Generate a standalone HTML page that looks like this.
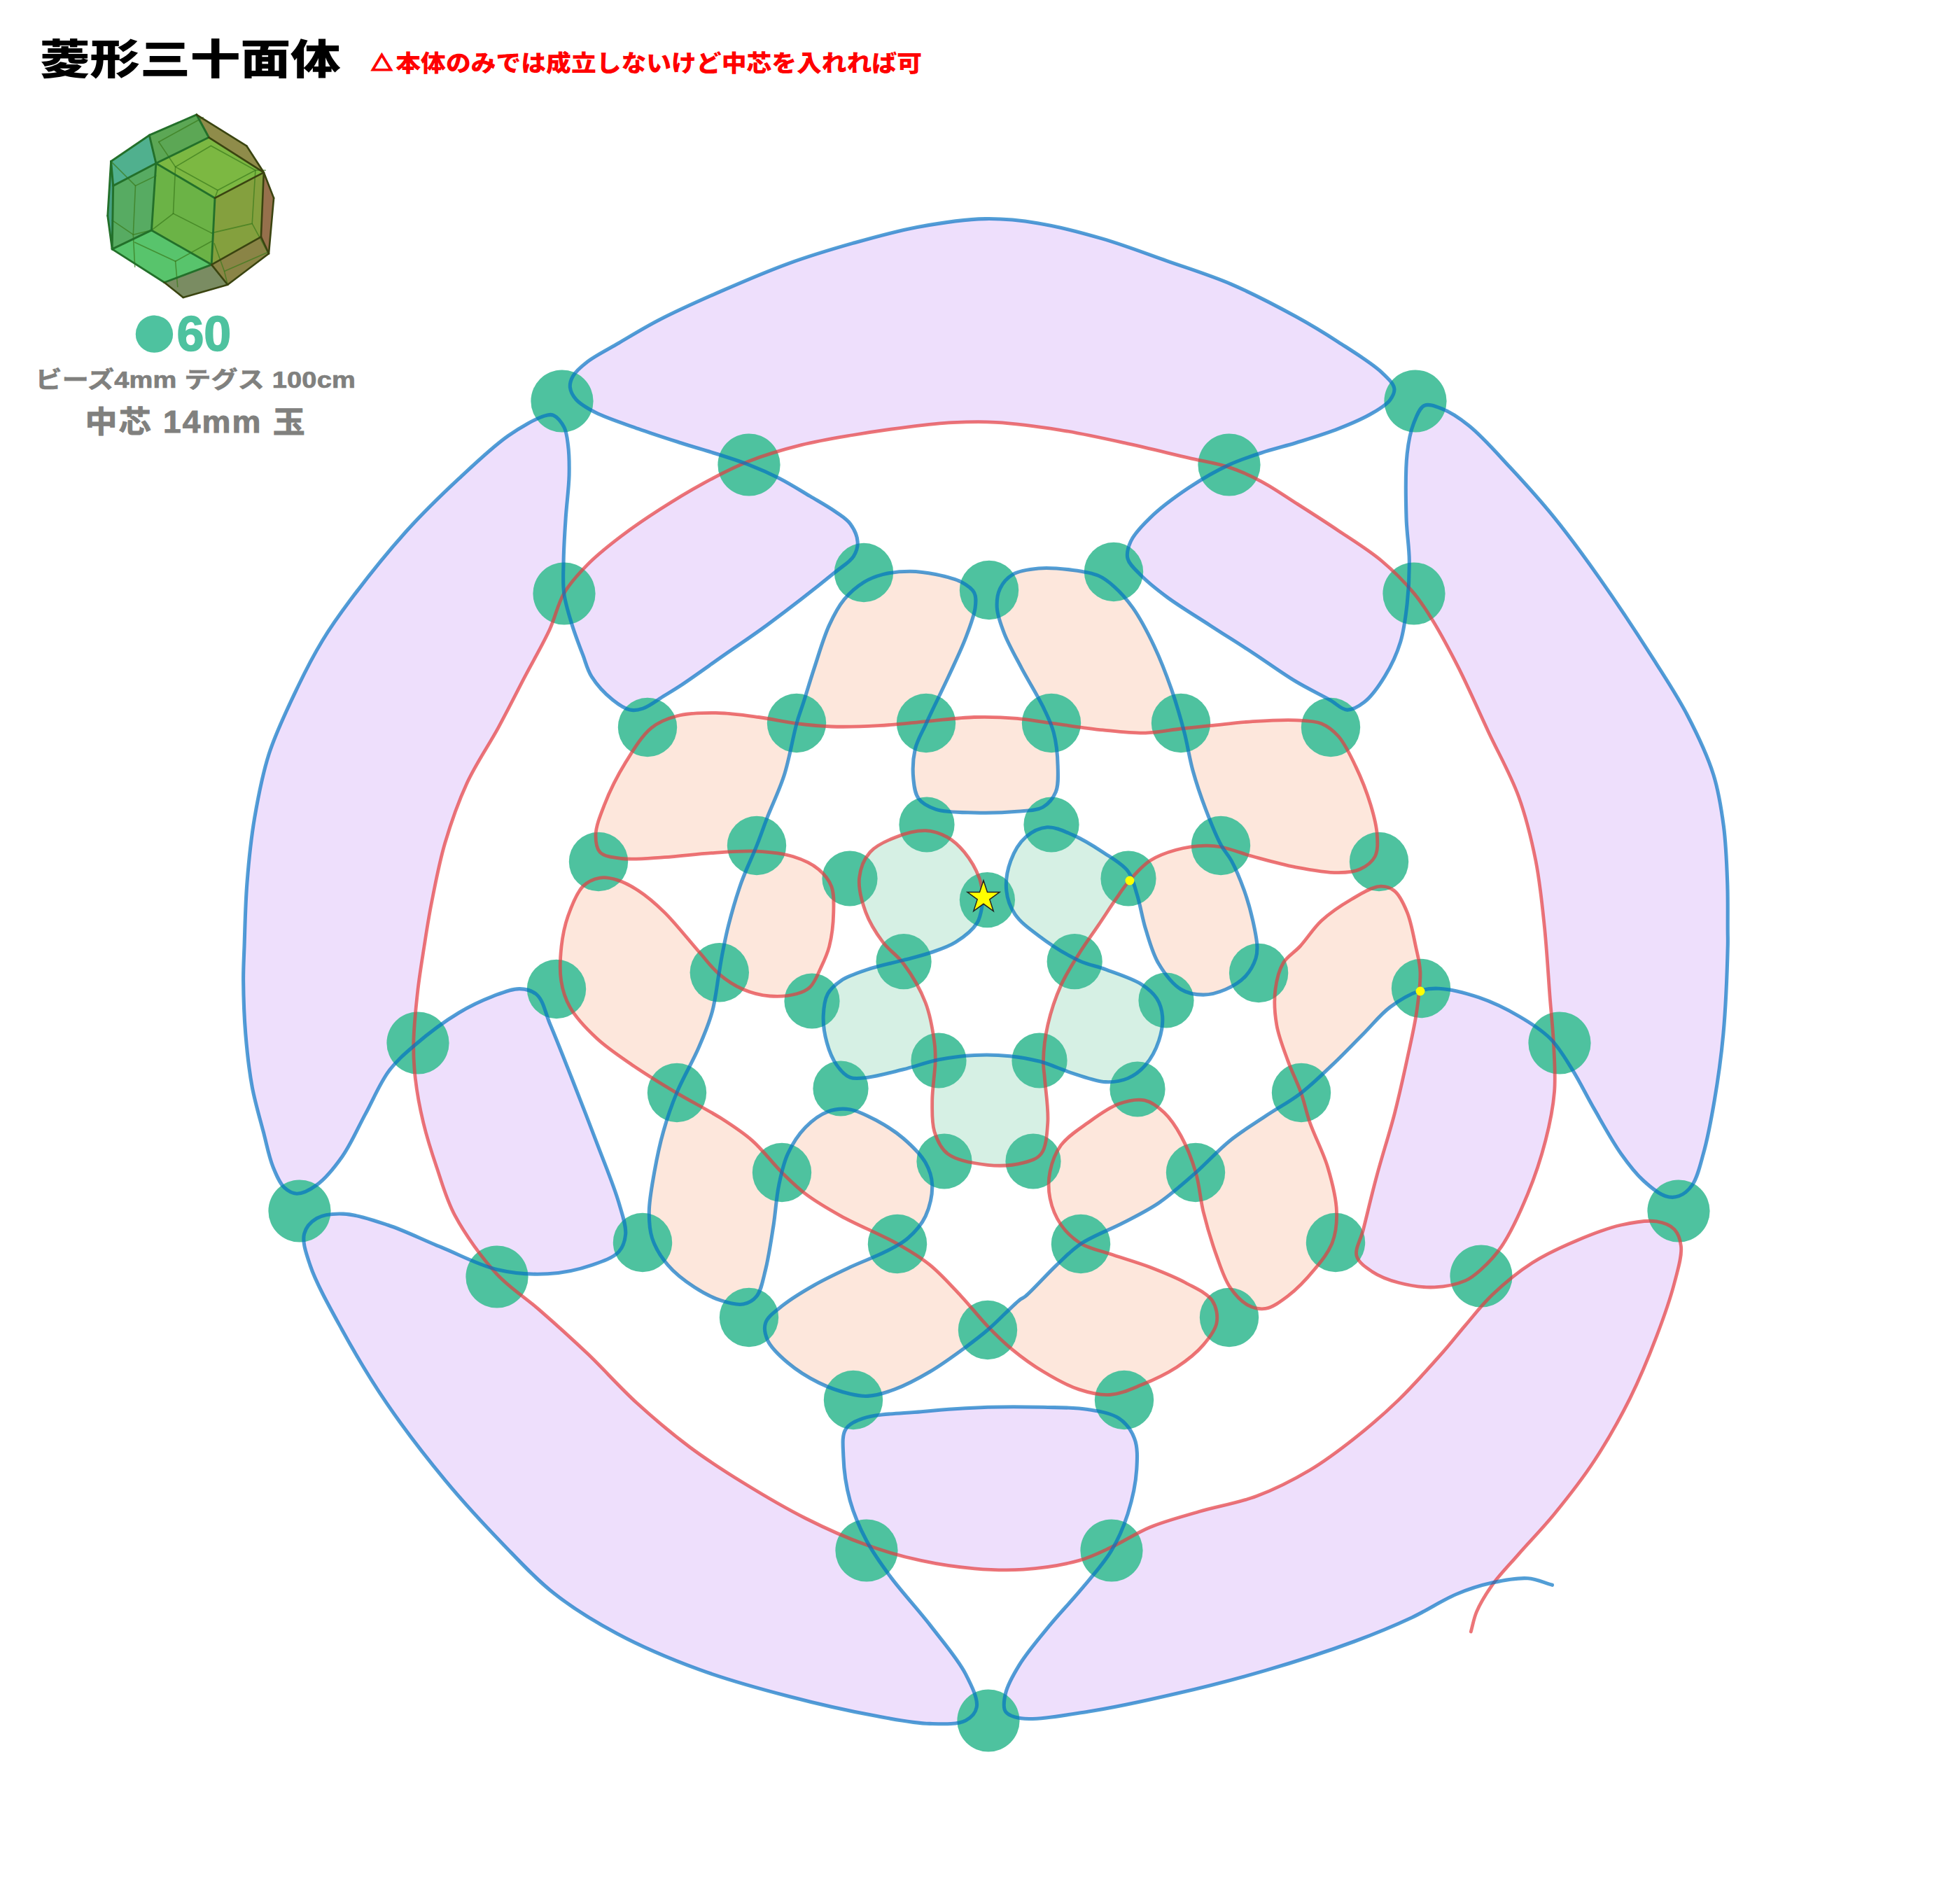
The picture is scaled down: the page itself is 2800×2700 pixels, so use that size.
<!DOCTYPE html>
<html lang="ja"><head><meta charset="utf-8"><title>菱形三十面体</title>
<style>
html,body{margin:0;padding:0;background:#fff}
body{width:2800px;height:2700px;position:relative;overflow:hidden;font-family:"Liberation Sans","Noto Sans CJK JP",sans-serif}
.t{position:absolute;white-space:nowrap;line-height:1;transform-origin:0 0}
</style></head><body>
<svg width="2800" height="2700" viewBox="0 0 2800 2700" style="position:absolute;left:0;top:0">
<path d="M1061.9 661.0L1058.0 659.6L1054.1 658.2L1050.2 656.9L1046.2 655.6L1042.3 654.3L1038.3 653.0L1034.4 651.8L1030.4 650.5L1026.4 649.2L1022.5 648.0L1018.4 646.7L1014.4 645.4L1010.4 644.2L1006.4 643.0L1002.3 641.8L998.3 640.6L994.2 639.4L990.1 638.1L986.0 636.9L981.8 635.6L977.6 634.3L973.3 633.0L968.4 631.4L963.5 629.8L958.4 628.2L953.3 626.6L948.2 624.9L943.0 623.2L937.8 621.5L932.5 619.7L927.3 618.0L922.1 616.2L917.0 614.4L911.9 612.6L906.7 610.8L901.3 608.9L895.9 607.0L890.5 605.1L885.0 603.2L879.6 601.3L874.3 599.3L869.2 597.4L864.2 595.4L859.4 593.4L854.9 591.3L850.7 589.3L847.9 587.8L845.1 586.3L842.4 584.9L839.8 583.4L837.3 581.9L834.8 580.4L832.5 578.9L830.3 577.3L828.3 575.8L826.3 574.1L824.6 572.5L823.0 570.7L821.8 569.4L820.8 568.0L819.7 566.6L818.8 565.1L818.0 563.7L817.2 562.2L816.5 560.7L815.9 559.2L815.4 557.7L815.0 556.3L814.6 554.8L814.4 553.3L814.4 552.0L814.3 550.7L814.4 549.3L814.6 548.0L814.8 546.7L815.2 545.3L815.6 544.0L816.0 542.7L816.5 541.4L817.1 540.0L817.8 538.7L818.5 537.4L819.6 535.7L820.8 534.0L822.2 532.2L823.6 530.5L825.2 528.8L826.9 527.1L828.8 525.4L830.7 523.7L832.6 522.1L834.7 520.4L836.8 518.7L838.9 517.0L841.9 514.7L845.2 512.5L848.6 510.3L852.2 508.0L855.9 505.8L859.8 503.6L863.7 501.4L867.8 499.2L871.8 496.9L875.9 494.6L880.0 492.3L884.0 490.0L888.6 487.3L893.1 484.6L897.7 481.9L902.4 479.1L907.1 476.3L911.9 473.5L916.7 470.7L921.7 467.9L926.7 465.0L931.9 462.2L937.2 459.3L942.6 456.5L949.5 453.0L956.6 449.5L964.0 445.9L971.5 442.3L979.2 438.7L987.1 435.1L995.0 431.5L1002.9 427.9L1010.9 424.4L1018.8 420.9L1026.7 417.5L1034.4 414.1L1042.1 410.7L1049.7 407.4L1057.4 404.1L1065.1 400.8L1072.7 397.6L1080.4 394.4L1088.1 391.2L1095.8 388.1L1103.5 385.0L1111.2 382.1L1118.9 379.1L1126.7 376.3L1134.3 373.6L1141.9 370.9L1149.5 368.4L1157.2 365.8L1164.8 363.4L1172.5 361.0L1180.1 358.6L1187.8 356.3L1195.5 354.0L1203.2 351.8L1210.8 349.6L1218.5 347.4L1226.1 345.3L1233.7 343.1L1241.3 341.0L1248.9 338.9L1256.6 336.9L1264.2 334.9L1271.8 332.9L1279.5 331.1L1287.1 329.3L1294.8 327.6L1302.6 325.9L1310.4 324.4L1318.4 323.0L1326.5 321.6L1334.6 320.2L1342.9 318.9L1351.1 317.7L1359.4 316.5L1367.6 315.5L1375.8 314.6L1383.9 313.9L1391.9 313.3L1399.7 312.8L1407.4 312.6L1414.0 312.5L1420.5 312.6L1426.9 312.8L1433.2 313.0L1439.4 313.4L1445.6 314.0L1451.7 314.6L1457.9 315.3L1464.1 316.0L1470.4 316.9L1476.8 317.9L1483.3 318.9L1490.7 320.2L1498.2 321.6L1505.8 323.1L1513.4 324.8L1521.1 326.6L1528.9 328.4L1536.6 330.4L1544.4 332.5L1552.1 334.6L1559.9 336.7L1567.6 338.9L1575.2 341.1L1582.9 343.4L1590.5 345.8L1598.2 348.3L1605.8 350.9L1613.4 353.5L1621.0 356.2L1628.6 358.9L1636.2 361.6L1643.8 364.4L1651.4 367.1L1659.0 369.9L1666.7 372.6L1674.4 375.3L1682.1 377.9L1689.8 380.6L1697.6 383.2L1705.3 385.9L1713.1 388.5L1720.8 391.3L1728.5 394.0L1736.2 396.9L1743.9 399.9L1751.6 402.9L1759.2 406.1L1767.0 409.5L1774.9 413.1L1782.8 416.8L1790.7 420.6L1798.7 424.5L1806.5 428.5L1814.3 432.5L1822.0 436.4L1829.5 440.4L1836.9 444.4L1844.1 448.2L1851.0 452.0L1856.6 455.1L1862.0 458.2L1867.3 461.2L1872.5 464.2L1877.6 467.2L1882.6 470.2L1887.5 473.2L1892.5 476.2L1897.4 479.3L1902.3 482.4L1907.2 485.5L1912.2 488.8L1917.5 492.2L1923.0 495.7L1928.6 499.3L1934.2 502.9L1939.8 506.6L1945.4 510.3L1950.8 514.0L1956.0 517.7L1961.0 521.3L1965.6 524.8L1969.8 528.3L1973.5 531.6L1975.6 533.7L1977.8 535.7L1979.9 537.7L1981.8 539.7L1983.7 541.6L1985.5 543.6L1987.1 545.5L1988.5 547.4L1989.7 549.3L1990.7 551.2L1991.4 553.0L1991.8 554.9L1992.0 556.3L1992.0 557.8L1991.8 559.2L1991.5 560.6L1991.1 562.0L1990.6 563.4L1989.9 564.8L1989.2 566.1L1988.4 567.5L1987.6 568.8L1986.7 570.1L1985.7 571.4L1984.4 573.1L1982.8 574.7L1981.2 576.3L1979.3 577.9L1977.4 579.4L1975.3 580.9L1973.1 582.4L1970.9 583.9L1968.5 585.4L1966.1 586.8L1963.7 588.3L1961.2 589.8L1957.8 591.8L1954.2 593.7L1950.5 595.7L1946.5 597.6L1942.5 599.6L1938.3 601.5L1934.1 603.4L1929.8 605.3L1925.4 607.1L1921.0 608.9L1916.6 610.7L1912.2 612.4L1907.4 614.3L1902.4 616.2L1897.3 618.0L1892.0 619.8L1886.8 621.5L1881.5 623.2L1876.2 624.9L1870.9 626.5L1865.8 628.1L1860.7 629.7L1855.8 631.2L1851.0 632.7L1847.2 633.8L1843.5 634.9L1839.9 635.9L1836.3 636.9L1832.8 637.8L1829.4 638.8L1825.9 639.7L1822.4 640.6L1819.0 641.6L1815.4 642.6L1811.8 643.7L1808.2 644.9L1804.0 646.3L1799.8 647.6L1795.5 649.0L1791.2 650.4L1786.8 651.9L1782.5 653.4L1778.1 654.9L1773.7 656.6L1769.3 658.3L1764.9 660.0L1760.5 661.9L1756.1 663.9L1751.3 666.2L1751.6 666.1L1747.1 664.8L1742.5 663.6L1737.8 662.5L1733.2 661.5L1728.4 660.5L1723.6 659.5L1718.6 658.5L1713.6 657.5L1708.5 656.4L1703.3 655.3L1698.0 654.1L1691.0 652.5L1683.9 650.8L1676.5 649.0L1668.9 647.2L1661.2 645.4L1653.4 643.5L1645.5 641.6L1637.5 639.8L1629.6 637.9L1621.7 636.1L1613.9 634.4L1606.1 632.7L1598.5 631.0L1590.8 629.3L1583.2 627.7L1575.6 626.0L1567.9 624.4L1560.3 622.8L1552.6 621.3L1545.0 619.8L1537.3 618.3L1529.6 616.9L1522.0 615.6L1514.3 614.3L1506.6 613.1L1498.8 611.9L1490.9 610.7L1483.0 609.6L1475.1 608.5L1467.3 607.5L1459.5 606.6L1451.7 605.7L1444.1 605.0L1436.7 604.3L1429.5 603.7L1422.4 603.3L1416.9 603.0L1411.5 602.8L1406.3 602.7L1401.1 602.6L1396.0 602.6L1391.0 602.6L1386.0 602.7L1381.1 602.8L1376.1 603.0L1371.2 603.2L1366.2 603.4L1361.1 603.7L1356.0 604.0L1351.0 604.3L1346.0 604.7L1341.0 605.1L1336.1 605.6L1331.1 606.1L1326.1 606.6L1321.0 607.2L1315.9 607.7L1310.7 608.3L1305.4 609.0L1300.0 609.6L1293.6 610.4L1287.0 611.3L1280.3 612.1L1273.5 613.1L1266.6 614.0L1259.7 615.0L1252.7 616.0L1245.8 617.1L1238.8 618.2L1232.0 619.3L1225.2 620.4L1218.5 621.5L1212.2 622.5L1206.0 623.6L1199.8 624.6L1193.7 625.7L1187.5 626.8L1181.4 627.9L1175.4 629.0L1169.3 630.2L1163.2 631.5L1157.1 632.8L1151.0 634.2L1144.9 635.7L1138.6 637.3L1132.3 639.0L1125.9 640.7L1119.5 642.4L1113.1 644.3L1106.8 646.2L1100.4 648.1L1094.1 650.2L1087.9 652.3L1081.7 654.4L1075.6 656.7L1069.6 659.0L1063.9 661.3Z" fill="#EEDFFC"/>
<path d="M1061.9 661.0L1065.7 662.4L1069.6 663.9L1073.4 665.4L1077.2 666.9L1080.9 668.4L1084.6 670.0L1088.4 671.6L1092.1 673.2L1095.8 674.9L1099.5 676.6L1103.1 678.3L1106.8 680.1L1110.4 681.9L1114.1 683.7L1117.8 685.6L1121.4 687.6L1125.1 689.7L1128.8 691.8L1132.5 693.9L1136.1 696.0L1139.7 698.2L1143.3 700.4L1146.9 702.6L1150.4 704.7L1153.9 706.8L1157.4 708.9L1160.6 710.8L1163.8 712.7L1167.0 714.5L1170.2 716.4L1173.3 718.2L1176.5 720.1L1179.5 721.9L1182.6 723.8L1185.5 725.6L1188.3 727.5L1191.1 729.3L1193.7 731.1L1195.7 732.5L1197.8 733.9L1199.7 735.3L1201.7 736.6L1203.6 738.0L1205.4 739.3L1207.1 740.7L1208.8 742.1L1210.5 743.6L1212.0 745.1L1213.5 746.8L1214.8 748.5L1216.1 750.4L1217.4 752.4L1218.6 754.5L1219.8 756.6L1220.8 758.9L1221.8 761.1L1222.7 763.4L1223.5 765.7L1224.1 768.0L1224.6 770.2L1225.0 772.4L1225.2 774.4L1225.2 776.2L1225.2 778.0L1225.0 779.7L1224.7 781.5L1224.4 783.2L1223.9 784.9L1223.4 786.6L1222.7 788.3L1222.0 789.9L1221.2 791.6L1220.2 793.2L1219.3 794.8L1217.8 796.8L1216.3 798.7L1214.5 800.5L1212.6 802.3L1210.6 804.0L1208.4 805.8L1206.0 807.5L1203.6 809.4L1201.0 811.3L1198.3 813.3L1195.5 815.5L1192.6 817.8L1186.6 822.6L1179.8 828.1L1172.2 834.1L1164.1 840.5L1155.6 847.2L1146.8 854.1L1137.8 861.1L1128.9 868.0L1120.1 874.7L1111.5 881.2L1103.5 887.3L1095.9 892.9L1090.4 896.9L1085.0 900.8L1079.7 904.5L1074.6 908.2L1069.5 911.7L1064.5 915.2L1059.6 918.6L1054.6 921.9L1049.7 925.3L1044.8 928.7L1039.8 932.2L1034.7 935.7L1029.5 939.4L1024.2 943.1L1018.8 947.0L1013.3 950.8L1007.8 954.7L1002.4 958.5L997.1 962.3L991.9 966.0L986.9 969.4L982.1 972.7L977.6 975.8L973.5 978.6L971.1 980.1L968.8 981.6L966.7 983.0L964.6 984.3L962.7 985.5L960.8 986.7L958.9 987.9L957.0 989.0L955.1 990.2L953.1 991.4L951.1 992.6L949.0 993.9L946.5 995.4L944.0 997.1L941.4 998.8L938.8 1000.6L936.2 1002.4L933.5 1004.1L930.9 1005.8L928.3 1007.4L925.7 1008.9L923.2 1010.2L920.7 1011.4L918.4 1012.2L916.7 1012.8L915.1 1013.2L913.6 1013.7L912.1 1014.0L910.6 1014.3L909.1 1014.5L907.6 1014.6L906.1 1014.7L904.6 1014.7L903.1 1014.6L901.6 1014.4L900.0 1014.1L898.0 1013.6L896.0 1012.9L894.0 1012.1L892.0 1011.1L889.9 1010.1L887.9 1008.9L885.8 1007.6L883.7 1006.2L881.7 1004.7L879.6 1003.2L877.5 1001.6L875.5 1000.0L872.9 997.8L870.2 995.4L867.4 992.9L864.7 990.2L861.9 987.3L859.1 984.4L856.5 981.4L853.9 978.4L851.4 975.3L849.1 972.3L846.9 969.2L845.0 966.3L843.5 963.8L842.2 961.4L841.0 958.9L840.0 956.4L839.0 954.0L838.1 951.5L837.2 948.9L836.4 946.4L835.5 943.8L834.6 941.1L833.7 938.5L832.7 935.7L831.4 932.4L830.1 929.0L828.8 925.6L827.5 922.1L826.1 918.5L824.8 914.9L823.5 911.2L822.2 907.6L820.9 903.9L819.7 900.2L818.5 896.5L817.3 892.9L816.2 889.2L815.1 885.4L813.9 881.7L812.8 877.9L811.7 874.2L810.6 870.4L809.6 866.6L808.6 862.8L807.8 859.0L807.0 855.2L806.3 851.4L805.7 847.6L805.7 847.6L808.0 843.8L810.4 840.2L812.9 836.7L815.5 833.2L818.2 829.8L820.9 826.4L823.8 823.1L826.7 819.9L829.6 816.7L832.7 813.5L835.7 810.3L838.8 807.1L842.0 803.9L845.3 800.7L848.7 797.6L852.1 794.5L855.5 791.5L859.1 788.5L862.7 785.5L866.3 782.5L870.0 779.5L873.8 776.5L877.7 773.5L881.6 770.4L886.3 766.8L891.1 763.2L896.0 759.6L901.0 756.0L906.2 752.3L911.4 748.7L916.6 745.1L921.9 741.5L927.2 737.9L932.4 734.4L937.7 730.9L942.9 727.6L947.9 724.3L952.9 721.1L958.0 717.9L963.0 714.7L968.1 711.6L973.2 708.5L978.2 705.5L983.4 702.5L988.5 699.5L993.7 696.6L998.8 693.7L1004.1 690.8L1009.4 687.9L1014.7 685.1L1020.0 682.3L1025.4 679.5L1030.8 676.7L1036.2 674.0L1041.6 671.3L1047.1 668.7L1052.7 666.2L1058.2 663.7L1063.9 661.3Z" fill="#EEDFFC"/>
<path d="M2012.0 842.1L2011.6 847.2L2011.2 852.3L2010.7 857.3L2010.2 862.2L2009.7 866.9L2009.2 871.6L2008.6 876.3L2008.0 881.0L2007.4 885.6L2006.7 890.2L2005.9 894.7L2005.1 899.3L2004.2 903.8L2003.2 908.2L2002.0 912.7L2000.7 917.0L1999.4 921.3L1997.9 925.6L1996.3 929.8L1994.6 934.1L1992.9 938.2L1991.0 942.4L1989.1 946.5L1987.1 950.5L1985.0 954.5L1982.9 958.4L1980.7 962.2L1978.5 965.9L1976.4 969.4L1974.1 972.9L1971.8 976.4L1969.4 979.9L1967.0 983.3L1964.5 986.6L1962.0 989.8L1959.4 992.9L1956.8 995.8L1954.2 998.5L1951.6 1000.9L1949.0 1003.1L1947.0 1004.6L1945.0 1006.0L1943.0 1007.4L1940.9 1008.7L1938.9 1009.9L1936.8 1011.0L1934.8 1012.0L1932.7 1012.8L1930.6 1013.4L1928.6 1013.8L1926.5 1014.1L1924.5 1014.1L1922.5 1013.8L1920.5 1013.3L1918.5 1012.5L1916.6 1011.4L1914.7 1010.2L1912.8 1008.9L1910.8 1007.5L1908.8 1005.9L1906.7 1004.4L1904.6 1002.9L1902.3 1001.4L1900.0 1000.0L1896.5 998.1L1892.8 996.1L1889.0 994.1L1885.0 992.0L1880.9 989.9L1876.7 987.7L1872.4 985.4L1868.1 983.1L1863.7 980.8L1859.4 978.4L1855.0 975.9L1850.7 973.3L1845.8 970.3L1840.9 967.2L1835.8 963.9L1830.8 960.5L1825.7 957.1L1820.5 953.6L1815.4 950.0L1810.2 946.5L1805.0 942.9L1799.9 939.4L1794.8 936.0L1789.6 932.6L1784.5 929.3L1779.5 926.0L1774.4 922.7L1769.3 919.4L1764.2 916.2L1759.1 912.9L1754.0 909.7L1748.9 906.4L1743.8 903.2L1738.7 899.9L1733.6 896.6L1728.5 893.3L1723.4 890.0L1718.1 886.6L1712.8 883.3L1707.5 879.9L1702.1 876.5L1696.8 873.1L1691.6 869.7L1686.4 866.3L1681.4 863.0L1676.5 859.6L1671.8 856.3L1667.3 853.1L1663.8 850.4L1660.4 847.9L1657.0 845.3L1653.7 842.7L1650.5 840.2L1647.4 837.6L1644.4 835.1L1641.4 832.6L1638.6 830.0L1635.8 827.5L1633.2 825.0L1630.6 822.5L1628.6 820.4L1626.5 818.4L1624.5 816.4L1622.5 814.4L1620.5 812.4L1618.6 810.4L1616.9 808.4L1615.3 806.3L1613.9 804.3L1612.7 802.2L1611.7 800.1L1611.0 798.0L1610.6 796.0L1610.4 794.0L1610.3 792.0L1610.4 790.0L1610.6 788.0L1611.0 785.9L1611.5 783.9L1612.1 781.8L1612.8 779.7L1613.5 777.6L1614.4 775.5L1615.3 773.5L1616.7 770.7L1618.3 767.9L1620.1 765.2L1622.1 762.4L1624.3 759.6L1626.6 756.7L1629.1 753.9L1631.7 751.1L1634.4 748.3L1637.2 745.4L1640.0 742.6L1642.9 739.8L1646.6 736.2L1650.7 732.6L1654.9 728.9L1659.4 725.2L1664.0 721.5L1668.7 717.8L1673.5 714.2L1678.4 710.6L1683.3 707.0L1688.3 703.6L1693.1 700.2L1698.0 696.9L1702.7 693.8L1707.4 690.8L1712.2 687.8L1717.1 684.8L1722.0 681.9L1726.8 679.1L1731.7 676.3L1736.7 673.6L1741.6 671.0L1746.4 668.5L1751.3 666.2L1751.6 666.1L1756.1 667.6L1760.2 668.9L1764.2 670.4L1768.1 671.9L1772.0 673.4L1775.8 675.0L1779.5 676.7L1783.3 678.4L1787.0 680.1L1790.7 682.0L1794.5 683.8L1798.2 685.8L1802.0 687.8L1806.1 690.0L1810.2 692.3L1814.2 694.7L1818.2 697.1L1822.2 699.6L1826.2 702.2L1830.3 704.8L1834.3 707.5L1838.4 710.2L1842.6 712.9L1846.8 715.6L1851.0 718.4L1855.9 721.5L1860.9 724.6L1865.9 727.9L1871.0 731.1L1876.1 734.4L1881.3 737.8L1886.5 741.1L1891.6 744.5L1896.8 747.9L1902.0 751.3L1907.1 754.7L1912.2 758.2L1917.4 761.6L1922.6 765.1L1927.9 768.5L1933.2 772.0L1938.4 775.5L1943.7 779.0L1948.8 782.5L1954.0 786.1L1959.0 789.8L1964.0 793.4L1968.8 797.2L1973.5 801.0L1977.8 804.7L1982.0 808.4L1986.2 812.2L1990.4 816.1L1994.4 820.0L1998.4 823.9L2002.3 827.9L2006.1 831.9L2009.7 835.8L2013.3 839.8Z" fill="#EEDFFC"/>
<path d="M805.7 847.6L805.3 843.7L804.9 839.9L804.7 836.2L804.6 832.4L804.5 828.6L804.5 824.8L804.6 820.9L804.7 817.1L804.8 813.1L804.9 809.2L805.0 805.1L805.1 801.0L805.2 796.2L805.4 791.3L805.5 786.3L805.8 781.2L806.0 776.1L806.3 770.9L806.6 765.7L806.9 760.5L807.2 755.3L807.5 750.1L807.8 744.9L808.2 739.8L808.5 734.7L809.0 729.5L809.4 724.2L809.9 719.0L810.4 713.7L811.0 708.5L811.5 703.3L811.9 698.2L812.3 693.1L812.7 688.2L812.9 683.3L813.1 678.6L813.1 674.7L813.2 670.8L813.2 667.0L813.2 663.2L813.1 659.5L813.0 655.9L812.8 652.3L812.7 648.7L812.4 645.3L812.2 642.0L811.9 638.7L811.5 635.6L811.2 633.2L810.9 630.9L810.6 628.6L810.3 626.4L810.0 624.2L809.6 622.1L809.2 620.0L808.7 618.0L808.2 616.0L807.5 614.1L806.8 612.2L805.9 610.4L805.0 608.7L804.0 606.9L802.9 605.2L801.7 603.5L800.4 601.8L799.1 600.2L797.7 598.6L796.3 597.3L794.9 596.0L793.5 594.9L792.1 594.0L790.7 593.3L789.7 593.0L788.7 592.7L787.8 592.5L786.8 592.4L785.8 592.4L784.8 592.5L783.8 592.6L782.7 592.8L781.6 593.0L780.4 593.3L779.1 593.7L777.8 594.1L774.6 595.1L771.1 596.5L767.2 598.2L763.1 600.2L758.7 602.4L754.1 604.9L749.5 607.6L744.7 610.4L739.9 613.3L735.2 616.4L730.5 619.5L725.9 622.6L720.3 626.7L714.5 631.0L708.7 635.7L702.9 640.6L697.0 645.6L691.1 650.9L685.2 656.2L679.2 661.7L673.3 667.2L667.4 672.7L661.5 678.2L655.6 683.7L649.4 689.5L643.2 695.3L637.0 701.2L630.8 707.1L624.7 713.1L618.5 719.2L612.3 725.4L606.1 731.6L600.0 738.0L593.8 744.5L587.7 751.1L581.5 757.8L574.6 765.6L567.5 773.7L560.3 782.1L553.1 790.7L545.9 799.4L538.7 808.2L531.7 817.0L524.8 825.6L518.1 834.1L511.7 842.4L505.7 850.3L500.0 857.8L496.1 863.0L492.3 868.1L488.8 873.0L485.3 877.7L482.0 882.4L478.8 887.0L475.7 891.6L472.6 896.2L469.6 900.8L466.5 905.5L463.5 910.3L460.5 915.2L457.4 920.3L454.4 925.5L451.4 930.6L448.6 935.8L445.7 941.0L442.9 946.3L440.1 951.7L437.3 957.1L434.5 962.6L431.7 968.3L428.9 974.1L426.0 980.0L422.5 987.3L418.9 994.9L415.2 1002.6L411.4 1010.6L407.7 1018.6L404.0 1026.8L400.4 1035.1L396.9 1043.4L393.5 1051.7L390.3 1060.0L387.3 1068.2L384.5 1076.3L382.1 1083.9L379.9 1091.6L377.8 1099.2L375.9 1106.8L374.0 1114.5L372.3 1122.1L370.7 1129.8L369.2 1137.4L367.8 1145.1L366.4 1152.8L365.0 1160.5L363.7 1168.1L362.4 1175.8L361.3 1183.5L360.2 1191.1L359.1 1198.8L358.2 1206.5L357.3 1214.2L356.5 1221.9L355.7 1229.6L354.9 1237.3L354.2 1245.0L353.6 1252.7L353.0 1260.4L352.4 1268.1L351.9 1276.0L351.4 1284.0L351.1 1292.0L350.7 1300.0L350.4 1308.0L350.1 1315.9L349.9 1323.6L349.6 1331.1L349.4 1338.4L349.2 1345.4L349.0 1352.0L348.8 1356.6L348.6 1360.9L348.5 1365.0L348.3 1369.0L348.1 1372.9L348.0 1376.7L347.9 1380.5L347.8 1384.3L347.7 1388.2L347.6 1392.2L347.6 1396.4L347.6 1400.8L347.7 1406.6L347.8 1412.5L347.9 1418.7L348.0 1424.9L348.2 1431.4L348.5 1437.8L348.7 1444.4L349.1 1451.0L349.4 1457.6L349.8 1464.1L350.3 1470.6L350.8 1477.0L351.3 1483.4L351.9 1489.8L352.5 1496.2L353.2 1502.7L353.9 1509.1L354.7 1515.6L355.5 1522.0L356.3 1528.4L357.2 1534.7L358.2 1540.9L359.2 1547.1L360.3 1553.2L361.4 1558.7L362.6 1564.2L363.8 1569.7L365.1 1575.1L366.5 1580.5L367.9 1585.8L369.3 1591.1L370.7 1596.3L372.1 1601.5L373.5 1606.6L374.9 1611.7L376.2 1616.7L377.3 1621.1L378.4 1625.6L379.5 1630.0L380.6 1634.5L381.6 1638.8L382.7 1643.2L383.8 1647.4L384.9 1651.6L386.1 1655.6L387.3 1659.6L388.6 1663.4L390.0 1667.0L391.2 1669.9L392.4 1672.8L393.6 1675.6L394.8 1678.4L396.1 1681.1L397.4 1683.8L398.7 1686.3L400.1 1688.7L401.6 1691.0L403.1 1693.1L404.6 1695.0L406.3 1696.7L407.6 1697.9L408.9 1699.0L410.3 1700.0L411.7 1701.0L413.2 1701.9L414.6 1702.7L416.1 1703.4L417.7 1704.0L419.2 1704.5L420.8 1704.9L422.4 1705.1L424.1 1705.2L426.2 1705.1L428.4 1704.8L430.7 1704.3L433.0 1703.5L435.4 1702.7L437.9 1701.6L440.3 1700.4L442.8 1699.1L445.2 1697.6L447.6 1696.1L450.0 1694.5L452.4 1692.9L455.5 1690.5L458.6 1687.8L461.8 1684.9L464.9 1681.8L468.0 1678.5L471.1 1675.1L474.2 1671.5L477.3 1667.7L480.3 1663.9L483.2 1660.0L486.1 1656.1L488.9 1652.2L492.0 1647.7L494.9 1643.0L497.8 1638.1L500.6 1633.0L503.4 1627.9L506.1 1622.7L508.8 1617.4L511.4 1612.1L514.1 1606.8L516.8 1601.5L519.5 1596.3L522.2 1591.1L525.0 1586.0L527.7 1580.7L530.3 1575.4L533.0 1570.0L535.6 1564.6L538.3 1559.3L541.0 1554.1L543.7 1548.9L546.5 1543.9L549.4 1539.0L552.4 1534.4L555.6 1530.0L558.3 1526.4L561.1 1523.0L564.0 1519.7L566.9 1516.6L569.8 1513.6L572.8 1510.6L575.9 1507.7L579.0 1504.8L582.2 1501.9L585.6 1499.0L589.0 1496.0L592.6 1493.0L590.7 1494.3L590.8 1489.7L590.9 1483.8L591.2 1477.8L591.5 1471.5L592.0 1465.1L592.5 1458.6L593.0 1452.0L593.6 1445.4L594.3 1438.8L594.9 1432.3L595.6 1425.9L596.3 1419.6L597.0 1413.5L597.6 1408.1L598.3 1402.9L599.0 1397.6L599.7 1392.5L600.5 1387.4L601.2 1382.3L602.0 1377.3L602.8 1372.2L603.6 1367.2L604.4 1362.2L605.2 1357.1L606.0 1352.0L606.8 1346.9L607.6 1341.8L608.4 1336.8L609.2 1331.8L610.0 1326.8L610.8 1321.8L611.6 1316.8L612.5 1311.7L613.4 1306.5L614.3 1301.2L615.3 1295.9L616.4 1290.4L617.7 1283.7L619.0 1276.9L620.4 1269.9L621.8 1262.8L623.3 1255.6L624.8 1248.4L626.4 1241.1L628.1 1233.7L629.8 1226.4L631.7 1219.1L633.6 1211.9L635.6 1204.8L637.8 1197.6L640.0 1190.3L642.3 1183.1L644.7 1175.8L647.1 1168.6L649.7 1161.4L652.3 1154.2L655.1 1147.0L657.9 1139.9L660.8 1132.8L663.9 1125.8L667.0 1118.9L670.3 1112.0L673.8 1105.2L677.4 1098.5L681.2 1091.8L685.0 1085.1L689.0 1078.5L692.9 1072.0L696.9 1065.4L700.8 1058.9L704.6 1052.3L708.4 1045.8L712.0 1039.3L715.3 1033.1L718.6 1027.0L721.8 1020.8L725.0 1014.7L728.2 1008.6L731.4 1002.5L734.5 996.4L737.6 990.3L740.7 984.3L743.8 978.3L746.9 972.3L750.0 966.3L753.0 960.6L756.1 954.8L759.2 949.1L762.3 943.4L765.5 937.7L768.6 932.0L771.6 926.4L774.6 920.8L777.5 915.2L780.2 909.7L782.9 904.3L785.4 899.0L787.4 894.5L789.2 890.0L790.8 885.5L792.3 881.1L793.8 876.7L795.3 872.3L796.7 868.0L798.2 863.8L799.9 859.6L801.6 855.5L803.6 851.5L805.7 847.6Z" fill="#EEDFFC"/>
<path d="M2220.3 1489.9L2223.2 1493.4L2225.9 1496.9L2228.5 1500.6L2231.1 1504.3L2233.6 1508.1L2236.1 1511.9L2238.6 1515.8L2241.0 1519.8L2243.5 1523.8L2246.0 1527.8L2248.8 1532.2L2251.5 1536.8L2254.1 1541.4L2256.7 1546.1L2259.3 1550.8L2261.9 1555.6L2264.4 1560.5L2267.0 1565.4L2269.6 1570.3L2272.3 1575.2L2275.0 1580.0L2277.8 1584.9L2280.8 1590.2L2283.9 1595.6L2287.0 1601.0L2290.1 1606.6L2293.3 1612.1L2296.5 1617.7L2299.7 1623.1L2303.0 1628.5L2306.2 1633.8L2309.4 1638.9L2312.7 1643.8L2315.9 1648.4L2318.5 1652.1L2321.1 1655.6L2323.7 1659.1L2326.3 1662.5L2328.8 1665.9L2331.4 1669.1L2334.1 1672.2L2336.7 1675.3L2339.4 1678.2L2342.1 1681.1L2344.8 1683.9L2347.6 1686.5L2350.2 1688.8L2352.8 1691.1L2355.4 1693.4L2358.1 1695.7L2360.9 1697.9L2363.6 1699.9L2366.3 1701.9L2369.1 1703.7L2371.7 1705.3L2374.3 1706.7L2376.9 1707.8L2379.4 1708.7L2381.1 1709.2L2382.7 1709.6L2384.4 1709.9L2386.0 1710.2L2387.6 1710.3L2389.2 1710.3L2390.8 1710.3L2392.3 1710.2L2393.9 1709.9L2395.4 1709.6L2396.9 1709.2L2398.4 1708.7L2400.1 1708.0L2401.8 1707.2L2403.5 1706.3L2405.2 1705.2L2406.9 1704.0L2408.5 1702.7L2410.1 1701.3L2411.7 1699.8L2413.2 1698.2L2414.7 1696.5L2416.1 1694.7L2417.5 1692.9L2419.2 1690.1L2420.8 1687.1L2422.3 1683.9L2423.8 1680.5L2425.1 1676.9L2426.3 1673.1L2427.5 1669.2L2428.7 1665.2L2429.9 1661.1L2431.0 1656.9L2432.2 1652.7L2433.3 1648.4L2434.8 1642.8L2436.3 1637.1L2437.8 1631.1L2439.2 1624.9L2440.5 1618.6L2441.8 1612.2L2443.1 1605.7L2444.4 1599.1L2445.7 1592.4L2446.9 1585.7L2448.0 1579.0L2449.2 1572.2L2450.5 1564.7L2451.7 1557.2L2452.9 1549.5L2454.1 1541.8L2455.2 1534.0L2456.3 1526.2L2457.4 1518.2L2458.4 1510.2L2459.3 1502.0L2460.2 1493.8L2461.1 1485.4L2461.9 1477.0L2462.8 1466.7L2463.6 1455.7L2464.3 1444.1L2465.0 1432.2L2465.6 1420.2L2466.2 1408.2L2466.7 1396.5L2467.1 1385.3L2467.5 1374.9L2467.8 1365.4L2468.1 1357.0L2468.3 1350.0L2468.3 1347.5L2468.3 1345.3L2468.3 1343.4L2468.3 1341.6L2468.3 1340.0L2468.3 1338.4L2468.3 1336.8L2468.3 1335.3L2468.2 1333.6L2468.2 1331.8L2468.2 1329.8L2468.2 1327.6L2468.2 1323.2L2468.2 1318.4L2468.2 1313.3L2468.2 1307.9L2468.2 1302.2L2468.2 1296.3L2468.2 1290.2L2468.2 1284.1L2468.1 1278.0L2468.0 1271.8L2467.9 1265.7L2467.7 1259.8L2467.5 1253.4L2467.2 1246.9L2467.0 1240.3L2466.7 1233.7L2466.4 1227.0L2466.0 1220.3L2465.6 1213.5L2465.1 1206.8L2464.6 1200.2L2463.9 1193.5L2463.2 1186.9L2462.4 1180.4L2461.6 1174.2L2460.8 1168.0L2459.9 1161.9L2458.9 1155.8L2457.9 1149.7L2456.9 1143.6L2455.7 1137.6L2454.4 1131.5L2453.0 1125.4L2451.5 1119.3L2449.8 1113.1L2447.9 1106.9L2445.6 1099.9L2443.1 1092.8L2440.4 1085.6L2437.5 1078.5L2434.5 1071.3L2431.3 1064.1L2428.0 1056.9L2424.6 1049.7L2421.1 1042.5L2417.6 1035.3L2414.0 1028.2L2410.3 1021.2L2406.5 1013.9L2402.5 1006.8L2398.4 999.7L2394.3 992.6L2390.0 985.6L2385.7 978.6L2381.2 971.5L2376.7 964.5L2372.1 957.3L2367.5 950.0L2362.7 942.7L2357.9 935.2L2352.3 926.3L2346.4 917.2L2340.4 907.9L2334.2 898.5L2327.9 889.0L2321.6 879.4L2315.2 869.9L2308.8 860.4L2302.4 851.0L2296.1 841.8L2289.8 832.8L2283.7 824.1L2278.3 816.5L2273.0 809.0L2267.7 801.6L2262.4 794.3L2257.1 787.1L2251.9 780.0L2246.6 773.0L2241.3 766.0L2236.1 759.2L2230.7 752.3L2225.4 745.6L2220.0 738.9L2214.9 732.6L2209.7 726.4L2204.5 720.3L2199.3 714.2L2194.1 708.2L2188.9 702.3L2183.6 696.4L2178.4 690.6L2173.1 684.8L2167.9 679.1L2162.6 673.4L2157.4 667.8L2152.5 662.4L2147.5 657.0L2142.4 651.6L2137.4 646.1L2132.4 640.7L2127.3 635.4L2122.3 630.2L2117.4 625.2L2112.4 620.4L2107.6 615.9L2102.8 611.7L2098.1 607.8L2094.7 605.1L2091.3 602.5L2088.0 600.1L2084.6 597.7L2081.3 595.5L2078.0 593.3L2074.8 591.4L2071.5 589.5L2068.4 587.8L2065.3 586.3L2062.2 584.9L2059.2 583.7L2057.0 582.8L2054.8 582.0L2052.6 581.2L2050.4 580.4L2048.2 579.7L2046.1 579.2L2044.0 578.7L2042.0 578.4L2040.0 578.3L2038.2 578.4L2036.4 578.8L2034.7 579.4L2033.0 580.4L2031.4 581.7L2029.9 583.4L2028.4 585.3L2027.1 587.4L2025.8 589.7L2024.7 592.2L2023.5 594.7L2022.4 597.3L2021.4 599.9L2020.4 602.6L2019.4 605.1L2018.2 608.2L2017.2 611.3L2016.2 614.5L2015.3 617.8L2014.5 621.2L2013.7 624.7L2013.0 628.3L2012.4 632.0L2011.8 635.8L2011.2 639.7L2010.7 643.8L2010.2 648.0L2009.6 654.4L2009.1 661.4L2008.7 668.9L2008.5 676.7L2008.3 684.7L2008.3 692.8L2008.3 701.1L2008.3 709.3L2008.5 717.3L2008.6 725.2L2008.8 732.7L2009.0 739.8L2009.2 745.3L2009.5 750.7L2009.9 756.0L2010.3 761.1L2010.8 766.2L2011.3 771.2L2011.8 776.1L2012.2 781.1L2012.6 786.0L2012.9 791.0L2013.2 796.0L2013.3 801.0L2013.3 806.1L2013.3 811.3L2013.2 816.4L2013.1 821.6L2012.9 826.7L2012.6 831.9L2012.4 837.0L2012.0 842.1L2013.3 839.8L2016.7 843.7L2020.0 847.6L2022.6 850.8L2025.1 854.0L2027.5 857.1L2029.8 860.2L2032.0 863.3L2034.1 866.4L2036.2 869.6L2038.3 872.8L2040.4 876.1L2042.5 879.5L2044.7 883.0L2046.9 886.7L2049.9 891.6L2052.9 896.7L2055.9 901.9L2059.0 907.3L2062.0 912.8L2065.1 918.5L2068.2 924.2L2071.3 930.0L2074.4 936.0L2077.5 942.0L2080.6 948.0L2083.7 954.1L2087.2 961.2L2090.8 968.5L2094.3 976.0L2097.9 983.6L2101.5 991.3L2105.1 999.0L2108.6 1006.9L2112.2 1014.7L2115.8 1022.6L2119.4 1030.4L2123.0 1038.2L2126.5 1045.9L2130.2 1053.6L2133.9 1061.2L2137.7 1068.8L2141.5 1076.4L2145.3 1084.0L2149.1 1091.6L2152.8 1099.3L2156.4 1106.9L2159.9 1114.6L2163.3 1122.3L2166.4 1130.0L2169.4 1137.8L2172.1 1145.3L2174.6 1152.9L2177.0 1160.5L2179.2 1168.1L2181.4 1175.8L2183.4 1183.4L2185.4 1191.1L2187.2 1198.8L2189.0 1206.5L2190.7 1214.2L2192.3 1221.9L2193.9 1229.6L2195.3 1237.2L2196.7 1244.8L2197.9 1252.3L2199.0 1259.9L2200.0 1267.5L2201.0 1275.0L2201.9 1282.7L2202.8 1290.3L2203.7 1298.0L2204.5 1305.7L2205.3 1313.6L2206.1 1321.4L2207.0 1330.0L2207.8 1338.8L2208.6 1347.7L2209.3 1356.8L2210.0 1365.9L2210.6 1375.0L2211.3 1384.0L2211.9 1392.9L2212.5 1401.7L2213.1 1410.2L2213.7 1418.4L2214.3 1426.2L2214.8 1432.0L2215.2 1437.7L2215.7 1443.1L2216.2 1448.4L2216.7 1453.6L2217.1 1458.7L2217.6 1463.8L2218.0 1468.9L2218.4 1474.0L2218.8 1479.1L2219.1 1484.3L2219.4 1489.7Z" fill="#EEDFFC"/>
<path d="M592.6 1493.0L597.2 1489.1L602.0 1485.1L607.1 1481.0L612.3 1476.9L617.7 1472.8L623.2 1468.6L628.7 1464.6L634.2 1460.7L639.7 1456.9L645.1 1453.3L650.4 1449.8L655.6 1446.7L659.7 1444.2L663.8 1441.9L667.9 1439.6L672.0 1437.4L676.1 1435.4L680.1 1433.4L684.1 1431.5L688.1 1429.7L692.0 1428.0L695.9 1426.4L699.8 1424.8L703.7 1423.3L707.1 1422.1L710.4 1420.8L713.8 1419.5L717.2 1418.2L720.6 1417.0L723.9 1415.9L727.2 1414.9L730.4 1414.1L733.6 1413.4L736.7 1412.9L739.7 1412.6L742.6 1412.6L744.9 1412.7L747.2 1412.9L749.4 1413.2L751.6 1413.7L753.8 1414.2L756.0 1414.8L758.0 1415.6L760.0 1416.5L762.0 1417.5L763.9 1418.7L765.7 1420.0L767.4 1421.5L769.5 1423.7L771.4 1426.3L773.1 1429.2L774.6 1432.4L776.1 1435.8L777.4 1439.5L778.8 1443.2L780.1 1447.2L781.4 1451.2L782.8 1455.2L784.3 1459.3L785.9 1463.3L788.2 1468.9L790.6 1474.7L793.1 1480.6L795.6 1486.8L798.1 1493.2L800.7 1499.7L803.3 1506.3L806.0 1512.9L808.7 1519.7L811.3 1526.5L814.0 1533.2L816.7 1540.0L819.7 1547.6L822.7 1555.4L825.8 1563.3L829.0 1571.3L832.1 1579.4L835.3 1587.5L838.4 1595.7L841.6 1603.8L844.7 1611.9L847.8 1619.9L850.8 1627.8L853.7 1635.6L856.4 1642.7L859.2 1649.9L862.0 1657.2L864.9 1664.4L867.7 1671.6L870.4 1678.8L873.1 1685.8L875.6 1692.7L878.0 1699.4L880.3 1705.9L882.3 1712.2L884.1 1718.3L885.4 1722.4L886.6 1726.5L887.8 1730.5L889.0 1734.5L890.1 1738.3L891.1 1742.1L892.0 1745.7L892.7 1749.3L893.2 1752.8L893.6 1756.2L893.8 1759.5L893.7 1762.7L893.4 1765.1L893.1 1767.5L892.7 1769.8L892.3 1772.1L891.7 1774.3L891.0 1776.4L890.2 1778.5L889.2 1780.6L888.2 1782.6L887.0 1784.5L885.6 1786.3L884.1 1788.1L882.0 1790.2L879.6 1792.2L876.9 1794.0L874.0 1795.8L870.9 1797.4L867.6 1799.0L864.2 1800.5L860.7 1801.9L857.1 1803.3L853.4 1804.6L849.7 1805.9L846.0 1807.1L841.4 1808.7L836.6 1810.2L831.6 1811.6L826.4 1812.9L821.1 1814.2L815.7 1815.4L810.3 1816.4L804.7 1817.4L799.2 1818.2L793.6 1818.9L788.1 1819.5L782.5 1819.8L776.7 1820.1L770.7 1820.2L764.7 1820.2L758.6 1820.1L752.5 1819.8L746.4 1819.3L740.3 1818.7L734.1 1818.0L727.9 1817.1L721.8 1816.1L715.6 1814.9L709.5 1813.5L702.9 1811.8L704.1 1813.8L698.7 1807.5L693.2 1800.9L687.8 1794.0L682.5 1787.0L677.2 1779.8L672.1 1772.5L667.2 1765.2L662.5 1758.0L658.0 1750.7L653.8 1743.6L650.0 1736.7L647.0 1730.8L644.3 1725.0L641.7 1719.2L639.4 1713.4L637.2 1707.6L635.1 1701.8L633.1 1696.1L631.2 1690.3L629.4 1684.6L627.6 1678.9L625.7 1673.1L623.8 1667.5L622.0 1662.1L620.2 1656.8L618.5 1651.5L616.8 1646.2L615.1 1640.9L613.5 1635.6L611.9 1630.4L610.3 1625.1L608.9 1619.9L607.4 1614.6L606.1 1609.3L604.8 1604.0L603.5 1598.7L602.3 1593.4L601.2 1588.0L600.1 1582.6L599.0 1577.2L598.0 1571.9L597.1 1566.5L596.2 1561.2L595.4 1555.9L594.6 1550.7L593.9 1545.5L593.3 1540.5L592.8 1536.1L592.4 1531.8L592.0 1527.6L591.7 1523.5L591.4 1519.5L591.2 1515.4L591.0 1511.3L590.9 1507.2L590.8 1503.0L590.7 1498.7L590.7 1494.3Z" fill="#EEDFFC"/>
<path d="M2028.3 1415.4L2030.6 1414.7L2032.9 1414.0L2035.1 1413.5L2037.3 1413.1L2039.4 1412.7L2041.6 1412.4L2043.7 1412.2L2045.9 1412.1L2048.1 1412.0L2050.5 1412.0L2053.0 1412.1L2055.6 1412.2L2059.6 1412.5L2063.9 1413.0L2068.4 1413.7L2073.2 1414.5L2078.0 1415.4L2083.0 1416.5L2088.0 1417.7L2093.0 1419.0L2098.1 1420.4L2103.1 1421.8L2107.9 1423.4L2112.7 1424.9L2117.6 1426.6L2122.5 1428.5L2127.4 1430.4L2132.3 1432.5L2137.2 1434.7L2142.0 1436.9L2146.8 1439.2L2151.6 1441.6L2156.3 1444.1L2160.9 1446.5L2165.4 1449.1L2169.8 1451.6L2173.9 1454.0L2177.9 1456.3L2181.8 1458.8L2185.8 1461.2L2189.6 1463.7L2193.4 1466.2L2197.1 1468.9L2200.7 1471.6L2204.3 1474.3L2207.7 1477.2L2211.1 1480.2L2214.3 1483.3L2217.4 1486.6L2220.3 1489.9L2219.4 1489.7L2219.7 1495.4L2220.0 1501.1L2220.3 1506.9L2220.6 1512.7L2220.9 1518.6L2221.1 1524.4L2221.3 1530.3L2221.4 1536.2L2221.4 1542.0L2221.3 1547.9L2221.0 1553.7L2220.6 1559.5L2220.1 1565.4L2219.5 1571.2L2218.7 1577.0L2217.8 1582.8L2216.9 1588.6L2215.8 1594.4L2214.7 1600.2L2213.5 1606.0L2212.2 1611.8L2210.8 1617.6L2209.4 1623.5L2207.9 1629.4L2206.3 1635.7L2204.5 1642.0L2202.7 1648.3L2200.8 1654.7L2198.8 1661.1L2196.7 1667.5L2194.6 1673.9L2192.3 1680.2L2190.0 1686.6L2187.6 1693.0L2185.1 1699.3L2182.5 1705.6L2179.8 1712.1L2176.9 1718.8L2173.9 1725.6L2170.8 1732.5L2167.7 1739.3L2164.4 1746.1L2161.1 1752.7L2157.8 1759.2L2154.4 1765.3L2151.1 1771.2L2147.8 1776.7L2144.4 1781.7L2142.1 1785.1L2139.7 1788.3L2137.4 1791.3L2135.0 1794.2L2132.6 1796.9L2130.2 1799.6L2127.8 1802.1L2125.4 1804.6L2123.0 1806.9L2120.6 1809.2L2118.2 1811.4L2115.9 1813.5L2114.0 1815.1L2112.3 1816.7L2110.5 1818.2L2108.8 1819.7L2107.1 1821.1L2105.4 1822.4L2103.6 1823.7L2101.8 1824.9L2099.9 1826.1L2098.0 1827.2L2095.9 1828.3L2093.7 1829.4L2090.6 1830.6L2087.3 1831.8L2083.9 1833.0L2080.3 1834.0L2076.6 1835.0L2072.7 1835.8L2068.9 1836.6L2064.9 1837.3L2061.0 1837.9L2057.0 1838.3L2053.1 1838.7L2049.2 1838.9L2045.1 1839.0L2040.9 1838.9L2036.6 1838.8L2032.2 1838.5L2027.9 1838.0L2023.5 1837.5L2019.1 1836.9L2014.8 1836.2L2010.6 1835.4L2006.4 1834.5L2002.3 1833.5L1998.4 1832.5L1994.9 1831.6L1991.5 1830.6L1988.1 1829.5L1984.7 1828.3L1981.4 1827.1L1978.1 1825.8L1974.9 1824.5L1971.8 1823.1L1968.7 1821.6L1965.8 1820.0L1963.0 1818.4L1960.3 1816.7L1958.0 1815.1L1955.7 1813.5L1953.4 1811.9L1951.1 1810.3L1948.9 1808.5L1946.7 1806.7L1944.8 1804.9L1943.0 1803.0L1941.4 1801.0L1940.0 1798.9L1938.9 1796.7L1938.1 1794.4L1937.6 1791.8L1937.5 1789.1L1937.8 1786.2L1938.5 1783.3L1939.3 1780.2L1940.4 1777.1L1941.6 1773.9L1942.9 1770.5L1944.2 1767.1L1945.4 1763.6L1946.6 1760.0L1947.6 1756.3L1949.0 1750.9L1950.4 1745.2L1951.8 1739.3L1953.3 1733.1L1954.9 1726.7L1956.5 1720.2L1958.1 1713.6L1959.8 1706.9L1961.5 1700.2L1963.2 1693.5L1964.9 1686.8L1966.7 1680.2L1968.6 1673.0L1970.7 1665.7L1972.8 1658.3L1975.0 1650.9L1977.2 1643.4L1979.4 1635.9L1981.6 1628.4L1983.8 1620.9L1986.0 1613.5L1988.1 1606.0L1990.1 1598.6L1992.1 1591.3L1993.8 1584.3L1995.6 1577.2L1997.3 1570.2L1999.0 1563.2L2000.6 1556.2L2002.2 1549.2L2003.8 1542.2L2005.3 1535.4L2006.8 1528.6L2008.3 1521.8L2009.7 1515.2L2011.1 1508.7L2012.3 1503.1L2013.5 1497.6L2014.7 1492.2L2015.9 1486.9L2017.0 1481.6L2018.2 1476.3L2019.2 1471.1L2020.3 1465.9L2021.3 1460.7L2022.2 1455.6L2023.0 1450.4L2023.8 1445.2L2024.5 1440.3L2025.2 1435.4L2025.9 1430.5L2026.5 1425.5L2027.1 1420.6L2027.7 1415.7Z" fill="#EEDFFC"/>
<path d="M702.9 1811.8L696.3 1809.7L689.7 1807.4L683.0 1804.8L676.4 1802.1L669.8 1799.3L663.1 1796.3L656.5 1793.3L649.9 1790.3L643.3 1787.4L636.7 1784.5L630.2 1781.7L623.7 1779.1L617.3 1776.3L610.9 1773.5L604.4 1770.7L598.0 1767.8L591.6 1765.0L585.3 1762.2L578.9 1759.5L572.6 1756.9L566.3 1754.4L560.1 1752.1L554.0 1750.0L548.5 1748.2L543.0 1746.4L537.4 1744.6L531.9 1742.8L526.4 1741.2L521.0 1739.6L515.6 1738.2L510.3 1737.0L505.1 1735.9L500.1 1735.1L495.2 1734.5L490.5 1734.1L486.9 1734.0L483.4 1734.0L479.9 1734.1L476.4 1734.3L473.0 1734.6L469.7 1735.0L466.5 1735.5L463.3 1736.2L460.4 1737.0L457.5 1738.0L454.9 1739.2L452.4 1740.5L450.3 1741.7L448.4 1743.1L446.5 1744.7L444.6 1746.3L442.9 1748.1L441.3 1749.9L439.8 1751.8L438.4 1753.9L437.2 1756.0L436.2 1758.1L435.3 1760.4L434.6 1762.7L434.0 1765.7L433.8 1768.9L433.9 1772.2L434.2 1775.7L434.7 1779.2L435.5 1782.9L436.4 1786.7L437.5 1790.6L438.8 1794.7L440.1 1798.7L441.4 1802.9L442.9 1807.1L445.2 1813.8L448.1 1820.8L451.2 1828.2L454.8 1835.8L458.6 1843.6L462.6 1851.6L466.8 1859.7L471.2 1867.8L475.6 1876.0L480.1 1884.2L484.5 1892.3L488.9 1900.2L493.6 1908.8L498.5 1917.4L503.4 1926.0L508.4 1934.7L513.5 1943.4L518.7 1952.1L524.1 1960.9L529.5 1969.6L535.0 1978.3L540.6 1987.1L546.4 1995.8L552.2 2004.4L558.6 2013.8L565.3 2023.2L572.0 2032.6L579.0 2042.1L586.0 2051.5L593.2 2061.0L600.4 2070.3L607.6 2079.6L614.9 2088.8L622.2 2097.9L629.5 2106.8L636.7 2115.6L643.4 2123.6L650.2 2131.5L657.0 2139.4L663.8 2147.2L670.7 2154.8L677.5 2162.4L684.4 2169.9L691.3 2177.3L698.1 2184.6L705.0 2191.8L711.8 2198.9L718.5 2205.9L724.6 2212.2L730.6 2218.5L736.5 2224.7L742.4 2230.8L748.3 2236.8L754.2 2242.7L760.1 2248.6L766.1 2254.3L772.3 2260.0L778.5 2265.5L784.9 2271.0L791.5 2276.3L798.4 2281.6L805.4 2286.8L812.5 2291.9L819.7 2296.9L827.1 2301.8L834.5 2306.6L842.1 2311.3L849.7 2315.9L857.5 2320.4L865.4 2324.9L873.4 2329.3L881.5 2333.7L890.5 2338.4L899.8 2343.1L909.2 2347.7L918.7 2352.2L928.4 2356.6L938.3 2360.9L948.2 2365.2L958.2 2369.3L968.2 2373.4L978.3 2377.3L988.3 2381.2L998.4 2384.9L1008.7 2388.6L1019.1 2392.2L1029.6 2395.7L1040.1 2399.0L1050.7 2402.3L1061.3 2405.4L1072.0 2408.5L1082.7 2411.5L1093.4 2414.5L1104.1 2417.4L1114.7 2420.2L1125.4 2423.0L1136.0 2425.8L1146.9 2428.5L1157.8 2431.2L1168.8 2433.8L1179.8 2436.4L1190.8 2438.9L1201.6 2441.3L1212.3 2443.6L1222.8 2445.8L1233.0 2447.9L1242.9 2449.8L1252.4 2451.6L1259.4 2452.9L1266.3 2454.2L1273.1 2455.4L1279.7 2456.6L1286.2 2457.7L1292.6 2458.7L1298.8 2459.6L1305.0 2460.5L1311.0 2461.2L1317.0 2461.7L1322.8 2462.1L1328.6 2462.4L1333.3 2462.5L1338.0 2462.6L1342.8 2462.7L1347.5 2462.8L1352.1 2462.7L1356.7 2462.6L1361.1 2462.3L1365.3 2461.9L1369.2 2461.2L1372.9 2460.4L1376.3 2459.3L1379.4 2457.9L1381.3 2456.8L1383.2 2455.7L1385.0 2454.4L1386.7 2453.0L1388.2 2451.5L1389.7 2450.0L1391.0 2448.3L1392.2 2446.6L1393.2 2444.8L1394.1 2442.9L1394.7 2440.9L1395.2 2438.9L1395.6 2435.8L1395.4 2432.4L1394.9 2428.8L1394.0 2425.0L1392.8 2421.0L1391.4 2416.9L1389.7 2412.7L1387.8 2408.4L1385.8 2404.1L1383.7 2399.8L1381.5 2395.5L1379.4 2391.3L1376.3 2385.7L1372.9 2380.1L1369.2 2374.4L1365.1 2368.6L1360.9 2362.7L1356.4 2356.8L1351.8 2350.8L1347.1 2344.9L1342.4 2339.0L1337.7 2333.1L1333.1 2327.2L1328.6 2321.4L1323.9 2315.5L1319.1 2309.6L1314.2 2303.7L1309.3 2297.7L1304.2 2291.8L1299.2 2285.9L1294.2 2280.0L1289.4 2274.2L1284.6 2268.4L1280.0 2262.7L1275.6 2257.1L1271.4 2251.6L1268.2 2247.2L1265.0 2242.8L1261.9 2238.6L1258.9 2234.4L1256.0 2230.3L1253.2 2226.2L1250.5 2222.1L1247.8 2217.9L1245.2 2213.8L1242.7 2209.5L1244.4 2209.5L1237.8 2207.1L1230.6 2204.5L1223.4 2201.8L1216.2 2198.9L1208.9 2195.9L1201.7 2192.8L1194.4 2189.7L1187.1 2186.4L1179.8 2183.1L1172.5 2179.7L1165.2 2176.2L1158.0 2172.6L1150.8 2169.0L1143.3 2165.2L1135.8 2161.3L1128.3 2157.2L1120.7 2153.1L1113.2 2148.8L1105.7 2144.6L1098.3 2140.2L1090.8 2135.8L1083.5 2131.4L1076.2 2127.0L1069.0 2122.6L1061.9 2118.3L1055.3 2114.1L1048.7 2110.1L1042.3 2106.0L1035.8 2101.9L1029.5 2097.8L1023.1 2093.7L1016.9 2089.5L1010.6 2085.2L1004.4 2080.9L998.2 2076.5L991.9 2072.1L985.7 2067.5L979.2 2062.6L972.8 2057.6L966.3 2052.5L959.9 2047.3L953.4 2042.1L947.0 2036.8L940.7 2031.4L934.3 2026.0L928.1 2020.6L921.8 2015.1L915.6 2009.5L909.5 2004.0L903.5 1998.4L897.5 1992.6L891.7 1986.8L885.8 1981.0L880.1 1975.1L874.3 1969.1L868.6 1963.2L862.9 1957.3L857.1 1951.4L851.3 1945.6L845.5 1939.8L839.7 1934.1L833.9 1928.6L828.1 1923.2L822.2 1917.7L816.4 1912.3L810.5 1906.9L804.6 1901.6L798.7 1896.3L792.9 1891.0L787.1 1885.8L781.3 1880.7L775.5 1875.6L769.8 1870.6L764.7 1866.2L759.5 1862.0L754.3 1857.9L749.2 1854.0L744.1 1850.0L739.0 1846.1L734.0 1842.1L728.9 1838.1L724.0 1833.8L719.1 1829.4L714.3 1824.8L709.5 1819.8L704.1 1813.8Z" fill="#EEDFFC"/>
<path d="M1242.7 2209.5L1240.2 2205.2L1237.8 2200.8L1235.4 2196.3L1233.1 2191.7L1230.8 2187.1L1228.7 2182.4L1226.5 2177.7L1224.5 2172.9L1222.6 2168.1L1220.7 2163.3L1218.9 2158.4L1217.3 2153.5L1215.7 2148.6L1214.3 2143.7L1212.9 2138.5L1211.7 2133.2L1210.5 2127.8L1209.5 2122.3L1208.5 2116.8L1207.7 2111.2L1206.9 2105.8L1206.3 2100.3L1205.7 2095.0L1205.3 2089.9L1205.0 2084.9L1204.8 2080.2L1204.6 2076.6L1204.4 2073.0L1204.3 2069.5L1204.1 2066.0L1204.1 2062.5L1204.1 2059.2L1204.2 2055.9L1204.5 2052.8L1205.0 2049.9L1205.7 2047.1L1206.7 2044.5L1207.9 2042.1L1209.3 2040.1L1210.7 2038.4L1212.4 2036.7L1214.2 2035.2L1216.1 2033.9L1218.2 2032.6L1220.4 2031.4L1222.7 2030.3L1225.2 2029.2L1227.8 2028.2L1230.5 2027.2L1233.3 2026.2L1238.4 2024.6L1244.1 2023.3L1250.3 2022.2L1256.9 2021.3L1263.9 2020.5L1271.1 2019.9L1278.5 2019.3L1286.0 2018.8L1293.6 2018.3L1301.2 2017.8L1308.6 2017.3L1315.9 2016.7L1323.6 2016.0L1331.4 2015.3L1339.4 2014.6L1347.4 2014.0L1355.5 2013.4L1363.6 2012.8L1371.7 2012.3L1379.7 2011.8L1387.7 2011.3L1395.7 2010.9L1403.5 2010.6L1411.1 2010.3L1418.0 2010.1L1424.9 2010.0L1431.7 2009.8L1438.4 2009.8L1445.1 2009.7L1451.8 2009.7L1458.4 2009.8L1464.9 2009.8L1471.4 2009.9L1477.8 2010.0L1484.2 2010.2L1490.5 2010.3L1496.1 2010.4L1501.6 2010.5L1507.1 2010.6L1512.6 2010.7L1518.1 2010.8L1523.4 2010.9L1528.7 2011.1L1534.0 2011.4L1539.1 2011.7L1544.2 2012.2L1549.1 2012.8L1554.0 2013.5L1558.0 2014.2L1562.1 2014.8L1566.2 2015.5L1570.2 2016.3L1574.2 2017.1L1578.0 2018.0L1581.8 2019.0L1585.4 2020.1L1589.0 2021.3L1592.3 2022.8L1595.5 2024.4L1598.4 2026.2L1600.9 2028.0L1603.3 2029.9L1605.5 2031.9L1607.7 2034.1L1609.7 2036.4L1611.7 2038.8L1613.5 2041.3L1615.2 2043.8L1616.7 2046.5L1618.2 2049.2L1619.5 2051.9L1620.6 2054.8L1621.7 2058.0L1622.6 2061.3L1623.3 2064.8L1623.8 2068.3L1624.2 2072.0L1624.4 2075.7L1624.5 2079.5L1624.5 2083.3L1624.4 2087.3L1624.3 2091.2L1624.1 2095.2L1623.8 2099.2L1623.4 2104.1L1622.9 2109.3L1622.2 2114.5L1621.4 2119.9L1620.4 2125.3L1619.4 2130.8L1618.2 2136.3L1616.9 2141.7L1615.6 2147.1L1614.2 2152.4L1612.7 2157.6L1611.1 2162.7L1609.6 2167.3L1608.0 2171.9L1606.4 2176.4L1604.7 2180.9L1602.9 2185.3L1601.0 2189.6L1599.0 2194.0L1597.0 2198.3L1594.8 2202.6L1592.5 2206.8L1592.1 2208.2L1587.6 2210.3L1583.7 2212.1L1579.9 2213.9L1576.2 2215.7L1572.5 2217.4L1568.8 2219.1L1565.2 2220.7L1561.4 2222.3L1557.7 2223.8L1553.8 2225.3L1549.8 2226.7L1545.6 2228.1L1541.3 2229.4L1535.5 2230.9L1529.3 2232.4L1522.9 2233.8L1516.4 2235.1L1509.6 2236.3L1502.7 2237.4L1495.8 2238.5L1488.9 2239.4L1482.0 2240.2L1475.1 2240.9L1468.4 2241.6L1461.9 2242.1L1456.0 2242.4L1450.1 2242.7L1444.2 2242.9L1438.4 2242.9L1432.7 2242.9L1426.9 2242.8L1421.1 2242.6L1415.4 2242.4L1409.6 2242.1L1403.8 2241.7L1398.0 2241.3L1392.1 2240.8L1385.8 2240.2L1379.5 2239.6L1373.2 2238.9L1366.9 2238.1L1360.5 2237.3L1354.1 2236.4L1347.8 2235.4L1341.4 2234.3L1335.0 2233.2L1328.6 2232.0L1322.2 2230.7L1315.9 2229.4L1309.4 2227.9L1302.9 2226.4L1296.4 2224.8L1289.9 2223.2L1283.4 2221.5L1277.0 2219.7L1270.5 2217.8L1264.0 2215.9L1257.5 2213.8L1250.9 2211.7L1244.4 2209.5Z" fill="#EEDFFC"/>
<path d="M1592.5 2206.8L1590.1 2211.1L1587.6 2215.4L1584.7 2220.1L1581.5 2224.8L1578.2 2229.4L1574.7 2234.1L1571.1 2238.7L1567.4 2243.3L1563.6 2247.8L1559.8 2252.4L1556.0 2256.9L1552.1 2261.4L1548.4 2265.9L1544.6 2270.4L1541.0 2274.7L1537.3 2279.0L1533.6 2283.2L1529.9 2287.5L1526.1 2291.6L1522.3 2295.8L1518.6 2300.0L1514.8 2304.2L1511.1 2308.4L1507.4 2312.7L1503.7 2317.0L1500.0 2321.4L1496.2 2326.0L1492.3 2330.8L1488.4 2335.5L1484.4 2340.4L1480.5 2345.2L1476.6 2350.1L1472.7 2355.0L1469.0 2359.8L1465.5 2364.6L1462.1 2369.3L1459.0 2374.0L1456.1 2378.6L1453.9 2382.2L1451.8 2385.7L1449.7 2389.3L1447.7 2392.8L1445.8 2396.4L1444.0 2399.8L1442.3 2403.3L1440.8 2406.7L1439.4 2410.0L1438.2 2413.3L1437.2 2416.5L1436.4 2419.6L1435.9 2422.0L1435.4 2424.4L1435.0 2426.7L1434.7 2429.1L1434.4 2431.4L1434.2 2433.7L1434.2 2435.9L1434.3 2438.1L1434.6 2440.1L1435.0 2442.0L1435.7 2443.7L1436.5 2445.2L1437.5 2446.6L1438.7 2447.8L1440.1 2448.9L1441.7 2449.9L1443.4 2450.8L1445.2 2451.5L1447.1 2452.2L1449.2 2452.9L1451.5 2453.4L1453.8 2453.9L1456.2 2454.4L1458.7 2454.8L1464.2 2455.3L1470.5 2455.5L1477.5 2455.3L1485.0 2454.8L1492.9 2454.1L1501.3 2453.1L1509.9 2452.0L1518.8 2450.7L1527.7 2449.3L1536.6 2447.9L1545.4 2446.6L1554.0 2445.2L1564.0 2443.7L1574.2 2441.9L1584.5 2440.0L1595.1 2438.0L1605.7 2435.9L1616.5 2433.7L1627.3 2431.4L1638.1 2429.0L1649.0 2426.6L1659.7 2424.2L1670.5 2421.7L1681.1 2419.3L1691.7 2416.8L1702.3 2414.3L1712.9 2411.7L1723.4 2409.1L1734.0 2406.5L1744.6 2403.8L1755.2 2401.0L1765.7 2398.2L1776.3 2395.4L1786.8 2392.5L1797.3 2389.5L1807.9 2386.4L1818.6 2383.3L1829.4 2380.0L1840.3 2376.7L1851.3 2373.3L1862.2 2369.8L1873.1 2366.3L1883.9 2362.7L1894.5 2359.2L1905.0 2355.6L1915.2 2352.0L1925.1 2348.5L1934.6 2345.0L1942.2 2342.2L1949.6 2339.3L1956.9 2336.5L1964.0 2333.7L1971.0 2330.9L1977.9 2328.1L1984.6 2325.2L1991.3 2322.4L1997.8 2319.5L2004.3 2316.6L2010.8 2313.7L2017.1 2310.7L2022.8 2308.0L2028.3 2305.1L2033.7 2302.2L2039.1 2299.3L2044.4 2296.3L2049.6 2293.3L2054.8 2290.4L2060.0 2287.5L2065.1 2284.8L2070.2 2282.2L2075.3 2279.7L2080.4 2277.5L2084.8 2275.7L2089.1 2274.0L2093.4 2272.4L2097.7 2270.8L2102.0 2269.3L2106.2 2268.0L2110.4 2266.6L2114.7 2265.4L2118.9 2264.2L2123.2 2263.1L2127.4 2262.1L2131.7 2261.1L2136.0 2260.2L2134.4 2260.6L2137.3 2257.0L2140.2 2253.3L2143.2 2249.7L2146.4 2246.1L2149.6 2242.4L2152.9 2238.8L2156.2 2235.1L2159.6 2231.3L2163.0 2227.6L2166.4 2223.7L2169.8 2219.8L2173.8 2215.3L2177.9 2210.8L2182.0 2206.3L2186.2 2201.7L2190.4 2197.0L2194.7 2192.4L2199.1 2187.6L2203.4 2182.8L2207.7 2177.9L2212.1 2172.9L2216.4 2167.8L2220.6 2162.7L2225.4 2156.8L2230.2 2150.9L2235.1 2144.8L2239.9 2138.6L2244.8 2132.4L2249.7 2126.0L2254.5 2119.6L2259.3 2113.1L2264.0 2106.5L2268.7 2099.9L2273.3 2093.2L2277.8 2086.5L2282.3 2079.5L2286.9 2072.3L2291.4 2065.1L2295.8 2057.7L2300.1 2050.3L2304.4 2042.9L2308.7 2035.4L2312.8 2027.8L2316.9 2020.3L2320.9 2012.7L2324.8 2005.1L2328.6 1997.6L2332.2 1990.3L2335.7 1982.9L2339.1 1975.4L2342.5 1968.0L2345.8 1960.5L2349.0 1953.0L2352.1 1945.5L2355.2 1938.0L2358.2 1930.6L2361.1 1923.3L2363.9 1916.0L2366.7 1908.7L2369.1 1902.2L2371.6 1895.6L2374.0 1889.0L2376.3 1882.5L2378.6 1875.9L2380.9 1869.5L2383.0 1863.0L2385.0 1856.7L2387.0 1850.5L2388.8 1844.4L2390.5 1838.4L2392.1 1832.5L2393.3 1827.9L2394.5 1823.3L2395.7 1818.8L2396.9 1814.3L2398.0 1809.8L2399.1 1805.4L2400.0 1801.2L2400.7 1797.0L2401.3 1792.9L2401.6 1789.0L2401.7 1785.3L2401.6 1781.7L2401.3 1779.2L2401.0 1776.8L2400.5 1774.4L2400.0 1772.1L2399.4 1769.8L2398.7 1767.6L2397.8 1765.5L2396.9 1763.4L2395.9 1761.5L2394.7 1759.7L2393.4 1757.9L2392.1 1756.3L2390.5 1754.9L2388.9 1753.5L2387.1 1752.2L2385.2 1751.0L2383.1 1749.9L2381.0 1748.9L2378.8 1748.0L2376.5 1747.2L2374.1 1746.5L2371.7 1745.9L2369.2 1745.4L2366.7 1744.9L2363.1 1744.5L2359.3 1744.2L2355.4 1744.2L2351.3 1744.4L2347.1 1744.7L2342.7 1745.2L2338.3 1745.7L2333.8 1746.4L2329.3 1747.2L2324.8 1748.1L2320.3 1749.0L2315.9 1750.0L2310.8 1751.2L2305.6 1752.6L2300.4 1754.1L2295.1 1755.8L2289.7 1757.6L2284.4 1759.5L2279.0 1761.5L2273.6 1763.5L2268.3 1765.7L2262.9 1767.8L2257.6 1770.0L2252.4 1772.2L2247.0 1774.5L2241.6 1776.8L2236.2 1779.2L2230.8 1781.6L2225.4 1784.1L2220.1 1786.7L2214.7 1789.3L2209.5 1792.1L2204.2 1794.9L2199.0 1797.8L2193.9 1800.8L2188.9 1804.0L2183.8 1807.3L2178.8 1810.8L2173.7 1814.4L2168.7 1818.1L2163.8 1821.9L2158.9 1825.8L2154.1 1829.8L2149.4 1833.8L2144.8 1837.8L2140.3 1841.8L2136.0 1845.8L2131.8 1849.8L2128.2 1853.3L2124.7 1856.8L2121.3 1860.4L2118.1 1864.0L2114.9 1867.7L2111.7 1871.3L2108.7 1875.0L2105.6 1878.6L2102.6 1882.2L2099.7 1885.8L2096.7 1889.4L2093.7 1892.9L2090.9 1896.2L2088.3 1899.3L2085.7 1902.4L2083.2 1905.5L2080.7 1908.5L2078.2 1911.6L2075.7 1914.6L2073.1 1917.8L2070.5 1921.0L2067.7 1924.3L2064.8 1927.7L2061.7 1931.2L2057.2 1936.3L2052.4 1941.6L2047.5 1947.2L2042.3 1953.0L2037.0 1958.9L2031.6 1964.9L2026.0 1970.9L2020.4 1976.9L2014.8 1982.8L2009.2 1988.6L2003.7 1994.2L1998.2 1999.6L1993.0 2004.6L1987.8 2009.5L1982.5 2014.3L1977.3 2019.1L1972.0 2023.8L1966.7 2028.5L1961.4 2033.1L1956.0 2037.6L1950.7 2042.1L1945.3 2046.5L1939.9 2050.8L1934.5 2055.1L1929.4 2059.2L1924.2 2063.2L1919.1 2067.1L1914.0 2071.0L1908.8 2074.9L1903.7 2078.6L1898.5 2082.4L1893.2 2086.0L1887.9 2089.6L1882.5 2093.1L1877.0 2096.6L1871.4 2100.0L1865.4 2103.5L1859.4 2107.0L1853.2 2110.4L1847.0 2113.7L1840.7 2117.0L1834.3 2120.2L1827.9 2123.3L1821.5 2126.4L1814.9 2129.3L1808.4 2132.1L1801.8 2134.8L1795.2 2137.3L1788.5 2139.7L1781.7 2141.9L1774.9 2143.9L1767.9 2145.8L1760.9 2147.5L1753.9 2149.3L1746.9 2150.9L1739.9 2152.5L1733.0 2154.2L1726.1 2155.9L1719.3 2157.7L1712.7 2159.5L1706.6 2161.3L1700.6 2163.0L1694.6 2164.8L1688.6 2166.5L1682.6 2168.2L1676.7 2170.0L1670.9 2171.8L1665.1 2173.6L1659.4 2175.5L1653.8 2177.5L1648.3 2179.6L1642.9 2181.7L1637.9 2183.9L1633.1 2186.1L1628.3 2188.5L1623.7 2191.0L1619.0 2193.5L1614.5 2196.0L1609.9 2198.6L1605.4 2201.1L1601.0 2203.5L1596.5 2205.9L1592.1 2208.2Z" fill="#EEDFFC"/>
<path d="M1323.3 1033.1L1325.5 1028.1L1327.9 1023.0L1330.5 1017.6L1333.2 1012.0L1335.9 1006.3L1338.8 1000.5L1341.6 994.7L1344.4 988.8L1347.2 983.0L1349.9 977.3L1352.6 971.7L1355.1 966.3L1357.3 961.5L1359.5 956.8L1361.7 952.1L1363.9 947.4L1366.1 942.7L1368.2 938.1L1370.3 933.5L1372.3 929.0L1374.2 924.5L1376.1 920.0L1377.9 915.6L1379.6 911.2L1381.0 907.5L1382.5 903.7L1383.9 899.9L1385.3 896.1L1386.6 892.3L1387.9 888.6L1389.1 885.0L1390.2 881.5L1391.1 878.0L1391.9 874.6L1392.6 871.4L1393.1 868.4L1393.3 866.3L1393.5 864.3L1393.7 862.4L1393.9 860.5L1394.0 858.6L1394.0 856.8L1393.9 855.1L1393.7 853.3L1393.5 851.7L1393.1 850.0L1392.5 848.5L1391.8 846.9L1391.0 845.4L1389.9 843.9L1388.7 842.4L1387.4 841.1L1385.9 839.7L1384.3 838.5L1382.7 837.2L1380.9 836.0L1379.1 834.9L1377.3 833.8L1375.4 832.7L1373.5 831.6L1370.9 830.4L1368.2 829.2L1365.4 828.1L1362.4 827.0L1359.3 826.0L1356.1 825.1L1352.9 824.3L1349.6 823.4L1346.3 822.7L1343.1 822.0L1339.9 821.3L1336.7 820.6L1333.7 820.0L1330.7 819.4L1327.6 818.9L1324.6 818.4L1321.5 817.9L1318.5 817.5L1315.4 817.2L1312.3 816.9L1309.3 816.7L1306.2 816.5L1303.1 816.4L1300.0 816.3L1296.8 816.3L1293.5 816.4L1290.2 816.6L1286.9 816.8L1283.5 817.0L1280.2 817.4L1276.9 817.7L1273.6 818.2L1270.4 818.7L1267.2 819.3L1264.2 819.9L1261.2 820.6L1258.8 821.3L1256.4 821.9L1254.0 822.7L1251.7 823.4L1249.5 824.2L1247.3 825.1L1245.1 826.0L1242.9 827.0L1240.7 828.0L1238.6 829.1L1236.4 830.3L1234.3 831.6L1231.8 833.2L1229.4 834.9L1226.9 836.6L1224.4 838.5L1222.0 840.4L1219.6 842.5L1217.2 844.6L1214.8 846.8L1212.6 849.0L1210.3 851.3L1208.2 853.7L1206.1 856.1L1204.0 858.8L1202.0 861.5L1200.1 864.3L1198.2 867.1L1196.4 870.1L1194.6 873.1L1192.9 876.2L1191.2 879.4L1189.6 882.6L1188.0 885.9L1186.3 889.4L1184.7 892.9L1182.7 897.4L1180.8 902.1L1178.8 907.1L1177.0 912.2L1175.1 917.5L1173.4 922.8L1171.6 928.1L1169.9 933.5L1168.2 938.8L1166.5 944.1L1164.9 949.2L1163.3 954.1L1161.9 958.4L1160.5 962.7L1159.1 967.0L1157.8 971.2L1156.5 975.5L1155.2 979.6L1153.9 983.8L1152.7 987.8L1151.5 991.8L1150.3 995.7L1149.1 999.4L1148.0 1003.1L1147.1 1005.8L1146.2 1008.3L1145.4 1010.8L1144.6 1013.1L1143.8 1015.4L1143.0 1017.7L1142.2 1020.0L1141.5 1022.3L1140.7 1024.8L1139.8 1027.3L1139.0 1030.1L1138.2 1033.1L1138.2 1033.7L1142.3 1034.2L1146.5 1034.7L1150.5 1035.2L1154.6 1035.6L1158.6 1036.0L1162.6 1036.4L1166.7 1036.7L1170.7 1037.1L1174.9 1037.3L1179.1 1037.6L1183.4 1037.8L1187.8 1038.0L1193.0 1038.1L1198.4 1038.2L1203.9 1038.2L1209.4 1038.2L1215.1 1038.2L1220.8 1038.1L1226.5 1037.9L1232.2 1037.7L1238.0 1037.5L1243.7 1037.3L1249.4 1037.0L1255.1 1036.7L1260.8 1036.4L1266.4 1036.0L1272.1 1035.6L1277.8 1035.1L1283.5 1034.5L1289.2 1034.0L1294.8 1033.4L1300.5 1032.8L1306.2 1032.3L1311.9 1031.7L1317.6 1031.1L1323.3 1030.6Z" fill="#FDE7DC"/>
<path d="M1690.5 1040.9L1689.2 1035.9L1687.8 1030.8L1686.3 1025.7L1684.9 1020.6L1683.4 1015.4L1681.8 1010.3L1680.2 1005.1L1678.6 1000.0L1676.9 994.9L1675.2 989.8L1673.5 984.7L1671.7 979.5L1669.8 974.4L1667.9 969.2L1666.0 964.0L1664.0 958.9L1662.0 953.7L1660.0 948.6L1657.9 943.5L1655.7 938.4L1653.5 933.4L1651.3 928.4L1649.0 923.5L1646.7 918.7L1644.3 913.8L1641.9 908.9L1639.4 904.1L1636.9 899.2L1634.3 894.4L1631.7 889.8L1629.1 885.2L1626.4 880.7L1623.7 876.4L1621.1 872.3L1618.4 868.4L1616.2 865.3L1614.0 862.4L1611.8 859.6L1609.6 856.8L1607.3 854.1L1605.0 851.5L1602.8 849.0L1600.5 846.5L1598.2 844.2L1596.0 842.0L1593.7 839.8L1591.4 837.8L1589.6 836.2L1587.9 834.6L1586.1 833.1L1584.4 831.7L1582.7 830.4L1580.9 829.1L1579.2 827.8L1577.4 826.7L1575.5 825.5L1573.5 824.4L1571.5 823.4L1569.4 822.5L1566.7 821.4L1564.0 820.4L1561.2 819.6L1558.2 818.8L1555.2 818.1L1552.1 817.4L1549.0 816.9L1545.8 816.3L1542.5 815.8L1539.2 815.4L1536.0 814.9L1532.7 814.5L1528.8 814.0L1524.8 813.5L1520.8 813.1L1516.6 812.7L1512.4 812.3L1508.2 812.0L1503.9 811.8L1499.7 811.6L1495.6 811.6L1491.5 811.6L1487.5 811.8L1483.7 812.0L1480.4 812.4L1477.0 812.7L1473.7 813.1L1470.4 813.5L1467.1 814.1L1463.9 814.7L1460.8 815.4L1457.8 816.2L1454.8 817.1L1452.0 818.1L1449.4 819.3L1446.9 820.6L1444.9 821.9L1443.0 823.2L1441.2 824.7L1439.4 826.2L1437.7 827.8L1436.1 829.5L1434.6 831.3L1433.2 833.1L1431.9 835.0L1430.7 836.9L1429.6 838.9L1428.6 840.8L1427.7 842.9L1426.9 845.0L1426.2 847.1L1425.6 849.3L1425.2 851.6L1424.8 853.9L1424.5 856.3L1424.3 858.7L1424.2 861.1L1424.1 863.5L1424.2 865.9L1424.3 868.4L1424.5 871.2L1425.0 874.2L1425.5 877.1L1426.2 880.1L1427.0 883.1L1427.9 886.2L1428.9 889.3L1429.9 892.4L1431.1 895.5L1432.2 898.7L1433.5 901.9L1434.7 905.1L1436.3 909.0L1438.0 912.9L1439.8 916.9L1441.7 920.9L1443.8 925.0L1445.9 929.1L1448.0 933.2L1450.2 937.4L1452.5 941.5L1454.7 945.7L1457.0 949.9L1459.2 954.1L1461.6 958.6L1464.2 963.2L1466.8 967.9L1469.5 972.6L1472.3 977.4L1475.0 982.1L1477.7 986.8L1480.4 991.5L1482.9 996.0L1485.4 1000.5L1487.7 1004.9L1489.8 1009.2L1491.4 1012.4L1492.9 1015.6L1494.4 1018.6L1495.8 1021.6L1497.2 1024.6L1498.5 1027.5L1499.8 1030.4L1501.0 1033.4L1502.0 1033.1L1507.7 1033.8L1513.5 1034.7L1519.5 1035.5L1525.7 1036.4L1531.9 1037.3L1538.3 1038.2L1544.6 1039.1L1551.0 1039.9L1557.3 1040.7L1563.5 1041.5L1569.6 1042.2L1575.5 1042.9L1580.8 1043.4L1586.1 1044.0L1591.3 1044.5L1596.5 1045.0L1601.7 1045.5L1606.8 1046.0L1611.9 1046.4L1617.0 1046.7L1622.0 1047.0L1627.0 1047.2L1631.9 1047.2L1636.7 1047.1L1641.1 1047.0L1645.5 1046.7L1649.8 1046.2L1654.0 1045.8L1658.3 1045.2L1662.4 1044.6L1666.6 1044.0L1670.7 1043.3L1674.8 1042.7L1678.9 1042.1L1682.9 1041.5L1686.9 1041.0L1690.5 1040.6Z" fill="#FDE7DC"/>
<path d="M1501.0 1033.4L1502.1 1036.4L1503.2 1039.5L1504.2 1042.6L1505.1 1045.9L1506.0 1049.7L1506.9 1053.7L1507.7 1057.7L1508.4 1061.9L1509.0 1066.1L1509.5 1070.3L1510.0 1074.6L1510.4 1078.8L1510.7 1082.9L1510.9 1087.0L1511.1 1091.0L1511.2 1094.9L1511.3 1098.2L1511.4 1101.5L1511.5 1104.8L1511.5 1108.0L1511.5 1111.2L1511.4 1114.4L1511.2 1117.5L1510.9 1120.5L1510.5 1123.5L1509.9 1126.3L1509.1 1129.0L1508.2 1131.6L1507.2 1133.8L1506.1 1136.0L1504.9 1138.0L1503.6 1140.1L1502.2 1142.0L1500.7 1143.9L1499.1 1145.7L1497.4 1147.4L1495.6 1149.0L1493.8 1150.5L1491.8 1151.8L1489.8 1153.1L1487.4 1154.3L1484.8 1155.3L1482.0 1156.1L1479.1 1156.7L1476.2 1157.2L1473.1 1157.6L1469.9 1157.9L1466.6 1158.2L1463.3 1158.4L1459.9 1158.6L1456.5 1158.9L1453.1 1159.2L1448.5 1159.6L1443.7 1160.0L1438.8 1160.3L1433.7 1160.6L1428.5 1160.8L1423.2 1161.0L1417.9 1161.1L1412.6 1161.2L1407.3 1161.2L1402.0 1161.2L1396.9 1161.1L1391.8 1161.0L1387.1 1160.9L1382.2 1160.8L1377.3 1160.7L1372.3 1160.6L1367.4 1160.4L1362.6 1160.2L1357.8 1159.8L1353.2 1159.4L1348.7 1158.8L1344.5 1158.1L1340.5 1157.2L1336.7 1156.1L1334.2 1155.2L1331.7 1154.3L1329.3 1153.3L1327.0 1152.2L1324.8 1151.1L1322.6 1149.9L1320.6 1148.6L1318.7 1147.2L1316.9 1145.8L1315.2 1144.2L1313.6 1142.6L1312.2 1140.8L1311.0 1139.0L1309.9 1137.0L1309.0 1135.0L1308.2 1132.8L1307.6 1130.5L1307.0 1128.2L1306.5 1125.8L1306.1 1123.4L1305.7 1120.9L1305.4 1118.4L1305.2 1115.8L1304.9 1113.3L1304.6 1110.0L1304.4 1106.6L1304.3 1103.1L1304.3 1099.6L1304.3 1095.9L1304.5 1092.2L1304.7 1088.5L1305.0 1084.7L1305.4 1081.0L1306.0 1077.4L1306.6 1073.9L1307.3 1070.4L1308.2 1067.2L1309.2 1064.1L1310.2 1061.0L1311.4 1058.0L1312.7 1055.1L1314.1 1052.1L1315.5 1049.1L1317.0 1046.1L1318.5 1043.0L1320.1 1039.8L1321.7 1036.5L1323.3 1033.1L1323.3 1030.6L1329.0 1030.1L1334.7 1029.5L1340.5 1028.9L1346.2 1028.3L1352.0 1027.6L1357.8 1027.0L1363.5 1026.5L1369.3 1025.9L1375.0 1025.4L1380.6 1025.0L1386.3 1024.7L1391.8 1024.5L1397.1 1024.4L1402.3 1024.3L1407.5 1024.3L1412.8 1024.3L1417.9 1024.4L1423.1 1024.6L1428.2 1024.8L1433.3 1025.0L1438.3 1025.3L1443.3 1025.6L1448.2 1025.9L1453.1 1026.3L1457.3 1026.7L1461.4 1027.2L1465.5 1027.6L1469.4 1028.2L1473.4 1028.7L1477.3 1029.3L1481.2 1029.9L1485.2 1030.6L1489.2 1031.2L1493.4 1031.8L1497.6 1032.4L1502.0 1033.1Z" fill="#FDE7DC"/>
<path d="M1138.2 1033.7L1133.7 1033.1L1129.3 1032.4L1124.8 1031.6L1120.3 1030.8L1115.8 1030.0L1111.3 1029.2L1106.7 1028.3L1102.2 1027.5L1097.6 1026.7L1093.0 1025.9L1088.3 1025.2L1083.7 1024.5L1078.7 1023.8L1073.7 1023.1L1068.6 1022.4L1063.4 1021.8L1058.3 1021.1L1053.1 1020.5L1047.9 1020.0L1042.8 1019.5L1037.6 1019.0L1032.5 1018.7L1027.5 1018.5L1022.5 1018.4L1017.7 1018.3L1012.9 1018.3L1008.2 1018.4L1003.4 1018.4L998.6 1018.6L993.9 1018.8L989.2 1019.2L984.6 1019.6L980.1 1020.2L975.7 1020.8L971.5 1021.7L967.3 1022.7L963.9 1023.6L960.6 1024.6L957.3 1025.6L954.2 1026.7L951.0 1027.9L948.0 1029.2L945.0 1030.6L942.0 1032.1L939.1 1033.8L936.3 1035.6L933.4 1037.6L930.6 1039.8L927.2 1042.8L923.9 1046.1L920.6 1049.7L917.4 1053.5L914.3 1057.6L911.2 1061.8L908.2 1066.2L905.2 1070.7L902.3 1075.2L899.5 1079.8L896.6 1084.3L893.9 1088.8L891.0 1093.6L888.1 1098.5L885.2 1103.6L882.4 1108.8L879.7 1114.1L877.0 1119.3L874.4 1124.6L871.9 1129.9L869.5 1135.1L867.3 1140.2L865.2 1145.2L863.3 1150.0L861.8 1153.8L860.3 1157.6L858.9 1161.4L857.5 1165.2L856.2 1168.9L855.0 1172.5L853.9 1176.1L853.0 1179.7L852.2 1183.1L851.6 1186.5L851.2 1189.7L851.0 1192.9L851.0 1195.2L851.1 1197.5L851.2 1199.8L851.4 1202.1L851.6 1204.3L852.0 1206.5L852.5 1208.6L853.1 1210.6L853.9 1212.5L854.8 1214.2L855.9 1215.9L857.1 1217.3L858.8 1218.8L860.7 1220.1L862.8 1221.2L865.1 1222.2L867.5 1223.0L870.2 1223.7L872.9 1224.3L875.8 1224.8L878.7 1225.3L881.7 1225.7L884.7 1226.1L887.8 1226.5L892.1 1227.0L896.7 1227.2L901.5 1227.4L906.4 1227.3L911.6 1227.2L916.8 1226.9L922.2 1226.6L927.6 1226.2L933.0 1225.8L938.4 1225.4L943.7 1225.0L949.0 1224.7L954.5 1224.3L960.0 1223.9L965.6 1223.4L971.2 1222.8L976.9 1222.3L982.5 1221.7L988.2 1221.1L993.8 1220.5L999.5 1219.9L1005.1 1219.4L1010.7 1219.0L1016.3 1218.6L1021.8 1218.2L1027.3 1217.8L1032.8 1217.5L1038.3 1217.1L1043.8 1216.7L1049.3 1216.4L1054.8 1216.2L1060.2 1216.0L1065.6 1215.9L1070.9 1215.8L1076.1 1215.9L1077.8 1215.8L1079.6 1211.7L1081.2 1207.6L1082.6 1204.1L1083.8 1200.8L1085.1 1197.6L1086.3 1194.4L1087.4 1191.3L1088.5 1188.2L1089.7 1185.0L1090.8 1181.9L1092.0 1178.6L1093.3 1175.3L1094.6 1171.9L1095.9 1168.4L1097.7 1163.8L1099.7 1159.0L1101.7 1154.2L1103.9 1149.2L1106.0 1144.2L1108.2 1139.1L1110.4 1133.9L1112.6 1128.6L1114.7 1123.3L1116.7 1117.9L1118.6 1112.5L1120.4 1107.1L1122.2 1101.2L1123.9 1094.9L1125.5 1088.4L1127.1 1081.8L1128.6 1075.2L1130.0 1068.6L1131.4 1062.0L1132.8 1055.6L1134.2 1049.4L1135.5 1043.6L1136.8 1038.1L1138.2 1033.1Z" fill="#FDE7DC"/>
<path d="M1744.5 1210.0L1747.7 1210.7L1751.1 1211.5L1754.6 1212.5L1758.2 1213.6L1761.9 1214.7L1765.7 1215.9L1769.6 1217.2L1773.6 1218.5L1777.6 1219.8L1781.7 1221.1L1785.7 1222.3L1789.8 1223.5L1794.6 1224.8L1799.4 1226.1L1804.4 1227.5L1809.5 1228.9L1814.6 1230.2L1819.8 1231.6L1825.0 1232.9L1830.2 1234.2L1835.4 1235.5L1840.7 1236.7L1845.9 1237.8L1851.0 1238.8L1856.2 1239.7L1861.4 1240.7L1866.8 1241.7L1872.2 1242.6L1877.6 1243.5L1882.9 1244.3L1888.2 1245.0L1893.4 1245.6L1898.4 1246.1L1903.3 1246.5L1907.9 1246.7L1912.2 1246.7L1915.2 1246.7L1918.1 1246.6L1920.8 1246.5L1923.5 1246.3L1926.2 1246.1L1928.7 1245.8L1931.2 1245.4L1933.7 1244.9L1936.0 1244.3L1938.4 1243.6L1940.6 1242.8L1942.9 1241.8L1945.0 1240.8L1947.1 1239.7L1949.2 1238.4L1951.2 1237.1L1953.2 1235.7L1955.2 1234.2L1957.0 1232.6L1958.8 1230.9L1960.4 1229.1L1961.9 1227.3L1963.2 1225.4L1964.3 1223.5L1965.3 1221.3L1966.1 1219.1L1966.7 1216.8L1967.1 1214.3L1967.5 1211.8L1967.7 1209.2L1967.8 1206.5L1967.8 1203.9L1967.7 1201.1L1967.6 1198.4L1967.5 1195.6L1967.3 1192.9L1967.1 1189.5L1966.7 1186.2L1966.2 1182.7L1965.6 1179.2L1964.9 1175.7L1964.2 1172.1L1963.3 1168.5L1962.4 1164.9L1961.4 1161.2L1960.4 1157.5L1959.3 1153.7L1958.2 1150.0L1956.8 1145.6L1955.3 1141.1L1953.8 1136.4L1952.1 1131.7L1950.3 1127.0L1948.5 1122.3L1946.6 1117.5L1944.7 1112.8L1942.8 1108.2L1940.8 1103.7L1938.8 1099.2L1936.7 1094.9L1934.9 1091.0L1933.0 1087.1L1931.1 1083.2L1929.2 1079.3L1927.2 1075.4L1925.2 1071.7L1923.2 1068.0L1921.1 1064.4L1919.0 1061.1L1916.8 1057.8L1914.6 1054.8L1912.2 1052.0L1910.4 1050.0L1908.5 1048.0L1906.6 1046.2L1904.7 1044.4L1902.8 1042.8L1900.8 1041.2L1898.8 1039.7L1896.7 1038.3L1894.6 1037.0L1892.4 1035.8L1890.1 1034.7L1887.8 1033.7L1885.1 1032.7L1882.3 1031.9L1879.5 1031.2L1876.6 1030.6L1873.7 1030.2L1870.6 1029.9L1867.5 1029.6L1864.4 1029.4L1861.1 1029.2L1857.8 1029.1L1854.4 1028.9L1851.0 1028.8L1846.5 1028.6L1841.7 1028.5L1836.8 1028.5L1831.8 1028.6L1826.6 1028.7L1821.4 1028.9L1816.1 1029.1L1810.8 1029.3L1805.5 1029.6L1800.2 1030.0L1794.9 1030.3L1789.8 1030.6L1784.7 1031.0L1779.4 1031.4L1774.2 1031.9L1768.9 1032.4L1763.7 1032.9L1758.4 1033.5L1753.2 1034.0L1748.1 1034.6L1743.0 1035.2L1738.1 1035.7L1733.3 1036.2L1728.6 1036.7L1724.8 1037.1L1721.2 1037.5L1717.7 1037.8L1714.2 1038.2L1710.9 1038.5L1707.5 1038.8L1704.2 1039.2L1700.8 1039.5L1697.4 1039.9L1694.0 1040.2L1690.5 1040.6L1690.5 1040.9L1691.8 1045.9L1693.0 1050.6L1694.1 1055.2L1695.1 1059.9L1696.1 1064.5L1697.0 1069.1L1697.9 1073.7L1698.8 1078.2L1699.7 1082.8L1700.7 1087.4L1701.8 1091.9L1702.9 1096.5L1704.1 1101.0L1705.4 1105.7L1706.7 1110.3L1708.2 1114.9L1709.6 1119.5L1711.1 1124.2L1712.6 1128.8L1714.2 1133.4L1715.8 1138.0L1717.4 1142.6L1719.1 1147.1L1720.8 1151.6L1722.4 1156.1L1724.1 1160.6L1725.9 1165.1L1727.7 1169.7L1729.5 1174.3L1731.4 1178.9L1733.3 1183.4L1735.2 1187.9L1737.1 1192.2L1738.9 1196.4L1740.8 1200.3L1742.7 1204.1L1744.5 1207.6L1745.7 1209.7Z" fill="#FDE7DC"/>
<path d="M1076.1 1215.9L1081.2 1216.1L1085.8 1216.4L1090.3 1216.7L1094.8 1217.0L1099.2 1217.4L1103.6 1217.8L1108.0 1218.4L1112.3 1219.0L1116.5 1219.6L1120.7 1220.4L1124.8 1221.3L1128.8 1222.3L1132.7 1223.5L1136.1 1224.6L1139.5 1225.8L1142.8 1227.0L1146.1 1228.4L1149.4 1229.8L1152.6 1231.3L1155.7 1232.9L1158.7 1234.5L1161.6 1236.2L1164.3 1238.0L1166.9 1239.9L1169.4 1241.8L1171.4 1243.6L1173.3 1245.4L1175.2 1247.2L1177.0 1249.1L1178.7 1251.0L1180.3 1253.0L1181.8 1255.1L1183.2 1257.2L1184.5 1259.4L1185.7 1261.7L1186.8 1264.0L1187.8 1266.3L1188.7 1269.0L1189.4 1271.8L1190.0 1274.7L1190.4 1277.6L1190.7 1280.6L1190.9 1283.7L1191.0 1286.9L1191.0 1290.1L1191.0 1293.3L1191.0 1296.5L1190.9 1299.8L1190.8 1303.1L1190.7 1306.9L1190.5 1311.0L1190.2 1315.1L1189.9 1319.4L1189.5 1323.7L1189.0 1328.0L1188.4 1332.2L1187.8 1336.4L1187.1 1340.6L1186.4 1344.6L1185.6 1348.4L1184.7 1352.0L1183.9 1354.8L1183.1 1357.5L1182.3 1360.1L1181.4 1362.6L1180.5 1365.1L1179.5 1367.5L1178.5 1369.9L1177.4 1372.3L1176.4 1374.6L1175.3 1377.0L1174.1 1379.3L1173.0 1381.7L1171.9 1384.2L1170.7 1386.8L1169.5 1389.4L1168.3 1392.1L1167.1 1394.7L1165.9 1397.3L1164.6 1399.8L1163.2 1402.2L1161.8 1404.5L1160.3 1406.6L1158.8 1408.6L1157.1 1410.3L1155.8 1411.6L1154.4 1412.7L1153.0 1413.7L1151.5 1414.6L1150.0 1415.5L1148.5 1416.2L1146.9 1416.9L1145.2 1417.6L1143.6 1418.2L1141.8 1418.7L1140.0 1419.3L1138.1 1419.8L1135.4 1420.5L1132.6 1421.2L1129.6 1421.7L1126.4 1422.2L1123.2 1422.6L1119.9 1422.9L1116.6 1423.1L1113.2 1423.3L1109.8 1423.4L1106.5 1423.3L1103.2 1423.2L1100.0 1423.0L1096.8 1422.7L1093.6 1422.3L1090.3 1421.8L1087.1 1421.2L1083.9 1420.6L1080.7 1419.8L1077.5 1419.0L1074.3 1418.0L1071.1 1417.0L1068.0 1415.9L1064.9 1414.7L1061.9 1413.5L1058.8 1412.1L1055.8 1410.6L1052.7 1409.0L1049.7 1407.4L1046.7 1405.6L1043.8 1403.7L1040.8 1401.8L1038.0 1399.8L1035.1 1397.8L1032.4 1395.6L1029.6 1393.5L1027.0 1391.3L1027.0 1391.3L1027.4 1388.7L1027.8 1386.3L1028.2 1384.0L1028.6 1381.8L1028.9 1379.7L1029.3 1377.6L1029.6 1375.5L1030.0 1373.4L1030.4 1371.2L1030.7 1369.0L1031.2 1366.7L1031.6 1364.3L1032.3 1361.1L1032.9 1357.8L1033.5 1354.4L1034.2 1351.0L1034.9 1347.5L1035.7 1343.9L1036.4 1340.3L1037.2 1336.6L1038.1 1332.9L1038.9 1329.1L1039.8 1325.3L1040.8 1321.4L1042.1 1316.7L1043.4 1311.8L1044.7 1306.7L1046.2 1301.6L1047.6 1296.4L1049.2 1291.1L1050.8 1285.8L1052.4 1280.6L1054.0 1275.4L1055.7 1270.2L1057.5 1265.1L1059.2 1260.2L1060.9 1255.6L1062.7 1251.1L1064.5 1246.5L1066.4 1242.0L1068.3 1237.5L1070.2 1233.1L1072.2 1228.7L1074.1 1224.4L1076.0 1220.1L1077.8 1215.8Z" fill="#FDE7DC"/>
<path d="M1617.4 1255.2L1618.4 1258.0L1619.3 1260.8L1620.2 1263.6L1621.0 1266.5L1621.9 1269.5L1622.7 1272.5L1623.6 1275.5L1624.5 1278.6L1625.6 1282.3L1626.7 1286.2L1627.6 1290.1L1628.6 1294.2L1629.5 1298.3L1630.5 1302.5L1631.4 1306.7L1632.3 1310.9L1633.3 1315.1L1634.4 1319.3L1635.5 1323.5L1636.7 1327.6L1638.0 1331.7L1639.3 1335.9L1640.6 1340.1L1641.9 1344.4L1643.2 1348.6L1644.6 1352.8L1646.1 1356.9L1647.6 1361.1L1649.3 1365.1L1651.1 1369.0L1653.0 1372.8L1655.1 1376.5L1657.3 1380.1L1659.6 1383.6L1662.0 1387.2L1664.5 1390.7L1667.1 1394.2L1669.9 1397.6L1672.6 1400.8L1675.5 1403.8L1678.4 1406.6L1681.3 1409.2L1684.3 1411.5L1687.3 1413.5L1689.8 1414.9L1692.3 1416.1L1694.9 1417.2L1697.5 1418.1L1700.2 1418.9L1702.9 1419.5L1705.6 1420.0L1708.3 1420.5L1711.0 1420.8L1713.7 1421.0L1716.4 1421.1L1719.0 1421.1L1721.7 1421.0L1724.4 1420.8L1727.1 1420.5L1729.8 1420.1L1732.5 1419.6L1735.2 1418.9L1737.8 1418.2L1740.5 1417.4L1743.1 1416.5L1745.7 1415.6L1748.3 1414.6L1750.8 1413.5L1753.4 1412.3L1755.9 1411.1L1758.5 1409.7L1761.1 1408.3L1763.7 1406.8L1766.2 1405.2L1768.6 1403.6L1771.0 1401.9L1773.2 1400.1L1775.4 1398.3L1777.5 1396.4L1779.4 1394.4L1781.0 1392.6L1782.6 1390.6L1784.1 1388.5L1785.6 1386.4L1786.9 1384.2L1788.2 1382.0L1789.4 1379.8L1790.5 1377.5L1791.5 1375.3L1792.5 1373.2L1793.3 1371.1L1794.0 1369.0L1794.4 1367.6L1794.8 1366.2L1795.1 1364.8L1795.4 1363.5L1795.6 1362.1L1795.8 1360.8L1795.9 1359.5L1795.9 1358.1L1796.0 1356.7L1796.0 1355.2L1796.0 1353.7L1795.9 1352.0L1795.8 1349.5L1795.6 1346.8L1795.3 1343.9L1794.9 1340.9L1794.4 1337.8L1793.8 1334.7L1793.2 1331.5L1792.6 1328.2L1791.9 1325.0L1791.2 1321.7L1790.5 1318.5L1789.8 1315.3L1789.0 1311.8L1788.2 1308.3L1787.3 1304.8L1786.4 1301.2L1785.4 1297.6L1784.4 1294.0L1783.3 1290.4L1782.3 1286.8L1781.1 1283.2L1780.0 1279.6L1778.8 1276.0L1777.6 1272.5L1776.2 1268.8L1774.8 1265.1L1773.4 1261.3L1771.9 1257.5L1770.4 1253.7L1768.8 1250.0L1767.2 1246.3L1765.6 1242.7L1764.0 1239.2L1762.4 1235.8L1760.8 1232.6L1759.2 1229.6L1758.0 1227.5L1756.8 1225.5L1755.6 1223.7L1754.4 1222.0L1753.1 1220.3L1751.9 1218.7L1750.7 1217.1L1749.4 1215.4L1748.2 1213.6L1747.0 1211.8L1745.7 1209.7L1744.5 1210.0L1742.4 1209.6L1740.5 1209.3L1738.6 1209.0L1736.9 1208.8L1735.2 1208.5L1733.5 1208.4L1731.8 1208.3L1730.1 1208.2L1728.3 1208.1L1726.5 1208.1L1724.5 1208.1L1722.4 1208.2L1719.4 1208.3L1716.1 1208.5L1712.6 1208.7L1709.0 1209.1L1705.4 1209.5L1701.6 1210.0L1697.8 1210.5L1694.1 1211.1L1690.3 1211.8L1686.6 1212.6L1683.0 1213.4L1679.6 1214.3L1676.4 1215.2L1673.1 1216.1L1670.0 1217.1L1666.8 1218.2L1663.6 1219.3L1660.5 1220.5L1657.5 1221.8L1654.4 1223.1L1651.5 1224.6L1648.5 1226.2L1645.7 1227.8L1642.9 1229.6L1640.0 1231.6L1637.1 1233.8L1634.3 1236.2L1631.5 1238.7L1628.8 1241.4L1626.1 1244.0L1623.5 1246.8L1621.0 1249.5L1618.5 1252.3L1616.1 1255.0Z" fill="#FDE7DC"/>
<path d="M1027.0 1391.3L1024.4 1389.0L1021.9 1386.6L1019.5 1384.2L1017.2 1381.7L1015.0 1379.2L1012.7 1376.6L1010.5 1373.9L1008.2 1371.1L1005.9 1368.3L1003.5 1365.5L1001.0 1362.5L998.4 1359.5L994.7 1355.3L990.9 1350.8L986.9 1346.1L982.8 1341.2L978.6 1336.1L974.3 1331.1L970.0 1326.0L965.7 1321.0L961.4 1316.1L957.2 1311.5L953.0 1307.1L949.0 1303.1L945.8 1300.0L942.7 1297.1L939.6 1294.2L936.5 1291.4L933.5 1288.7L930.4 1286.1L927.4 1283.6L924.4 1281.2L921.3 1278.8L918.3 1276.6L915.3 1274.5L912.2 1272.5L909.7 1270.8L907.1 1269.2L904.5 1267.6L901.9 1266.2L899.4 1264.7L896.8 1263.4L894.2 1262.1L891.7 1260.9L889.1 1259.9L886.6 1258.9L884.1 1257.9L881.6 1257.1L879.5 1256.5L877.5 1255.9L875.4 1255.4L873.3 1254.9L871.3 1254.5L869.2 1254.1L867.2 1253.9L865.2 1253.7L863.1 1253.6L861.1 1253.7L859.1 1253.8L857.1 1254.1L855.0 1254.5L852.9 1255.0L850.8 1255.6L848.6 1256.3L846.5 1257.2L844.4 1258.1L842.3 1259.2L840.2 1260.4L838.2 1261.7L836.3 1263.1L834.4 1264.7L832.7 1266.3L830.4 1268.8L828.2 1271.7L826.1 1274.9L824.1 1278.3L822.2 1281.9L820.4 1285.7L818.7 1289.6L817.0 1293.6L815.4 1297.6L814.0 1301.6L812.5 1305.4L811.2 1309.2L810.0 1312.7L809.0 1316.2L808.0 1319.7L807.0 1323.2L806.2 1326.7L805.4 1330.3L804.7 1333.9L804.1 1337.4L803.5 1341.1L803.0 1344.7L802.5 1348.4L802.0 1352.0L801.6 1356.0L801.2 1360.0L800.9 1364.1L800.6 1368.3L800.4 1372.5L800.3 1376.6L800.2 1380.8L800.3 1384.9L800.4 1389.0L800.7 1393.0L801.1 1397.0L801.6 1400.8L802.2 1404.2L802.8 1407.5L803.5 1410.8L804.3 1414.0L805.1 1417.1L806.1 1420.3L807.2 1423.4L808.3 1426.5L809.6 1429.6L811.0 1432.7L812.6 1435.8L814.3 1438.9L816.6 1442.7L819.1 1446.5L821.8 1450.3L824.8 1454.1L827.9 1457.9L831.1 1461.7L834.5 1465.4L838.0 1469.2L841.5 1472.8L845.1 1476.4L848.8 1479.9L852.4 1483.3L856.2 1486.8L860.1 1490.2L864.1 1493.5L868.2 1496.7L872.4 1499.9L876.6 1503.0L880.9 1506.1L885.3 1509.1L889.7 1512.2L894.2 1515.2L898.7 1518.3L903.2 1521.4L908.2 1524.8L913.2 1528.2L918.4 1531.6L923.7 1535.0L929.0 1538.4L934.3 1541.7L939.7 1545.1L945.1 1548.4L950.5 1551.7L955.9 1555.0L961.3 1558.2L966.7 1561.4L966.7 1561.4L969.0 1556.1L971.4 1550.7L974.1 1545.2L976.8 1539.7L979.6 1534.1L982.5 1528.5L985.4 1523.0L988.2 1517.5L990.9 1512.0L993.6 1506.6L996.1 1501.2L998.4 1496.0L1000.3 1491.6L1002.1 1487.3L1003.9 1483.0L1005.7 1478.8L1007.4 1474.6L1009.0 1470.5L1010.6 1466.3L1012.1 1462.2L1013.6 1458.0L1014.9 1453.8L1016.2 1449.6L1017.5 1445.2L1018.6 1440.8L1019.6 1436.2L1020.6 1431.5L1021.5 1426.8L1022.3 1422.0L1023.0 1417.3L1023.7 1412.6L1024.4 1408.0L1025.1 1403.5L1025.7 1399.2L1026.3 1395.1L1027.0 1391.3Z" fill="#FDE7DC"/>
<path d="M1858.7 1561.4L1857.3 1557.6L1855.8 1553.8L1854.3 1550.0L1852.7 1546.2L1851.0 1542.3L1849.3 1538.5L1847.7 1534.7L1846.0 1530.8L1844.3 1526.9L1842.7 1523.0L1841.2 1519.0L1839.7 1515.1L1838.2 1511.0L1836.7 1506.8L1835.1 1502.6L1833.6 1498.4L1832.1 1494.2L1830.6 1489.9L1829.2 1485.7L1827.9 1481.4L1826.7 1477.1L1825.6 1472.9L1824.6 1468.6L1823.8 1464.3L1823.1 1460.1L1822.5 1455.8L1822.0 1451.5L1821.6 1447.1L1821.3 1442.8L1821.0 1438.4L1820.9 1434.1L1820.9 1429.9L1821.0 1425.6L1821.2 1421.5L1821.5 1417.4L1821.9 1413.5L1822.4 1410.1L1822.9 1406.6L1823.5 1403.2L1824.2 1399.8L1825.0 1396.5L1825.9 1393.2L1826.9 1390.0L1827.9 1386.9L1829.1 1383.8L1830.4 1380.9L1831.8 1378.1L1833.3 1375.4L1834.9 1373.1L1836.5 1370.9L1838.4 1368.9L1840.3 1367.0L1842.3 1365.2L1844.3 1363.4L1846.5 1361.7L1848.6 1359.9L1850.8 1358.1L1852.9 1356.2L1855.1 1354.2L1857.1 1352.0L1859.6 1349.3L1862.0 1346.4L1864.4 1343.4L1866.8 1340.2L1869.2 1337.0L1871.7 1333.8L1874.2 1330.6L1876.7 1327.4L1879.3 1324.2L1882.1 1321.1L1884.8 1318.1L1887.8 1315.3L1890.9 1312.4L1894.3 1309.6L1897.7 1306.8L1901.2 1304.1L1904.8 1301.4L1908.4 1298.8L1912.1 1296.3L1915.9 1293.8L1919.6 1291.4L1923.3 1289.1L1927.0 1286.8L1930.6 1284.7L1933.9 1282.7L1937.3 1280.7L1940.8 1278.7L1944.3 1276.7L1947.7 1274.8L1951.2 1273.0L1954.6 1271.3L1958.0 1269.8L1961.2 1268.5L1964.4 1267.5L1967.5 1266.7L1970.4 1266.3L1972.4 1266.2L1974.4 1266.2L1976.3 1266.4L1978.2 1266.6L1980.1 1266.9L1981.9 1267.4L1983.6 1268.0L1985.4 1268.6L1987.0 1269.4L1988.7 1270.3L1990.3 1271.3L1991.8 1272.5L1993.7 1274.1L1995.6 1276.0L1997.3 1278.1L1999.0 1280.4L2000.6 1282.9L2002.1 1285.6L2003.6 1288.3L2005.0 1291.2L2006.4 1294.1L2007.7 1297.1L2009.0 1300.1L2010.2 1303.1L2011.6 1306.7L2012.9 1310.5L2014.1 1314.5L2015.2 1318.6L2016.3 1322.9L2017.3 1327.1L2018.2 1331.5L2019.1 1335.7L2020.0 1340.0L2020.8 1344.1L2021.6 1348.2L2022.5 1352.0L2023.1 1355.2L2023.8 1358.3L2024.5 1361.2L2025.2 1364.1L2025.9 1367.0L2026.5 1369.9L2027.1 1372.7L2027.6 1375.6L2028.0 1378.6L2028.4 1381.7L2028.7 1384.8L2028.9 1388.1L2029.0 1392.4L2029.0 1396.8L2028.8 1401.4L2028.5 1406.1L2028.1 1410.8L2027.7 1415.7L2028.3 1415.4L2024.9 1416.5L2021.5 1417.9L2018.0 1419.4L2014.4 1421.1L2010.7 1423.0L2007.0 1425.0L2003.4 1427.1L1999.7 1429.3L1996.1 1431.6L1992.5 1434.0L1989.1 1436.4L1985.7 1438.9L1982.3 1441.6L1979.0 1444.4L1975.8 1447.4L1972.6 1450.5L1969.5 1453.6L1966.4 1456.9L1963.4 1460.2L1960.3 1463.6L1957.2 1466.9L1954.1 1470.3L1950.9 1473.7L1947.6 1477.0L1944.0 1480.6L1940.4 1484.2L1936.8 1487.9L1933.1 1491.7L1929.4 1495.4L1925.7 1499.2L1921.9 1503.0L1918.2 1506.7L1914.4 1510.5L1910.7 1514.2L1906.9 1517.8L1903.2 1521.4L1899.5 1524.9L1895.9 1528.4L1892.3 1531.8L1888.7 1535.3L1885.0 1538.7L1881.4 1542.1L1877.7 1545.4L1874.0 1548.7L1870.3 1552.0L1866.5 1555.2L1862.6 1558.4L1858.7 1561.4Z" fill="#FDE7DC"/>
<path d="M966.7 1561.4L964.7 1566.1L962.9 1570.8L961.1 1575.4L959.4 1580.0L957.8 1584.6L956.2 1589.1L954.7 1593.7L953.2 1598.2L951.7 1602.8L950.3 1607.4L949.0 1612.0L947.6 1616.7L946.3 1621.4L945.1 1626.1L943.9 1630.8L942.7 1635.6L941.6 1640.3L940.6 1645.1L939.5 1649.9L938.5 1654.7L937.6 1659.4L936.7 1664.2L935.8 1669.0L934.9 1673.8L934.1 1678.6L933.2 1683.4L932.3 1688.3L931.5 1693.3L930.7 1698.2L929.9 1703.1L929.2 1707.9L928.6 1712.7L928.1 1717.5L927.7 1722.1L927.4 1726.6L927.3 1731.0L927.3 1734.4L927.3 1737.8L927.4 1741.1L927.5 1744.3L927.7 1747.5L927.9 1750.6L928.3 1753.7L928.7 1756.8L929.3 1759.9L930.0 1762.9L930.8 1766.0L931.7 1769.0L932.9 1772.3L934.3 1775.7L935.7 1779.0L937.3 1782.3L939.1 1785.5L940.9 1788.8L942.9 1792.0L944.9 1795.1L947.1 1798.2L949.3 1801.3L951.6 1804.3L954.0 1807.1L956.6 1810.1L959.4 1813.1L962.4 1816.0L965.4 1818.8L968.6 1821.6L971.9 1824.3L975.2 1826.9L978.6 1829.5L982.0 1832.0L985.4 1834.4L988.7 1836.7L992.1 1838.9L995.1 1840.9L998.3 1842.8L1001.4 1844.7L1004.6 1846.5L1007.8 1848.2L1011.0 1849.9L1014.3 1851.5L1017.5 1853.0L1020.7 1854.4L1023.9 1855.7L1027.0 1856.9L1030.2 1857.9L1032.9 1858.8L1035.6 1859.6L1038.4 1860.4L1041.2 1861.2L1044.0 1861.9L1046.7 1862.4L1049.4 1862.9L1052.1 1863.2L1054.7 1863.4L1057.2 1863.5L1059.6 1863.3L1061.9 1863.0L1063.8 1862.6L1065.6 1862.1L1067.3 1861.5L1069.1 1860.8L1070.7 1860.0L1072.4 1859.1L1073.9 1858.1L1075.5 1857.0L1076.9 1855.8L1078.3 1854.5L1079.7 1853.1L1081.0 1851.6L1082.5 1849.4L1084.0 1846.9L1085.2 1844.1L1086.4 1841.2L1087.5 1838.1L1088.4 1834.8L1089.3 1831.4L1090.2 1827.9L1091.1 1824.4L1091.9 1820.8L1092.8 1817.1L1093.7 1813.5L1094.8 1808.8L1095.9 1803.9L1097.0 1798.7L1098.0 1793.5L1099.0 1788.1L1099.9 1782.6L1100.8 1777.1L1101.7 1771.6L1102.6 1766.1L1103.4 1760.6L1104.3 1755.2L1105.1 1750.0L1105.8 1745.1L1106.4 1740.2L1107.0 1735.3L1107.6 1730.5L1108.1 1725.6L1108.6 1720.8L1109.2 1716.0L1109.8 1711.2L1110.4 1706.5L1111.1 1701.9L1111.8 1697.3L1112.7 1692.9L1113.5 1688.9L1114.3 1685.0L1115.2 1681.2L1116.0 1677.3L1116.9 1673.6L1117.1 1675.1L1113.7 1671.6L1110.3 1667.9L1106.9 1664.1L1103.4 1660.2L1099.9 1656.2L1096.4 1652.1L1092.9 1648.1L1089.3 1644.1L1085.7 1640.2L1082.0 1636.4L1078.3 1632.8L1074.6 1629.4L1071.1 1626.3L1067.6 1623.5L1064.0 1620.7L1060.5 1618.0L1056.9 1615.4L1053.3 1612.8L1049.6 1610.3L1045.9 1607.8L1042.1 1605.3L1038.2 1602.8L1034.2 1600.2L1030.2 1597.6L1025.3 1594.6L1020.3 1591.6L1015.2 1588.6L1009.9 1585.6L1004.6 1582.7L999.2 1579.7L993.7 1576.7L988.2 1573.7L982.8 1570.7L977.4 1567.6L972.0 1564.6L966.7 1561.4Z" fill="#FDE7DC"/>
<path d="M1116.9 1673.6L1117.9 1669.9L1118.9 1666.2L1120.0 1662.5L1121.2 1658.9L1122.5 1655.4L1123.9 1651.9L1125.4 1648.4L1127.0 1645.0L1128.8 1641.5L1130.6 1638.1L1132.6 1634.7L1134.6 1631.4L1136.7 1628.1L1138.9 1624.9L1141.2 1621.7L1143.5 1618.7L1145.9 1615.8L1148.3 1613.0L1150.8 1610.3L1153.1 1608.0L1155.6 1605.7L1158.1 1603.4L1160.7 1601.3L1163.3 1599.2L1166.0 1597.2L1168.7 1595.3L1171.4 1593.6L1174.2 1592.0L1177.0 1590.5L1179.7 1589.2L1182.5 1588.1L1185.1 1587.2L1187.6 1586.4L1190.2 1585.8L1192.9 1585.2L1195.5 1584.8L1198.1 1584.5L1200.8 1584.3L1203.5 1584.2L1206.2 1584.2L1208.9 1584.3L1211.6 1584.6L1214.3 1584.9L1217.4 1585.5L1220.5 1586.3L1223.7 1587.2L1226.9 1588.4L1230.1 1589.7L1233.3 1591.1L1236.5 1592.6L1239.7 1594.1L1242.9 1595.8L1246.1 1597.4L1249.3 1599.1L1252.4 1600.8L1255.7 1602.6L1258.9 1604.4L1262.2 1606.3L1265.5 1608.3L1268.7 1610.3L1272.0 1612.4L1275.2 1614.5L1278.4 1616.7L1281.5 1619.0L1284.5 1621.3L1287.5 1623.7L1290.5 1626.2L1293.4 1628.8L1296.4 1631.4L1299.4 1634.2L1302.4 1637.0L1305.3 1639.9L1308.2 1642.9L1310.9 1645.9L1313.5 1648.9L1316.0 1651.9L1318.3 1655.0L1320.4 1658.1L1322.2 1661.1L1323.6 1663.7L1324.9 1666.2L1326.1 1668.8L1327.2 1671.3L1328.1 1673.9L1329.0 1676.5L1329.7 1679.1L1330.4 1681.8L1330.9 1684.5L1331.3 1687.2L1331.6 1690.0L1331.7 1692.9L1331.8 1696.3L1331.7 1699.9L1331.4 1703.7L1330.9 1707.5L1330.3 1711.4L1329.5 1715.3L1328.6 1719.2L1327.5 1723.0L1326.4 1726.8L1325.1 1730.5L1323.7 1734.0L1322.2 1737.3L1320.7 1740.3L1319.0 1743.3L1317.2 1746.2L1315.2 1749.1L1313.2 1751.8L1311.0 1754.6L1308.8 1757.2L1306.5 1759.7L1304.1 1762.2L1301.7 1764.6L1299.3 1766.9L1296.8 1769.0L1294.5 1771.0L1292.1 1772.9L1289.6 1774.6L1287.1 1776.2L1284.6 1777.8L1286.0 1779.2L1281.6 1776.7L1275.7 1773.4L1269.4 1770.2L1262.7 1766.9L1255.9 1763.6L1248.9 1760.3L1241.8 1757.0L1234.7 1753.7L1227.6 1750.4L1220.7 1747.1L1214.0 1743.8L1207.6 1740.6L1201.6 1737.3L1196.8 1734.7L1192.2 1732.0L1187.6 1729.4L1183.2 1726.8L1178.8 1724.2L1174.5 1721.6L1170.4 1719.0L1166.3 1716.4L1162.3 1713.7L1158.4 1711.0L1154.5 1708.3L1150.8 1705.6L1147.7 1703.1L1144.6 1700.7L1141.7 1698.3L1138.9 1695.9L1136.2 1693.4L1133.5 1691.0L1130.8 1688.5L1128.2 1685.9L1125.5 1683.3L1122.8 1680.6L1120.0 1677.9L1117.1 1675.1Z" fill="#FDE7DC"/>
<path d="M1284.6 1777.8L1282.0 1779.3L1279.3 1780.8L1276.6 1782.2L1273.8 1783.6L1271.0 1785.1L1268.1 1786.6L1265.1 1788.1L1261.3 1790.0L1257.4 1791.8L1253.3 1793.7L1249.1 1795.5L1244.8 1797.3L1240.5 1799.1L1236.1 1800.9L1231.7 1802.7L1227.2 1804.6L1222.9 1806.5L1218.5 1808.4L1214.3 1810.3L1210.0 1812.3L1205.7 1814.3L1201.4 1816.4L1197.1 1818.4L1192.8 1820.5L1188.6 1822.6L1184.3 1824.7L1180.0 1826.8L1175.8 1829.0L1171.7 1831.2L1167.6 1833.4L1163.5 1835.7L1159.6 1837.9L1155.7 1840.2L1151.7 1842.5L1147.8 1844.9L1143.9 1847.2L1140.1 1849.6L1136.3 1852.0L1132.6 1854.4L1129.0 1856.9L1125.5 1859.3L1122.2 1861.8L1119.0 1864.3L1116.5 1866.3L1113.9 1868.4L1111.2 1870.4L1108.7 1872.4L1106.1 1874.5L1103.7 1876.6L1101.5 1878.7L1099.4 1880.8L1097.5 1882.9L1095.9 1885.1L1094.6 1887.4L1093.7 1889.7L1093.1 1891.7L1092.7 1893.7L1092.5 1895.8L1092.4 1897.9L1092.5 1900.0L1092.8 1902.2L1093.2 1904.4L1093.7 1906.5L1094.3 1908.7L1095.1 1910.8L1095.9 1913.0L1096.8 1915.1L1098.2 1917.8L1099.9 1920.5L1101.8 1923.2L1103.9 1926.0L1106.2 1928.7L1108.7 1931.4L1111.3 1934.1L1114.1 1936.7L1116.8 1939.3L1119.7 1941.9L1122.6 1944.4L1125.4 1946.8L1128.6 1949.5L1132.0 1952.1L1135.5 1954.8L1139.1 1957.3L1142.8 1959.8L1146.6 1962.3L1150.5 1964.7L1154.3 1967.0L1158.2 1969.3L1162.1 1971.4L1166.0 1973.5L1169.8 1975.4L1173.5 1977.1L1177.2 1978.8L1181.1 1980.4L1184.9 1982.0L1188.8 1983.5L1192.6 1984.8L1196.5 1986.1L1200.2 1987.4L1203.9 1988.5L1207.5 1989.5L1211.0 1990.4L1214.3 1991.3L1216.6 1991.8L1218.8 1992.3L1221.0 1992.8L1223.0 1993.2L1225.1 1993.6L1227.1 1993.9L1229.1 1994.2L1231.1 1994.4L1233.1 1994.5L1235.2 1994.6L1237.4 1994.5L1239.7 1994.4L1242.6 1994.2L1245.6 1993.8L1248.6 1993.4L1251.7 1992.8L1254.8 1992.1L1258.0 1991.3L1261.3 1990.4L1264.5 1989.4L1267.8 1988.4L1271.1 1987.3L1274.4 1986.1L1277.8 1984.9L1281.8 1983.4L1286.0 1981.7L1290.1 1979.8L1294.4 1977.9L1298.7 1975.8L1303.0 1973.7L1307.3 1971.4L1311.6 1969.1L1315.9 1966.8L1320.2 1964.4L1324.4 1962.0L1328.6 1959.5L1332.9 1956.9L1337.3 1954.1L1341.7 1951.3L1346.1 1948.3L1350.5 1945.3L1354.9 1942.3L1359.2 1939.3L1363.5 1936.2L1367.6 1933.2L1371.7 1930.2L1375.6 1927.4L1379.4 1924.6L1382.3 1922.5L1385.1 1920.4L1387.8 1918.4L1390.4 1916.4L1393.0 1914.5L1395.5 1912.5L1398.0 1910.6L1400.5 1908.6L1403.1 1906.5L1405.7 1904.4L1408.4 1902.2L1411.1 1899.8L1414.7 1896.7L1414.0 1897.7L1411.1 1894.8L1407.9 1891.4L1404.8 1888.0L1401.7 1884.5L1398.6 1880.9L1395.4 1877.3L1392.3 1873.6L1389.2 1869.9L1386.0 1866.2L1382.8 1862.5L1379.6 1858.8L1376.3 1855.2L1373.0 1851.6L1369.5 1847.8L1365.9 1844.0L1362.4 1840.1L1358.8 1836.3L1355.1 1832.4L1351.4 1828.5L1347.7 1824.7L1344.0 1821.0L1340.2 1817.4L1336.4 1813.8L1332.5 1810.4L1328.6 1807.1L1324.9 1804.2L1321.2 1801.4L1317.5 1798.8L1313.8 1796.2L1310.1 1793.7L1306.3 1791.2L1302.4 1788.8L1298.5 1786.5L1294.5 1784.1L1290.3 1781.7L1286.0 1779.2Z" fill="#FDE7DC"/>
<path d="M1414.0 1897.7L1416.8 1900.7L1419.7 1903.5L1422.5 1906.3L1425.3 1909.1L1428.2 1911.8L1431.0 1914.6L1433.9 1917.2L1436.8 1919.9L1439.8 1922.5L1442.9 1925.2L1446.0 1927.8L1449.5 1930.6L1452.9 1933.4L1456.5 1936.1L1460.1 1938.9L1463.8 1941.6L1467.5 1944.3L1471.2 1947.0L1475.0 1949.6L1478.8 1952.1L1482.7 1954.7L1486.6 1957.1L1490.5 1959.5L1494.5 1961.9L1498.6 1964.4L1502.8 1966.8L1507.0 1969.2L1511.3 1971.5L1515.6 1973.8L1519.9 1976.0L1524.2 1978.0L1528.5 1980.0L1532.8 1981.8L1537.1 1983.5L1541.3 1984.9L1545.0 1986.1L1548.7 1987.3L1552.5 1988.3L1556.2 1989.3L1559.9 1990.2L1563.6 1990.9L1567.3 1991.6L1571.0 1992.1L1574.7 1992.5L1578.4 1992.7L1582.0 1992.7L1585.7 1992.5L1589.4 1992.2L1593.1 1991.6L1596.8 1990.8L1600.5 1989.8L1604.2 1988.7L1607.9 1987.5L1611.6 1986.1L1615.3 1984.7L1619.0 1983.2L1622.7 1981.6L1626.4 1980.1L1630.2 1978.6L1634.4 1976.8L1638.6 1975.0L1643.0 1973.2L1647.3 1971.2L1651.7 1969.2L1656.1 1967.1L1660.4 1964.9L1664.7 1962.7L1668.9 1960.4L1673.1 1958.0L1677.1 1955.6L1681.0 1953.2L1684.5 1950.8L1688.0 1948.4L1691.5 1945.9L1695.0 1943.4L1698.3 1940.8L1701.6 1938.1L1704.9 1935.4L1708.0 1932.7L1710.9 1929.9L1713.8 1927.1L1716.5 1924.3L1719.0 1921.4L1721.2 1918.9L1723.3 1916.4L1725.3 1913.8L1727.3 1911.2L1729.2 1908.6L1731.0 1905.9L1732.7 1903.3L1734.2 1900.6L1735.5 1897.9L1736.6 1895.2L1737.5 1892.4L1738.1 1889.7L1738.5 1887.1L1738.7 1884.4L1738.7 1881.7L1738.6 1878.9L1738.3 1876.1L1737.8 1873.3L1737.2 1870.6L1736.5 1867.9L1735.5 1865.3L1734.4 1862.7L1733.2 1860.3L1731.7 1857.9L1729.8 1855.3L1727.4 1852.9L1724.7 1850.5L1721.8 1848.3L1718.6 1846.2L1715.3 1844.1L1711.7 1842.1L1708.1 1840.1L1704.5 1838.2L1700.8 1836.3L1697.2 1834.4L1693.7 1832.5L1689.8 1830.5L1685.8 1828.4L1681.7 1826.5L1677.6 1824.5L1673.3 1822.7L1669.1 1820.8L1664.8 1819.0L1660.4 1817.2L1656.1 1815.5L1651.7 1813.7L1647.3 1812.0L1642.9 1810.3L1638.2 1808.6L1633.5 1806.9L1628.7 1805.2L1623.8 1803.6L1618.9 1802.0L1614.0 1800.4L1609.1 1798.8L1604.2 1797.3L1599.4 1795.8L1594.7 1794.3L1590.2 1792.8L1585.7 1791.3L1582.0 1790.0L1578.3 1788.9L1574.6 1787.8L1571.0 1786.8L1567.5 1785.8L1563.9 1784.7L1560.5 1783.7L1557.1 1782.5L1553.8 1781.3L1550.6 1779.9L1547.5 1778.4L1544.4 1776.7L1544.4 1776.7L1541.1 1779.0L1537.9 1781.4L1534.8 1783.8L1531.9 1786.2L1529.1 1788.6L1526.3 1791.1L1523.6 1793.7L1520.9 1796.3L1518.1 1798.9L1515.4 1801.6L1512.5 1804.3L1509.5 1807.1L1505.9 1810.6L1502.0 1814.5L1498.0 1818.5L1493.9 1822.8L1489.7 1827.1L1485.6 1831.4L1481.6 1835.5L1477.7 1839.5L1474.1 1843.2L1470.7 1846.5L1467.7 1849.3L1465.1 1851.6L1464.1 1852.4L1463.2 1853.0L1462.4 1853.5L1461.7 1854.0L1461.0 1854.4L1460.3 1854.8L1459.7 1855.2L1459.0 1855.6L1458.2 1856.0L1457.4 1856.6L1456.5 1857.2L1455.6 1857.9L1452.9 1860.1L1449.9 1862.9L1446.5 1866.0L1442.8 1869.6L1439.0 1873.3L1434.9 1877.3L1430.8 1881.3L1426.6 1885.4L1422.5 1889.4L1418.5 1893.1L1414.7 1896.7Z" fill="#FDE7DC"/>
<path d="M1544.4 1776.7L1541.7 1774.9L1538.9 1773.1L1536.3 1771.1L1533.7 1769.1L1531.2 1767.0L1528.7 1764.8L1526.3 1762.5L1524.1 1760.1L1521.9 1757.7L1519.8 1755.2L1517.8 1752.6L1515.9 1750.0L1514.0 1747.2L1512.2 1744.3L1510.6 1741.3L1509.0 1738.2L1507.5 1735.0L1506.1 1731.7L1504.8 1728.4L1503.6 1725.1L1502.5 1721.8L1501.6 1718.5L1500.7 1715.2L1500.0 1711.9L1499.4 1708.8L1499.0 1705.6L1498.6 1702.4L1498.3 1699.3L1498.2 1696.1L1498.1 1692.9L1498.2 1689.7L1498.3 1686.5L1498.6 1683.3L1499.0 1680.1L1499.4 1676.9L1500.0 1673.8L1500.7 1670.6L1501.5 1667.3L1502.4 1664.0L1503.4 1660.7L1504.6 1657.4L1505.8 1654.1L1507.2 1650.9L1508.6 1647.7L1510.3 1644.6L1512.0 1641.5L1513.9 1638.6L1515.9 1635.7L1518.3 1632.7L1520.9 1629.8L1523.8 1626.9L1526.8 1624.2L1530.0 1621.5L1533.2 1618.9L1536.6 1616.3L1540.1 1613.8L1543.6 1611.3L1547.1 1608.8L1550.5 1606.4L1554.0 1604.0L1557.5 1601.5L1561.0 1598.9L1564.7 1596.3L1568.3 1593.7L1572.0 1591.2L1575.8 1588.7L1579.5 1586.4L1583.3 1584.1L1587.0 1582.1L1590.8 1580.2L1594.5 1578.5L1598.1 1577.0L1601.3 1576.0L1604.4 1574.9L1607.6 1574.0L1610.8 1573.2L1614.0 1572.5L1617.2 1571.9L1620.3 1571.4L1623.4 1571.2L1626.5 1571.0L1629.5 1571.1L1632.4 1571.4L1635.2 1571.9L1637.8 1572.5L1640.3 1573.4L1642.7 1574.4L1645.2 1575.6L1647.5 1577.0L1649.9 1578.5L1652.1 1580.1L1654.4 1581.8L1656.6 1583.6L1658.7 1585.4L1660.9 1587.3L1663.0 1589.3L1665.3 1591.5L1667.5 1593.9L1669.7 1596.4L1671.8 1599.0L1673.9 1601.7L1676.0 1604.6L1677.9 1607.5L1679.9 1610.4L1681.8 1613.5L1683.7 1616.6L1685.5 1619.8L1687.3 1623.0L1689.4 1626.9L1691.4 1630.9L1693.3 1635.0L1695.2 1639.2L1697.1 1643.6L1698.9 1648.0L1700.6 1652.4L1702.3 1657.0L1703.9 1661.5L1705.4 1666.0L1706.9 1670.6L1708.3 1675.1L1708.3 1675.1L1704.0 1678.8L1699.7 1682.6L1695.4 1686.4L1691.0 1690.2L1686.7 1693.9L1682.3 1697.6L1677.8 1701.3L1673.4 1704.9L1669.0 1708.4L1664.5 1711.8L1660.0 1715.1L1655.6 1718.3L1651.4 1721.0L1647.3 1723.7L1643.1 1726.2L1639.0 1728.6L1634.8 1731.0L1630.6 1733.3L1626.4 1735.5L1622.1 1737.8L1617.9 1740.0L1613.5 1742.2L1609.2 1744.5L1604.8 1746.8L1599.9 1749.3L1594.8 1751.8L1589.6 1754.2L1584.4 1756.6L1579.0 1758.9L1573.7 1761.3L1568.5 1763.7L1563.3 1766.2L1558.3 1768.7L1553.4 1771.3L1548.8 1773.9L1544.4 1776.7Z" fill="#FDE7DC"/>
<path d="M1708.3 1675.1L1709.5 1679.6L1710.6 1684.2L1711.5 1688.7L1712.4 1693.3L1713.2 1698.0L1713.9 1702.6L1714.6 1707.3L1715.3 1712.0L1716.1 1716.7L1717.0 1721.4L1718.0 1726.2L1719.0 1731.0L1720.4 1736.2L1721.7 1741.5L1723.2 1746.9L1724.7 1752.3L1726.3 1757.8L1727.9 1763.3L1729.5 1768.7L1731.2 1774.1L1732.9 1779.4L1734.6 1784.5L1736.4 1789.6L1738.1 1794.4L1739.6 1798.5L1741.0 1802.6L1742.4 1806.6L1743.8 1810.5L1745.3 1814.4L1746.8 1818.2L1748.3 1822.0L1749.9 1825.6L1751.5 1829.1L1753.3 1832.5L1755.2 1835.8L1757.1 1838.9L1759.0 1841.5L1760.8 1844.1L1762.8 1846.6L1764.8 1849.0L1766.9 1851.4L1769.0 1853.6L1771.2 1855.8L1773.4 1857.8L1775.7 1859.7L1777.9 1861.4L1780.2 1862.9L1782.5 1864.3L1784.5 1865.3L1786.6 1866.2L1788.6 1867.1L1790.7 1867.8L1792.8 1868.4L1794.9 1868.9L1797.1 1869.3L1799.2 1869.6L1801.4 1869.7L1803.6 1869.8L1805.8 1869.6L1807.9 1869.4L1810.5 1868.8L1813.1 1868.0L1815.8 1867.0L1818.4 1865.8L1821.1 1864.4L1823.7 1862.9L1826.4 1861.2L1829.1 1859.4L1831.7 1857.5L1834.4 1855.6L1837.0 1853.6L1839.7 1851.6L1842.9 1849.1L1846.2 1846.3L1849.5 1843.4L1852.8 1840.4L1856.2 1837.2L1859.5 1833.9L1862.7 1830.5L1865.9 1827.1L1869.0 1823.7L1872.1 1820.2L1875.0 1816.8L1877.8 1813.5L1880.3 1810.4L1882.8 1807.4L1885.2 1804.3L1887.6 1801.3L1890.0 1798.2L1892.3 1795.0L1894.4 1791.9L1896.5 1788.7L1898.4 1785.5L1900.2 1782.2L1901.8 1778.8L1903.2 1775.4L1904.4 1772.0L1905.5 1768.5L1906.4 1764.9L1907.2 1761.4L1907.9 1757.7L1908.5 1754.1L1908.9 1750.4L1909.2 1746.6L1909.5 1742.8L1909.6 1738.9L1909.6 1734.9L1909.5 1731.0L1909.3 1726.0L1908.8 1721.0L1908.2 1715.8L1907.4 1710.5L1906.4 1705.2L1905.3 1699.8L1904.1 1694.4L1902.8 1688.9L1901.4 1683.5L1899.9 1678.1L1898.4 1672.7L1896.8 1667.5L1895.1 1662.1L1893.2 1656.6L1891.1 1651.2L1888.9 1645.7L1886.6 1640.3L1884.2 1634.9L1881.9 1629.5L1879.6 1624.2L1877.3 1619.0L1875.2 1613.8L1873.2 1608.8L1871.4 1604.0L1870.1 1600.2L1869.0 1596.4L1867.9 1592.8L1866.9 1589.3L1865.9 1585.8L1865.0 1582.3L1864.0 1578.8L1863.1 1575.4L1862.1 1572.0L1861.1 1568.5L1859.9 1565.0L1858.7 1561.4L1858.7 1561.4L1854.7 1564.4L1850.6 1567.3L1846.4 1570.2L1842.2 1572.9L1838.0 1575.6L1833.7 1578.3L1829.4 1580.9L1825.1 1583.6L1820.7 1586.2L1816.4 1588.9L1812.2 1591.7L1807.9 1594.4L1803.7 1597.3L1799.4 1600.1L1795.1 1602.9L1790.8 1605.6L1786.5 1608.4L1782.3 1611.3L1778.0 1614.1L1773.8 1617.0L1769.6 1620.0L1765.4 1623.0L1761.2 1626.1L1757.1 1629.4L1752.9 1632.9L1748.8 1636.5L1744.7 1640.2L1740.7 1644.0L1736.6 1647.9L1732.6 1651.8L1728.7 1655.8L1724.6 1659.7L1720.6 1663.6L1716.5 1667.5L1712.4 1671.3L1708.3 1675.1Z" fill="#FDE7DC"/>
<path d="M1405.1 1284.7L1404.6 1282.1L1404.2 1279.6L1403.8 1277.1L1403.5 1274.5L1403.1 1272.0L1402.7 1269.4L1402.3 1266.9L1401.9 1264.3L1401.3 1261.8L1400.7 1259.2L1399.9 1256.7L1399.0 1254.1L1397.8 1251.0L1396.4 1247.9L1394.9 1244.7L1393.2 1241.4L1391.5 1238.2L1389.7 1235.0L1387.8 1231.8L1385.8 1228.7L1383.8 1225.6L1381.7 1222.7L1379.6 1220.0L1377.6 1217.3L1375.7 1215.2L1373.9 1213.1L1372.0 1211.0L1370.0 1209.0L1368.1 1207.1L1366.0 1205.2L1364.0 1203.5L1361.9 1201.8L1359.8 1200.2L1357.6 1198.7L1355.3 1197.2L1353.1 1195.9L1350.8 1194.7L1348.4 1193.5L1346.0 1192.4L1343.5 1191.4L1341.0 1190.4L1338.5 1189.6L1335.9 1188.8L1333.3 1188.2L1330.6 1187.6L1327.9 1187.2L1325.2 1186.9L1322.5 1186.7L1319.1 1186.7L1315.7 1186.9L1312.1 1187.2L1308.5 1187.7L1304.8 1188.4L1301.1 1189.2L1297.4 1190.1L1293.7 1191.1L1290.1 1192.2L1286.5 1193.4L1283.0 1194.6L1279.6 1195.9L1276.3 1197.2L1272.9 1198.6L1269.5 1200.0L1266.2 1201.5L1262.8 1203.1L1259.6 1204.8L1256.4 1206.6L1253.3 1208.5L1250.4 1210.5L1247.7 1212.7L1245.2 1214.9L1242.9 1217.3L1240.8 1219.8L1238.9 1222.5L1237.1 1225.3L1235.5 1228.2L1233.9 1231.2L1232.6 1234.3L1231.3 1237.5L1230.3 1240.8L1229.4 1244.1L1228.6 1247.4L1228.0 1250.7L1227.6 1254.1L1227.3 1257.9L1227.3 1261.8L1227.5 1265.9L1228.0 1270.0L1228.6 1274.2L1229.4 1278.4L1230.4 1282.7L1231.5 1286.9L1232.7 1291.0L1234.0 1295.1L1235.3 1299.2L1236.7 1303.1L1238.2 1306.9L1239.8 1310.7L1241.6 1314.4L1243.5 1318.2L1245.5 1321.9L1247.6 1325.5L1249.7 1329.1L1251.9 1332.6L1254.2 1336.1L1256.5 1339.4L1258.9 1342.7L1261.2 1345.9L1263.5 1348.7L1265.8 1351.4L1268.2 1353.9L1270.7 1356.3L1273.2 1358.6L1275.7 1360.9L1278.3 1363.3L1280.8 1365.7L1283.4 1368.1L1285.8 1370.8L1288.3 1373.5L1286.6 1372.7L1290.6 1371.6L1294.0 1370.7L1297.3 1369.9L1300.5 1369.1L1303.7 1368.3L1306.9 1367.5L1310.0 1366.7L1313.1 1365.9L1316.2 1365.0L1319.3 1364.1L1322.4 1363.2L1325.5 1362.3L1328.6 1361.2L1331.7 1360.2L1334.9 1359.1L1338.0 1358.0L1341.2 1356.9L1344.3 1355.8L1347.4 1354.6L1350.5 1353.4L1353.6 1352.1L1356.6 1350.7L1359.6 1349.2L1362.5 1347.6L1365.3 1345.9L1368.2 1344.1L1371.1 1342.1L1373.9 1340.1L1376.8 1338.0L1379.6 1335.8L1382.4 1333.5L1385.0 1331.1L1387.6 1328.7L1389.9 1326.2L1392.1 1323.6L1394.1 1321.0L1395.9 1318.4L1397.3 1315.8L1398.5 1313.2L1399.5 1310.5L1400.3 1307.7L1401.0 1304.9L1401.7 1302.0L1402.2 1299.1L1402.7 1296.2L1403.2 1293.3L1403.8 1290.4L1404.4 1287.5L1405.1 1284.7Z" fill="#D6F0E4"/>
<path d="M1536.7 1370.0L1532.0 1367.6L1527.1 1364.9L1522.1 1362.1L1517.0 1359.1L1511.9 1355.9L1506.9 1352.8L1501.9 1349.5L1497.0 1346.3L1492.3 1343.0L1487.9 1339.8L1483.7 1336.7L1480.4 1334.3L1477.1 1331.8L1473.9 1329.4L1470.8 1326.9L1467.7 1324.5L1464.8 1322.0L1461.9 1319.5L1459.2 1317.0L1456.7 1314.4L1454.3 1311.7L1452.0 1309.0L1450.0 1306.1L1448.3 1303.5L1446.8 1300.9L1445.4 1298.3L1444.1 1295.5L1442.9 1292.8L1441.8 1290.0L1440.8 1287.2L1440.0 1284.3L1439.2 1281.4L1438.6 1278.4L1438.1 1275.5L1437.8 1272.5L1437.5 1269.1L1437.4 1265.6L1437.5 1262.0L1437.7 1258.3L1438.0 1254.6L1438.5 1250.9L1439.1 1247.2L1439.9 1243.5L1440.7 1239.9L1441.7 1236.3L1442.7 1232.9L1443.9 1229.6L1445.1 1226.5L1446.4 1223.3L1447.9 1220.2L1449.4 1217.1L1451.1 1214.1L1452.9 1211.1L1454.7 1208.2L1456.7 1205.5L1458.7 1202.8L1460.8 1200.3L1463.0 1198.0L1465.3 1195.9L1467.5 1194.1L1469.8 1192.4L1472.1 1190.7L1474.6 1189.2L1477.1 1187.7L1479.7 1186.4L1482.4 1185.2L1485.1 1184.2L1487.8 1183.3L1490.5 1182.6L1493.2 1182.1L1495.9 1181.8L1498.8 1181.8L1501.8 1182.0L1504.8 1182.5L1507.8 1183.2L1510.9 1184.0L1514.0 1185.0L1517.1 1186.2L1520.2 1187.5L1523.3 1188.8L1526.4 1190.1L1529.5 1191.5L1532.7 1192.9L1536.2 1194.4L1539.8 1196.2L1543.4 1198.0L1547.0 1199.9L1550.7 1201.9L1554.3 1204.0L1558.0 1206.2L1561.6 1208.4L1565.1 1210.6L1568.7 1212.9L1572.1 1215.1L1575.5 1217.3L1578.8 1219.5L1582.1 1221.6L1585.4 1223.7L1588.8 1225.8L1592.1 1228.0L1595.3 1230.2L1598.5 1232.5L1601.5 1234.8L1604.3 1237.2L1607.0 1239.6L1609.4 1242.2L1611.6 1244.9L1613.3 1247.4L1614.9 1249.9L1616.2 1252.5L1617.4 1255.2L1616.1 1255.0L1613.8 1257.7L1611.6 1260.2L1609.9 1262.3L1608.3 1264.3L1606.7 1266.3L1605.2 1268.2L1603.8 1270.2L1602.4 1272.2L1601.1 1274.2L1599.7 1276.2L1598.3 1278.2L1596.9 1280.3L1595.4 1282.5L1593.9 1284.7L1592.0 1287.5L1590.0 1290.3L1588.0 1293.3L1586.0 1296.3L1584.0 1299.3L1582.0 1302.4L1579.9 1305.6L1577.8 1308.7L1575.7 1311.9L1573.6 1315.1L1571.5 1318.3L1569.4 1321.4L1567.1 1324.8L1564.8 1328.1L1562.4 1331.5L1560.1 1334.9L1557.7 1338.3L1555.3 1341.8L1552.9 1345.2L1550.5 1348.7L1548.1 1352.1L1545.8 1355.6L1543.5 1359.2L1541.3 1362.7L1539.0 1366.3L1536.8 1369.9Z" fill="#D6F0E4"/>
<path d="M1286.6 1372.7L1282.5 1373.7L1278.2 1374.7L1273.9 1375.8L1269.5 1376.8L1265.1 1377.9L1260.7 1379.0L1256.3 1380.1L1252.0 1381.2L1247.8 1382.4L1243.7 1383.6L1239.7 1384.9L1236.2 1386.1L1232.8 1387.2L1229.3 1388.4L1225.9 1389.6L1222.5 1390.8L1219.2 1392.1L1216.0 1393.4L1212.9 1394.7L1209.8 1396.1L1206.9 1397.6L1204.2 1399.2L1201.6 1400.8L1199.6 1402.2L1197.7 1403.5L1195.8 1404.9L1194.0 1406.4L1192.3 1407.9L1190.6 1409.4L1189.0 1411.0L1187.6 1412.6L1186.2 1414.3L1184.9 1416.1L1183.7 1417.9L1182.5 1419.8L1181.4 1422.1L1180.5 1424.4L1179.6 1426.9L1178.9 1429.5L1178.3 1432.1L1177.8 1434.8L1177.3 1437.6L1177.0 1440.4L1176.7 1443.2L1176.5 1446.0L1176.3 1448.8L1176.2 1451.6L1176.1 1454.6L1176.2 1457.8L1176.3 1461.0L1176.6 1464.2L1176.9 1467.4L1177.3 1470.7L1177.8 1474.0L1178.4 1477.2L1179.0 1480.4L1179.7 1483.6L1180.5 1486.7L1181.3 1489.7L1182.1 1492.5L1183.0 1495.4L1183.9 1498.2L1184.9 1501.0L1186.0 1503.8L1187.2 1506.6L1188.4 1509.3L1189.6 1511.9L1190.9 1514.4L1192.3 1516.9L1193.7 1519.2L1195.2 1521.4L1196.6 1523.3L1198.0 1525.1L1199.4 1526.9L1200.9 1528.7L1202.4 1530.4L1203.9 1532.0L1205.5 1533.5L1207.2 1534.9L1208.9 1536.2L1210.6 1537.4L1212.4 1538.4L1214.3 1539.2L1216.1 1539.8L1218.0 1540.3L1220.0 1540.6L1222.0 1540.7L1224.0 1540.8L1226.1 1540.7L1228.2 1540.6L1230.4 1540.3L1232.6 1540.1L1234.9 1539.8L1237.3 1539.5L1239.7 1539.2L1243.3 1538.7L1247.2 1538.1L1251.2 1537.4L1255.4 1536.5L1259.7 1535.5L1264.0 1534.5L1268.5 1533.4L1272.9 1532.3L1277.4 1531.1L1281.8 1530.0L1286.2 1528.9L1290.5 1527.8L1294.7 1526.7L1299.0 1525.5L1303.2 1524.3L1307.4 1523.0L1311.6 1521.7L1315.8 1520.5L1320.1 1519.2L1324.3 1518.0L1328.5 1516.8L1332.8 1515.7L1337.0 1514.7L1336.2 1515.1L1336.2 1512.6L1336.2 1510.4L1336.2 1508.2L1336.2 1506.2L1336.2 1504.3L1336.1 1502.4L1336.0 1500.4L1335.9 1498.5L1335.7 1496.5L1335.5 1494.4L1335.2 1492.1L1334.9 1489.7L1334.4 1485.7L1333.8 1481.4L1333.1 1476.9L1332.3 1472.2L1331.4 1467.3L1330.4 1462.3L1329.4 1457.2L1328.2 1452.1L1326.9 1447.1L1325.5 1442.1L1323.9 1437.2L1322.2 1432.5L1320.3 1427.7L1318.1 1422.7L1315.8 1417.8L1313.3 1412.8L1310.6 1407.9L1307.9 1403.0L1305.1 1398.2L1302.2 1393.6L1299.3 1389.0L1296.4 1384.7L1293.5 1380.5L1290.6 1376.5L1288.3 1373.5Z" fill="#D6F0E4"/>
<path d="M1336.2 1515.1L1336.1 1519.1L1335.8 1523.4L1335.4 1527.9L1335.0 1532.7L1334.4 1537.6L1333.9 1542.7L1333.4 1547.8L1332.9 1552.9L1332.4 1557.9L1332.1 1562.8L1331.8 1567.6L1331.7 1572.2L1331.7 1576.2L1331.7 1580.1L1331.6 1584.0L1331.6 1587.8L1331.7 1591.6L1331.8 1595.4L1331.9 1599.1L1332.2 1602.8L1332.7 1606.4L1333.2 1609.9L1334.0 1613.3L1334.9 1616.7L1335.9 1619.7L1336.9 1622.6L1338.1 1625.6L1339.3 1628.5L1340.6 1631.3L1342.0 1634.1L1343.6 1636.8L1345.3 1639.4L1347.2 1641.9L1349.3 1644.2L1351.5 1646.4L1354.0 1648.4L1357.4 1650.8L1361.4 1652.9L1365.7 1654.8L1370.4 1656.5L1375.3 1658.0L1380.4 1659.3L1385.6 1660.5L1390.9 1661.5L1396.1 1662.4L1401.3 1663.1L1406.3 1663.8L1411.1 1664.3L1415.5 1664.7L1419.9 1664.9L1424.4 1665.1L1428.9 1665.1L1433.4 1665.0L1437.8 1664.8L1442.2 1664.4L1446.5 1664.0L1450.6 1663.4L1454.6 1662.8L1458.4 1662.0L1461.9 1661.1L1464.4 1660.4L1466.9 1659.7L1469.4 1659.0L1471.7 1658.3L1474.0 1657.4L1476.3 1656.6L1478.4 1655.6L1480.4 1654.4L1482.3 1653.2L1484.1 1651.8L1485.8 1650.2L1487.3 1648.4L1489.0 1645.8L1490.5 1642.9L1491.7 1639.7L1492.8 1636.3L1493.7 1632.6L1494.4 1628.7L1495.0 1624.7L1495.5 1620.6L1495.9 1616.4L1496.2 1612.2L1496.5 1608.1L1496.8 1604.0L1497.0 1599.0L1497.1 1593.7L1496.9 1588.3L1496.5 1582.6L1496.1 1576.9L1495.6 1571.2L1495.0 1565.5L1494.4 1560.0L1493.8 1554.6L1493.2 1549.5L1492.7 1544.8L1492.4 1540.5L1492.2 1538.0L1492.0 1535.7L1491.7 1533.5L1491.5 1531.5L1491.3 1529.5L1491.1 1527.6L1490.9 1525.7L1490.7 1523.8L1490.6 1521.8L1490.5 1519.7L1490.4 1517.5L1489.4 1517.5L1485.4 1516.3L1481.8 1515.4L1478.2 1514.5L1474.7 1513.7L1471.2 1513.0L1467.7 1512.3L1464.2 1511.6L1460.8 1511.1L1457.3 1510.5L1453.7 1510.0L1450.2 1509.5L1446.5 1509.1L1442.9 1508.7L1438.8 1508.3L1434.7 1508.0L1430.5 1507.7L1426.3 1507.5L1422.0 1507.3L1417.8 1507.2L1413.5 1507.1L1409.2 1507.1L1404.9 1507.1L1400.6 1507.1L1396.3 1507.3L1392.1 1507.5L1387.8 1507.7L1383.6 1508.0L1379.3 1508.3L1375.1 1508.7L1370.8 1509.2L1366.6 1509.7L1362.4 1510.3L1358.1 1510.9L1353.9 1511.5L1349.7 1512.2L1345.5 1513.0L1341.3 1513.8L1337.0 1514.7Z" fill="#D6F0E4"/>
<path d="M1489.4 1517.5L1493.5 1518.8L1497.6 1520.2L1501.8 1521.8L1505.9 1523.3L1510.1 1525.0L1514.3 1526.6L1518.5 1528.3L1522.6 1529.9L1526.8 1531.4L1530.9 1532.8L1534.9 1534.1L1538.7 1535.3L1542.5 1536.5L1546.3 1537.8L1550.1 1539.0L1553.9 1540.2L1557.7 1541.3L1561.4 1542.4L1565.1 1543.3L1568.8 1544.2L1572.4 1544.8L1575.9 1545.3L1579.4 1545.6L1582.2 1545.6L1585.0 1545.6L1587.8 1545.6L1590.5 1545.4L1593.3 1545.1L1595.9 1544.7L1598.6 1544.3L1601.2 1543.7L1603.7 1543.1L1606.2 1542.3L1608.7 1541.4L1611.1 1540.5L1613.5 1539.4L1615.8 1538.2L1618.1 1537.0L1620.3 1535.6L1622.5 1534.1L1624.7 1532.5L1626.8 1530.9L1628.9 1529.1L1630.9 1527.3L1632.8 1525.4L1634.7 1523.5L1636.5 1521.4L1638.5 1519.0L1640.4 1516.5L1642.3 1513.8L1644.1 1510.9L1645.9 1508.0L1647.5 1505.0L1649.1 1501.9L1650.6 1498.8L1652.0 1495.7L1653.3 1492.6L1654.5 1489.5L1655.6 1486.5L1656.5 1483.6L1657.3 1480.7L1658.1 1477.8L1658.7 1474.8L1659.3 1471.8L1659.8 1468.8L1660.3 1465.8L1660.6 1462.8L1660.8 1459.9L1660.8 1457.1L1660.8 1454.3L1660.6 1451.6L1660.4 1449.3L1660.1 1447.0L1659.7 1444.8L1659.2 1442.6L1658.7 1440.4L1658.0 1438.2L1657.3 1436.1L1656.5 1434.0L1655.6 1432.0L1654.6 1430.0L1653.5 1428.1L1652.4 1426.2L1651.1 1424.2L1649.6 1422.4L1648.1 1420.5L1646.5 1418.8L1644.8 1417.0L1643.0 1415.3L1641.0 1413.7L1639.0 1412.1L1637.0 1410.5L1634.8 1408.9L1632.5 1407.4L1630.2 1405.9L1626.7 1403.8L1623.0 1401.9L1619.0 1400.0L1614.7 1398.1L1610.3 1396.3L1605.8 1394.5L1601.3 1392.8L1596.7 1391.1L1592.2 1389.5L1587.7 1387.9L1583.4 1386.4L1579.4 1384.9L1576.0 1383.7L1572.8 1382.7L1569.6 1381.7L1566.5 1380.8L1563.4 1379.9L1560.4 1379.1L1557.3 1378.2L1554.2 1377.2L1551.1 1376.2L1547.9 1375.0L1544.6 1373.7L1541.3 1372.2L1536.7 1370.0L1536.8 1369.9L1534.5 1373.4L1532.3 1377.0L1530.1 1380.6L1527.9 1384.3L1525.8 1387.9L1523.7 1391.6L1521.6 1395.4L1519.6 1399.2L1517.7 1403.2L1515.9 1407.1L1513.9 1411.6L1512.0 1416.2L1510.2 1420.8L1508.4 1425.6L1506.7 1430.4L1505.0 1435.3L1503.4 1440.2L1501.9 1445.1L1500.5 1449.9L1499.2 1454.8L1497.9 1459.6L1496.8 1464.3L1495.9 1468.6L1495.0 1473.1L1494.2 1477.5L1493.5 1482.0L1492.9 1486.5L1492.3 1490.9L1491.8 1495.2L1491.4 1499.5L1491.1 1503.6L1490.8 1507.6L1490.6 1511.5L1490.5 1515.1L1490.4 1517.5Z" fill="#D6F0E4"/>
<circle cx="803.0" cy="573.0" r="44.6" fill="#4EC29F"/>
<circle cx="1070.0" cy="664.0" r="44.6" fill="#4EC29F"/>
<circle cx="806.0" cy="848.0" r="44.6" fill="#4EC29F"/>
<circle cx="1234.0" cy="818.0" r="42.2" fill="#4EC29F"/>
<circle cx="1413.0" cy="843.0" r="42.2" fill="#4EC29F"/>
<circle cx="925.0" cy="1039.0" r="42.2" fill="#4EC29F"/>
<circle cx="1138.0" cy="1033.0" r="42.2" fill="#4EC29F"/>
<circle cx="1323.0" cy="1033.0" r="42.2" fill="#4EC29F"/>
<circle cx="1324.0" cy="1178.0" r="39.6" fill="#4EC29F"/>
<circle cx="1081.0" cy="1208.0" r="42.2" fill="#4EC29F"/>
<circle cx="855.0" cy="1231.0" r="42.2" fill="#4EC29F"/>
<circle cx="1214.0" cy="1255.0" r="39.6" fill="#4EC29F"/>
<circle cx="1410.4" cy="1285.6" r="39.6" fill="#4EC29F"/>
<circle cx="1291.1" cy="1373.7" r="39.6" fill="#4EC29F"/>
<circle cx="1027.8" cy="1389.3" r="42.2" fill="#4EC29F"/>
<circle cx="795.0" cy="1413.0" r="42.2" fill="#4EC29F"/>
<circle cx="2022.0" cy="573.0" r="44.6" fill="#4EC29F"/>
<circle cx="1756.0" cy="664.0" r="44.6" fill="#4EC29F"/>
<circle cx="2020.0" cy="848.0" r="44.6" fill="#4EC29F"/>
<circle cx="1591.0" cy="817.0" r="42.2" fill="#4EC29F"/>
<circle cx="1502.0" cy="1033.0" r="42.2" fill="#4EC29F"/>
<circle cx="1687.0" cy="1033.0" r="42.2" fill="#4EC29F"/>
<circle cx="1901.0" cy="1039.0" r="42.2" fill="#4EC29F"/>
<circle cx="1502.0" cy="1178.0" r="39.6" fill="#4EC29F"/>
<circle cx="1744.0" cy="1208.0" r="42.2" fill="#4EC29F"/>
<circle cx="1970.0" cy="1231.0" r="42.2" fill="#4EC29F"/>
<circle cx="1612.0" cy="1255.0" r="39.6" fill="#4EC29F"/>
<circle cx="1535.2" cy="1373.7" r="39.6" fill="#4EC29F"/>
<circle cx="1798.1" cy="1390.0" r="42.2" fill="#4EC29F"/>
<circle cx="2030.0" cy="1412.0" r="42.2" fill="#4EC29F"/>
<circle cx="1160.0" cy="1430.0" r="39.6" fill="#4EC29F"/>
<circle cx="597.0" cy="1490.0" r="44.6" fill="#4EC29F"/>
<circle cx="1341.0" cy="1515.0" r="39.6" fill="#4EC29F"/>
<circle cx="1485.0" cy="1515.0" r="39.6" fill="#4EC29F"/>
<circle cx="967.0" cy="1561.0" r="42.2" fill="#4EC29F"/>
<circle cx="1201.0" cy="1555.0" r="39.6" fill="#4EC29F"/>
<circle cx="1117.0" cy="1675.0" r="42.2" fill="#4EC29F"/>
<circle cx="1349.0" cy="1659.0" r="39.6" fill="#4EC29F"/>
<circle cx="1476.0" cy="1659.0" r="39.6" fill="#4EC29F"/>
<circle cx="428.0" cy="1730.0" r="44.6" fill="#4EC29F"/>
<circle cx="918.0" cy="1775.0" r="42.2" fill="#4EC29F"/>
<circle cx="1282.0" cy="1777.0" r="42.2" fill="#4EC29F"/>
<circle cx="710.0" cy="1824.0" r="44.6" fill="#4EC29F"/>
<circle cx="1070.0" cy="1882.0" r="42.2" fill="#4EC29F"/>
<circle cx="1411.0" cy="1900.0" r="42.2" fill="#4EC29F"/>
<circle cx="1219.0" cy="2000.0" r="42.2" fill="#4EC29F"/>
<circle cx="1238.0" cy="2215.0" r="44.6" fill="#4EC29F"/>
<circle cx="1412.0" cy="2458.0" r="44.6" fill="#4EC29F"/>
<circle cx="1666.0" cy="1429.0" r="39.6" fill="#4EC29F"/>
<circle cx="1625.0" cy="1556.0" r="39.6" fill="#4EC29F"/>
<circle cx="1859.0" cy="1561.0" r="42.2" fill="#4EC29F"/>
<circle cx="2228.0" cy="1490.0" r="44.6" fill="#4EC29F"/>
<circle cx="1708.0" cy="1675.0" r="42.2" fill="#4EC29F"/>
<circle cx="1544.0" cy="1777.0" r="42.2" fill="#4EC29F"/>
<circle cx="1908.0" cy="1775.0" r="42.2" fill="#4EC29F"/>
<circle cx="2116.0" cy="1823.0" r="44.6" fill="#4EC29F"/>
<circle cx="2398.0" cy="1730.0" r="44.6" fill="#4EC29F"/>
<circle cx="1756.0" cy="1882.0" r="42.2" fill="#4EC29F"/>
<circle cx="1606.0" cy="2000.0" r="42.2" fill="#4EC29F"/>
<circle cx="1588.0" cy="2215.0" r="44.6" fill="#4EC29F"/>
<path d="M1405.1 1284.7C1403.1 1274.5 1402.9 1264.4 1399.0 1254.1C1394.4 1242.0 1385.9 1227.4 1377.6 1217.3C1370.3 1208.5 1362.3 1201.0 1353.1 1195.9C1343.9 1190.9 1333.6 1187.2 1322.5 1186.7C1309.4 1186.2 1292.9 1190.7 1279.6 1195.9C1266.4 1201.0 1251.6 1207.4 1242.9 1217.3C1234.4 1227.0 1229.0 1240.7 1227.6 1254.1C1226.0 1269.0 1231.1 1287.7 1236.7 1303.1C1242.3 1318.3 1251.8 1333.3 1261.2 1345.9C1270.0 1357.6 1281.4 1364.1 1290.6 1376.5C1302.0 1391.8 1314.8 1413.2 1322.2 1432.5C1329.3 1451.0 1332.9 1474.4 1334.9 1489.7C1336.3 1499.8 1336.3 1504.9 1336.2 1515.1C1336.0 1530.3 1331.8 1554.4 1331.7 1572.2C1331.7 1588.0 1330.8 1603.5 1334.9 1616.7C1338.7 1628.6 1343.8 1640.7 1354.0 1648.4C1366.9 1658.2 1392.5 1662.3 1411.1 1664.3C1428.4 1666.1 1448.2 1664.8 1461.9 1661.1C1472.2 1658.4 1481.5 1655.9 1487.3 1648.4C1494.7 1638.9 1495.7 1620.2 1496.8 1604.0C1498.2 1584.8 1493.6 1556.9 1492.4 1540.5C1491.6 1530.1 1490.2 1525.0 1490.5 1515.1C1490.8 1501.0 1492.9 1481.5 1496.8 1464.3C1501.1 1445.6 1508.0 1424.6 1515.9 1407.1C1523.1 1391.0 1532.3 1377.1 1541.3 1362.7C1550.1 1348.5 1560.4 1334.8 1569.4 1321.4C1577.9 1308.9 1586.3 1295.6 1593.9 1284.7C1600.2 1275.6 1604.5 1268.5 1611.6 1260.2C1620.2 1250.2 1631.2 1237.3 1642.9 1229.6C1654.0 1222.2 1666.6 1217.9 1679.6 1214.3C1693.1 1210.6 1710.5 1208.5 1722.4 1208.2C1731.0 1207.9 1735.9 1208.4 1744.5 1210.0C1757.0 1212.4 1773.5 1219.0 1789.8 1223.5C1808.6 1228.6 1830.5 1234.9 1851.0 1238.8C1871.3 1242.6 1895.4 1247.0 1912.2 1246.7C1924.2 1246.6 1934.0 1245.9 1942.9 1241.8C1951.3 1237.9 1960.2 1231.4 1964.3 1223.5C1968.6 1215.2 1968.0 1203.9 1967.3 1192.9C1966.6 1179.7 1962.7 1165.0 1958.2 1150.0C1952.9 1132.6 1944.8 1111.8 1936.7 1094.9C1929.4 1079.4 1921.6 1062.7 1912.2 1052.0C1904.8 1043.7 1897.3 1037.6 1887.8 1033.7C1877.2 1029.4 1864.9 1029.5 1851.0 1028.8C1833.2 1027.9 1810.2 1029.3 1789.8 1030.6C1769.4 1031.9 1747.0 1034.9 1728.6 1036.7C1713.4 1038.3 1701.5 1039.4 1686.9 1041.0C1671.0 1042.8 1654.3 1046.7 1636.7 1047.1C1617.4 1047.6 1596.8 1045.0 1575.5 1042.9C1552.1 1040.5 1524.1 1036.0 1502.0 1033.1C1484.1 1030.6 1470.3 1027.8 1453.1 1026.3C1433.8 1024.7 1412.8 1023.9 1391.8 1024.5C1369.6 1025.1 1346.1 1028.6 1323.3 1030.6C1300.5 1032.7 1277.8 1035.5 1255.1 1036.7C1232.6 1037.9 1208.5 1038.7 1187.8 1038.0C1169.9 1037.4 1155.0 1035.8 1138.2 1033.7C1120.4 1031.4 1102.4 1027.0 1083.7 1024.5C1063.9 1021.8 1042.3 1018.6 1022.5 1018.4C1003.6 1018.2 983.5 1018.4 967.3 1022.7C953.5 1026.3 941.8 1030.7 930.6 1039.8C916.8 1051.0 904.9 1071.0 893.9 1088.8C882.3 1107.6 870.6 1131.1 863.3 1150.0C857.3 1165.3 851.2 1180.5 851.0 1192.9C850.9 1202.1 851.8 1211.7 857.1 1217.3C863.2 1223.7 875.6 1224.9 887.8 1226.5C904.5 1228.7 928.1 1226.0 949.0 1224.7C970.9 1223.4 994.1 1220.0 1016.3 1218.6C1038.1 1217.2 1060.9 1215.1 1081.2 1216.1C1099.4 1217.1 1117.3 1218.7 1132.7 1223.5C1146.3 1227.7 1159.9 1233.9 1169.4 1241.8C1177.6 1248.7 1184.1 1256.7 1187.8 1266.3C1191.8 1276.9 1191.1 1290.0 1190.8 1303.1C1190.5 1318.2 1188.3 1337.9 1184.7 1352.0C1181.8 1363.4 1177.6 1372.1 1173.0 1381.7C1168.4 1391.5 1163.9 1403.9 1157.1 1410.3C1151.7 1415.5 1145.8 1417.7 1138.1 1419.8C1127.8 1422.7 1112.6 1424.0 1100.0 1423.0C1087.2 1422.0 1073.9 1418.7 1061.9 1413.5C1049.6 1408.2 1037.5 1400.2 1027.0 1391.3C1016.3 1382.2 1009.2 1371.7 998.4 1359.5C984.1 1343.4 964.8 1318.5 949.0 1303.1C936.3 1290.7 924.4 1280.4 912.2 1272.5C902.0 1265.7 891.5 1260.1 881.6 1257.1C873.2 1254.6 865.1 1252.7 857.1 1254.1C848.8 1255.5 839.6 1259.4 832.7 1266.3C823.4 1275.6 816.4 1294.6 811.2 1309.2C806.3 1323.2 803.7 1337.2 802.0 1352.0C800.3 1367.7 799.2 1385.7 801.6 1400.8C803.7 1414.5 807.2 1426.4 814.3 1438.9C822.8 1454.0 837.9 1469.8 852.4 1483.3C867.4 1497.4 885.0 1508.9 903.2 1521.4C922.9 1535.0 945.4 1548.7 966.7 1561.4C987.7 1574.0 1011.2 1585.5 1030.2 1597.6C1046.6 1608.1 1060.5 1617.0 1074.6 1629.4C1089.6 1642.6 1103.5 1661.6 1117.1 1675.1C1128.8 1686.5 1137.9 1695.8 1150.8 1705.6C1165.6 1716.7 1182.4 1726.6 1201.6 1737.3C1225.0 1750.3 1258.8 1763.7 1281.6 1776.7C1299.7 1786.9 1313.7 1795.1 1328.6 1807.1C1344.3 1819.9 1359.0 1836.7 1373.0 1851.6C1386.4 1865.9 1398.4 1881.6 1411.1 1894.8C1422.7 1906.8 1433.3 1917.3 1446.0 1927.8C1459.6 1939.0 1474.8 1950.1 1490.5 1959.5C1506.5 1969.2 1524.5 1979.4 1541.3 1984.9C1556.2 1989.8 1571.0 1993.5 1585.7 1992.5C1600.7 1991.5 1615.1 1984.7 1630.2 1978.6C1646.8 1971.9 1665.7 1963.1 1681.0 1953.2C1695.2 1943.9 1709.2 1932.9 1719.0 1921.4C1727.5 1911.5 1736.2 1900.6 1738.1 1889.7C1739.9 1879.4 1737.8 1866.9 1731.7 1857.9C1724.6 1847.2 1707.6 1840.2 1693.7 1832.5C1678.3 1824.1 1660.4 1817.1 1642.9 1810.3C1624.5 1803.3 1603.2 1797.3 1585.7 1791.3C1570.8 1786.2 1556.3 1783.9 1544.4 1776.7C1533.2 1769.9 1523.2 1760.6 1515.9 1750.0C1508.3 1739.1 1502.6 1724.9 1500.0 1711.9C1497.5 1699.5 1497.5 1686.3 1500.0 1673.8C1502.6 1660.8 1507.6 1647.0 1515.9 1635.7C1525.0 1623.4 1540.4 1613.7 1554.0 1604.0C1567.8 1594.1 1583.5 1582.3 1598.1 1577.0C1610.6 1572.6 1624.1 1569.5 1635.2 1571.9C1645.6 1574.1 1654.7 1581.5 1663.0 1589.3C1672.3 1598.0 1680.2 1610.1 1687.3 1623.0C1695.6 1638.1 1703.0 1657.2 1708.3 1675.1C1713.6 1693.1 1714.4 1711.9 1719.0 1731.0C1724.1 1751.6 1731.2 1775.3 1738.1 1794.4C1744.0 1810.8 1748.9 1826.8 1757.1 1838.9C1764.2 1849.3 1773.3 1859.3 1782.5 1864.3C1790.4 1868.5 1799.3 1870.7 1807.9 1869.4C1818.2 1867.7 1829.2 1859.5 1839.7 1851.6C1852.5 1841.9 1866.9 1826.8 1877.8 1813.5C1887.8 1801.3 1897.9 1789.2 1903.2 1775.4C1908.4 1761.7 1910.0 1747.0 1909.5 1731.0C1909.0 1711.6 1903.0 1688.3 1896.8 1667.5C1890.4 1646.0 1878.1 1623.2 1871.4 1604.0C1866.0 1588.5 1863.8 1575.8 1858.7 1561.4C1853.3 1546.2 1845.4 1531.0 1839.7 1515.1C1833.8 1498.7 1826.8 1481.4 1823.8 1464.3C1820.9 1447.5 1819.9 1429.1 1821.9 1413.5C1823.7 1399.7 1827.0 1385.9 1833.3 1375.4C1839.1 1365.8 1848.9 1360.9 1857.1 1352.0C1867.0 1341.4 1875.9 1326.3 1887.8 1315.3C1900.2 1303.7 1916.2 1293.1 1930.6 1284.7C1943.8 1277.1 1959.0 1267.2 1970.4 1266.3C1978.5 1265.7 1985.7 1267.8 1991.8 1272.5C1999.6 1278.4 2005.3 1291.2 2010.2 1303.1C2016.0 1317.1 2019.2 1336.9 2022.5 1352.0C2025.2 1364.9 2028.3 1374.7 2028.9 1388.1C2029.6 1404.9 2026.6 1425.8 2023.8 1445.2C2020.8 1465.9 2016.0 1486.2 2011.1 1508.7C2005.6 1534.5 1999.3 1563.3 1992.1 1591.3C1984.5 1620.4 1974.3 1651.6 1966.7 1680.2C1959.6 1706.5 1952.9 1735.3 1947.6 1756.3C1943.9 1771.2 1935.2 1784.1 1938.1 1794.4C1940.7 1803.7 1951.2 1810.6 1960.3 1816.7C1970.8 1823.7 1984.5 1828.9 1998.4 1832.5C2013.9 1836.6 2032.9 1839.6 2049.2 1838.9C2064.6 1838.2 2081.8 1834.6 2093.7 1829.4C2102.8 1825.3 2108.4 1820.2 2115.9 1813.5C2125.3 1805.1 2135.1 1795.4 2144.4 1781.7C2157.6 1762.5 2171.9 1731.3 2182.5 1705.6C2192.9 1680.5 2201.5 1654.4 2207.9 1629.4C2214.0 1605.8 2218.7 1582.9 2220.6 1559.5C2222.5 1536.3 2220.5 1512.4 2219.4 1489.7C2218.3 1468.0 2216.2 1450.0 2214.3 1426.2C2211.9 1395.6 2209.7 1355.2 2206.1 1321.4C2202.8 1289.8 2199.9 1260.0 2193.9 1229.6C2187.7 1198.8 2180.3 1167.9 2169.4 1137.8C2158.1 1106.6 2140.8 1076.5 2126.5 1045.9C2112.2 1015.3 2097.8 982.1 2083.7 954.1C2071.3 929.7 2058.7 905.9 2046.9 886.7C2037.7 871.6 2030.9 860.7 2020.0 847.6C2007.2 832.1 1990.7 815.5 1973.5 801.0C1955.1 785.6 1932.8 772.0 1912.2 758.2C1892.0 744.5 1870.3 730.7 1851.0 718.4C1833.8 707.4 1818.4 696.4 1802.0 687.8C1786.8 679.7 1772.6 673.0 1756.1 667.6C1738.1 661.6 1719.5 659.1 1698.0 654.1C1670.8 647.8 1636.8 639.3 1606.1 632.7C1575.6 626.0 1545.0 619.2 1514.3 614.3C1483.8 609.4 1450.0 604.8 1422.4 603.3C1400.0 602.0 1381.5 602.6 1361.1 603.7C1340.7 604.8 1321.8 607.0 1300.0 609.6C1274.8 612.7 1244.9 617.0 1218.5 621.5C1193.3 625.8 1169.4 629.6 1144.9 635.7C1119.8 642.0 1093.5 649.6 1069.6 659.0C1046.6 668.0 1025.3 679.3 1004.1 690.8C983.1 702.2 963.0 714.5 942.9 727.6C922.2 740.9 899.9 756.2 881.6 770.4C865.7 782.7 851.6 794.0 838.8 807.1C826.4 819.8 814.5 832.5 805.7 847.6C796.6 863.0 793.7 880.9 785.4 899.0C775.7 920.2 762.0 943.4 750.0 966.3C737.5 990.1 725.4 1014.6 712.0 1039.3C697.8 1065.4 679.7 1091.3 667.0 1118.9C654.3 1146.5 644.1 1175.9 635.6 1204.8C627.3 1233.1 621.6 1264.1 616.4 1290.4C612.0 1312.6 609.2 1331.5 606.0 1352.0C602.8 1372.5 599.5 1391.9 597.0 1413.5C594.3 1437.5 591.2 1466.8 590.8 1489.7C590.5 1508.3 591.3 1522.7 593.3 1540.5C595.6 1560.5 599.7 1582.9 604.8 1604.0C609.9 1625.3 616.5 1646.0 623.8 1667.5C631.5 1690.2 637.5 1713.4 650.0 1736.7C664.7 1764.1 688.1 1796.6 709.5 1819.8C728.4 1840.2 749.2 1852.6 769.8 1870.6C792.5 1890.4 816.7 1912.2 839.7 1934.1C863.2 1956.6 885.2 1981.8 909.5 2004.0C933.9 2026.2 959.8 2048.1 985.7 2067.5C1010.6 2086.1 1035.2 2101.8 1061.9 2118.3C1090.1 2135.7 1120.9 2154.0 1150.8 2169.0C1179.6 2183.5 1209.2 2196.9 1237.8 2207.1C1264.2 2216.6 1289.8 2223.7 1315.9 2229.4C1341.3 2234.9 1367.2 2238.7 1392.1 2240.8C1415.8 2242.8 1438.0 2243.7 1461.9 2242.1C1487.6 2240.3 1518.7 2235.7 1541.3 2229.4C1559.1 2224.3 1571.7 2217.7 1587.6 2210.3C1605.4 2202.1 1623.0 2190.0 1642.9 2181.7C1664.4 2172.8 1688.4 2166.7 1712.7 2159.5C1739.0 2151.8 1768.7 2147.3 1795.2 2137.3C1821.6 2127.4 1847.7 2114.1 1871.4 2100.0C1894.0 2086.5 1913.8 2071.4 1934.5 2055.1C1956.1 2038.1 1977.5 2019.7 1998.2 1999.6C2019.9 1978.5 2044.3 1950.9 2061.7 1931.2C2074.4 1916.8 2082.4 1906.0 2093.7 1892.9C2105.7 1878.9 2117.1 1863.7 2131.8 1849.8C2148.3 1834.0 2168.6 1817.0 2188.9 1804.0C2208.9 1791.2 2230.9 1781.3 2252.4 1772.2C2273.3 1763.4 2295.6 1754.5 2315.9 1750.0C2333.5 1746.1 2352.9 1742.7 2366.7 1744.9C2376.8 1746.6 2386.2 1750.1 2392.1 1756.3C2397.8 1762.5 2400.7 1771.7 2401.6 1781.7C2402.8 1795.6 2396.8 1814.1 2392.1 1832.5C2386.1 1855.6 2376.6 1882.6 2366.7 1908.7C2355.8 1937.4 2343.1 1968.4 2328.6 1997.6C2313.6 2027.7 2296.1 2058.6 2277.8 2086.5C2260.1 2113.5 2239.6 2139.5 2220.6 2162.7C2203.6 2183.5 2185.5 2201.9 2169.8 2219.8C2156.2 2235.5 2142.2 2249.6 2131.7 2264.3C2122.7 2277.1 2114.7 2290.3 2109.5 2302.4C2105.3 2312.3 2104.0 2321.4 2101.3 2331.0" fill="none" stroke="#E43A3E" stroke-width="4.8" stroke-linecap="round" stroke-linejoin="round" opacity="0.7"/>
<path d="M1405.1 1284.7C1402.0 1295.9 1402.0 1308.5 1395.9 1318.4C1389.3 1329.1 1376.6 1338.8 1365.3 1345.9C1354.2 1353.0 1341.1 1356.9 1328.6 1361.2C1316.2 1365.5 1304.2 1368.0 1290.6 1371.6C1274.9 1375.8 1255.3 1379.7 1239.7 1384.9C1225.9 1389.6 1211.6 1394.1 1201.6 1400.8C1193.5 1406.2 1186.8 1411.9 1182.5 1419.8C1177.9 1428.5 1176.6 1440.5 1176.2 1451.6C1175.8 1463.7 1177.9 1477.8 1181.3 1489.7C1184.4 1501.0 1189.2 1512.9 1195.2 1521.4C1200.5 1528.9 1206.8 1536.3 1214.3 1539.2C1221.7 1542.1 1229.8 1540.3 1239.7 1539.2C1253.8 1537.6 1273.6 1532.0 1290.5 1527.8C1307.5 1523.5 1324.2 1517.2 1341.3 1513.8C1358.1 1510.5 1375.1 1508.3 1392.1 1507.5C1409.0 1506.6 1426.7 1507.1 1442.9 1508.7C1457.7 1510.2 1470.8 1512.5 1485.4 1516.3C1501.5 1520.6 1518.7 1529.2 1534.9 1534.1C1550.0 1538.8 1565.7 1544.9 1579.4 1545.6C1590.8 1546.1 1601.6 1544.5 1611.1 1540.5C1620.6 1536.5 1629.4 1529.7 1636.5 1521.4C1644.5 1512.2 1651.6 1498.5 1655.6 1486.5C1659.3 1475.2 1661.5 1462.2 1660.6 1451.6C1659.8 1442.3 1657.2 1433.6 1652.4 1426.2C1647.3 1418.3 1639.7 1412.0 1630.2 1405.9C1617.2 1397.6 1595.2 1390.8 1579.4 1384.9C1565.8 1379.9 1554.9 1378.6 1541.3 1372.2C1523.6 1364.0 1499.8 1348.9 1483.7 1336.7C1470.4 1326.8 1457.7 1317.6 1450.0 1306.1C1443.2 1295.9 1439.0 1284.5 1437.8 1272.5C1436.4 1259.2 1439.1 1242.6 1443.9 1229.6C1448.5 1217.1 1456.1 1204.0 1465.3 1195.9C1473.8 1188.5 1485.1 1182.6 1495.9 1181.8C1507.5 1181.0 1520.2 1187.5 1532.7 1192.9C1546.7 1198.9 1562.1 1208.5 1575.5 1217.3C1588.4 1225.9 1603.4 1233.9 1611.6 1244.9C1619.0 1254.7 1620.6 1266.2 1624.5 1278.6C1629.1 1293.3 1631.7 1311.4 1636.7 1327.6C1641.9 1344.0 1646.5 1362.0 1655.1 1376.5C1663.5 1390.6 1675.3 1406.2 1687.3 1413.5C1697.1 1419.4 1708.5 1421.1 1719.0 1421.1C1729.6 1421.1 1740.9 1417.8 1750.8 1413.5C1761.0 1409.0 1772.1 1402.3 1779.4 1394.4C1786.1 1387.2 1791.4 1376.9 1794.0 1369.0C1795.9 1363.0 1796.1 1358.8 1795.9 1352.0C1795.7 1342.1 1792.6 1327.9 1789.8 1315.3C1786.7 1301.5 1782.6 1286.6 1777.6 1272.5C1772.4 1258.0 1765.5 1241.3 1759.2 1229.6C1754.4 1220.8 1749.5 1216.7 1744.5 1207.6C1737.3 1194.2 1729.1 1173.7 1722.4 1156.1C1715.6 1138.2 1709.2 1119.5 1704.1 1101.0C1699.0 1082.8 1696.7 1064.7 1691.8 1045.9C1686.6 1026.0 1680.5 1004.9 1673.5 984.7C1666.3 964.1 1658.3 943.1 1649.0 923.5C1639.9 904.3 1629.1 883.6 1618.4 868.4C1609.7 856.1 1600.5 845.8 1591.4 837.8C1584.1 831.2 1578.1 826.2 1569.4 822.5C1559.1 818.0 1545.9 816.2 1532.7 814.5C1517.6 812.5 1498.7 810.7 1483.7 812.0C1470.5 813.2 1456.5 815.0 1446.9 820.6C1438.8 825.4 1432.4 832.9 1428.6 840.8C1424.8 848.8 1423.7 858.6 1424.3 868.4C1425.0 879.8 1429.7 892.2 1434.7 905.1C1440.7 920.5 1450.4 937.4 1459.2 954.1C1468.6 972.0 1481.7 992.5 1489.8 1009.2C1496.2 1022.5 1501.5 1032.5 1505.1 1045.9C1509.1 1060.8 1510.9 1079.7 1511.2 1094.9C1511.5 1108.0 1512.4 1121.6 1508.2 1131.6C1504.5 1140.4 1498.0 1148.4 1489.8 1153.1C1480.3 1158.4 1466.9 1157.8 1453.1 1159.2C1435.3 1160.9 1411.7 1161.6 1391.8 1161.0C1373.0 1160.5 1351.0 1160.9 1336.7 1156.1C1326.4 1152.7 1317.5 1148.0 1312.2 1140.8C1307.0 1133.7 1305.9 1123.6 1304.9 1113.3C1303.6 1100.6 1304.2 1083.9 1307.3 1070.4C1310.4 1057.2 1316.9 1047.2 1323.3 1033.1C1331.9 1013.9 1345.3 987.6 1355.1 966.3C1363.9 947.1 1373.0 928.6 1379.6 911.2C1385.3 896.2 1391.6 880.3 1393.1 868.4C1394.1 860.1 1394.9 853.0 1391.8 846.9C1388.6 840.6 1381.2 835.8 1373.5 831.6C1363.7 826.4 1349.1 823.2 1336.7 820.6C1324.6 818.1 1312.4 816.4 1300.0 816.3C1287.3 816.3 1272.8 817.7 1261.2 820.6C1251.2 823.2 1242.9 826.3 1234.3 831.6C1224.5 837.7 1214.2 846.4 1206.1 856.1C1197.5 866.5 1191.2 878.7 1184.7 892.9C1176.6 910.3 1169.7 934.8 1163.3 954.1C1157.6 971.3 1152.5 988.7 1148.0 1003.1C1144.4 1014.3 1141.6 1020.8 1138.2 1033.1C1132.8 1052.2 1127.8 1083.9 1120.4 1107.1C1113.5 1128.8 1103.0 1150.2 1095.9 1168.4C1090.3 1182.8 1086.8 1193.6 1081.2 1207.6C1074.8 1223.9 1065.8 1241.8 1059.2 1260.2C1052.2 1279.7 1045.6 1302.7 1040.8 1321.4C1036.8 1336.9 1034.1 1351.6 1031.6 1364.3C1029.7 1374.3 1028.8 1380.7 1027.0 1391.3C1024.4 1406.2 1022.2 1427.7 1017.5 1445.2C1012.7 1462.7 1006.1 1478.2 998.4 1496.0C989.6 1516.7 975.4 1540.3 966.7 1561.4C958.8 1580.4 952.9 1597.9 947.6 1616.7C942.3 1635.4 938.3 1654.7 934.9 1673.8C931.6 1692.8 927.4 1713.8 927.3 1731.0C927.2 1744.9 927.6 1756.8 931.7 1769.0C936.1 1782.2 944.3 1795.8 954.0 1807.1C964.2 1819.2 978.8 1830.2 992.1 1838.9C1004.3 1846.9 1017.7 1853.9 1030.2 1857.9C1041.0 1861.4 1052.9 1864.8 1061.9 1863.0C1069.4 1861.6 1076.0 1857.8 1081.0 1851.6C1087.7 1843.2 1090.0 1828.0 1093.7 1813.5C1098.3 1795.2 1101.8 1770.6 1105.1 1750.0C1108.1 1730.5 1109.0 1710.6 1112.7 1692.9C1116.0 1677.0 1119.0 1662.2 1125.4 1648.4C1131.7 1634.7 1140.7 1620.6 1150.8 1610.3C1160.0 1600.9 1171.4 1592.2 1182.5 1588.1C1192.7 1584.3 1203.4 1583.3 1214.3 1584.9C1226.6 1586.8 1240.0 1594.2 1252.4 1600.8C1265.4 1607.8 1278.9 1616.2 1290.5 1626.2C1302.2 1636.3 1315.3 1648.9 1322.2 1661.1C1328.0 1671.3 1331.3 1681.3 1331.7 1692.9C1332.3 1706.4 1328.4 1724.4 1322.2 1737.3C1316.4 1749.6 1306.6 1760.5 1296.8 1769.0C1287.5 1777.2 1277.1 1781.9 1265.1 1788.1C1250.3 1795.7 1231.1 1802.4 1214.3 1810.3C1197.3 1818.3 1179.6 1826.5 1163.5 1835.7C1147.9 1844.6 1131.4 1854.4 1119.0 1864.3C1108.9 1872.5 1096.8 1880.4 1093.7 1889.7C1091.0 1897.5 1093.0 1906.7 1096.8 1915.1C1101.8 1925.9 1114.1 1937.2 1125.4 1946.8C1138.0 1957.5 1154.6 1967.9 1169.8 1975.4C1184.3 1982.5 1201.4 1988.2 1214.3 1991.3C1223.8 1993.5 1230.4 1995.0 1239.7 1994.4C1251.2 1993.8 1264.5 1989.8 1277.8 1984.9C1293.8 1979.0 1312.0 1969.3 1328.6 1959.5C1345.9 1949.3 1364.6 1935.5 1379.4 1924.6C1391.3 1915.8 1399.9 1909.5 1411.1 1899.8C1424.9 1888.0 1446.0 1865.6 1455.6 1857.9C1459.7 1854.6 1461.0 1855.0 1465.1 1851.6C1474.7 1843.7 1495.4 1820.4 1509.5 1807.1C1521.7 1795.8 1530.5 1786.0 1544.4 1776.7C1561.2 1765.5 1585.6 1756.9 1604.8 1746.8C1622.6 1737.4 1639.0 1729.6 1655.6 1718.3C1673.5 1706.0 1691.3 1690.0 1708.3 1675.1C1725.1 1660.3 1740.2 1643.0 1757.1 1629.4C1773.4 1616.3 1790.9 1605.8 1807.9 1594.4C1824.8 1583.2 1842.8 1573.6 1858.7 1561.4C1874.5 1549.3 1888.5 1535.3 1903.2 1521.4C1918.2 1507.2 1933.4 1491.2 1947.6 1477.0C1960.8 1463.8 1971.9 1449.3 1985.7 1438.9C1998.9 1429.0 2015.3 1419.6 2028.3 1415.4C2038.0 1412.3 2044.8 1411.7 2055.6 1412.2C2071.2 1413.0 2094.0 1418.6 2112.7 1424.9C2132.1 1431.5 2152.4 1441.4 2169.8 1451.6C2186.1 1461.1 2201.6 1470.6 2214.3 1483.3C2227.0 1496.0 2235.9 1511.7 2246.0 1527.8C2257.1 1545.3 2266.5 1565.5 2277.8 1584.9C2289.7 1605.6 2303.0 1630.4 2315.9 1648.4C2326.4 1663.2 2336.3 1676.1 2347.6 1686.5C2357.6 1695.7 2369.7 1705.7 2379.4 1708.7C2386.2 1710.9 2392.4 1710.9 2398.4 1708.7C2405.2 1706.3 2412.2 1700.4 2417.5 1692.9C2424.8 1682.4 2428.6 1665.4 2433.3 1648.4C2439.5 1626.6 2444.6 1599.1 2449.2 1572.2C2454.3 1542.3 2458.8 1511.1 2461.9 1477.0C2465.5 1437.8 2467.7 1375.1 2468.3 1350.0C2468.5 1339.5 2468.2 1337.1 2468.2 1327.6C2468.1 1311.1 2468.6 1283.3 2467.7 1259.8C2466.8 1234.4 2465.8 1206.3 2462.4 1180.4C2459.1 1155.3 2455.7 1131.9 2447.9 1106.9C2439.1 1078.9 2425.0 1049.3 2410.3 1021.2C2395.1 992.0 2377.3 965.5 2357.9 935.2C2335.7 900.3 2307.9 858.4 2283.7 824.1C2262.1 793.5 2241.7 765.6 2220.0 738.9C2199.5 713.7 2178.3 690.2 2157.4 667.8C2137.7 646.6 2116.7 622.5 2098.1 607.8C2084.5 596.9 2071.1 588.2 2059.2 583.7C2050.4 580.3 2041.2 576.4 2034.7 579.4C2027.6 582.7 2023.3 595.1 2019.4 605.1C2014.6 617.2 2012.1 630.9 2010.2 648.0C2007.4 672.7 2008.2 712.3 2009.0 739.8C2009.6 762.3 2013.1 780.6 2013.3 801.0C2013.5 821.4 2012.4 842.5 2010.2 862.2C2008.1 881.1 2006.1 899.6 2000.7 917.0C1995.5 934.2 1987.5 951.2 1978.5 965.9C1970.1 979.7 1959.4 995.0 1949.0 1003.1C1941.1 1009.2 1932.6 1014.5 1924.5 1014.1C1916.2 1013.7 1909.6 1005.4 1900.0 1000.0C1886.5 992.4 1867.8 983.6 1850.7 973.3C1831.2 961.6 1810.1 946.0 1789.6 932.6C1769.3 919.3 1748.9 906.6 1728.5 893.3C1708.1 880.1 1684.8 866.0 1667.3 853.1C1653.2 842.6 1640.5 832.6 1630.6 822.5C1622.6 814.2 1613.2 806.7 1611.0 798.0C1609.0 790.2 1611.5 781.8 1615.3 773.5C1620.3 762.5 1631.3 751.0 1642.9 739.8C1657.5 725.5 1678.9 709.7 1698.0 696.9C1716.7 684.5 1736.9 672.8 1756.1 663.9C1773.6 655.8 1791.6 650.3 1808.2 644.9C1823.1 640.1 1835.5 637.4 1851.0 632.7C1869.7 626.9 1893.2 620.0 1912.2 612.4C1929.7 605.6 1948.0 597.7 1961.2 589.8C1971.2 583.9 1980.7 578.2 1985.7 571.4C1989.5 566.3 1992.7 560.6 1991.8 554.9C1990.7 547.5 1982.2 539.9 1973.5 531.6C1959.6 518.6 1932.9 502.2 1912.2 488.8C1892.1 475.7 1873.8 464.5 1851.0 452.0C1823.8 437.1 1790.2 419.5 1759.2 406.1C1728.8 393.1 1697.5 383.5 1666.7 372.6C1636.1 361.8 1605.9 350.1 1575.2 341.1C1544.8 332.2 1512.7 323.6 1483.3 318.9C1457.0 314.6 1434.2 312.1 1407.4 312.6C1377.0 313.2 1342.1 318.6 1310.4 324.4C1279.2 330.2 1249.0 338.8 1218.5 347.4C1187.8 356.1 1157.1 365.3 1126.7 376.3C1095.7 387.5 1065.0 400.8 1034.4 414.1C1003.6 427.5 969.5 442.6 942.6 456.5C920.6 467.8 902.2 479.3 884.0 490.0C867.9 499.4 850.6 507.9 838.9 517.0C830.3 523.7 822.5 530.5 818.5 537.4C815.5 542.6 813.9 548.0 814.4 553.3C815.0 559.1 818.3 565.4 823.0 570.7C829.1 577.7 839.3 583.3 850.7 589.3C866.8 597.5 891.4 605.3 911.9 612.6C932.2 619.9 954.0 626.8 973.3 633.0C990.6 638.5 1006.3 642.8 1022.5 648.0C1038.4 653.1 1054.2 657.9 1069.6 663.9C1084.8 669.8 1099.5 676.3 1114.1 683.7C1128.8 691.2 1143.6 700.7 1157.4 708.9C1170.1 716.5 1183.4 723.8 1193.7 731.1C1201.9 737.0 1209.6 741.3 1214.8 748.5C1220.1 755.8 1224.8 766.3 1225.2 774.4C1225.5 781.6 1223.4 788.4 1219.3 794.8C1213.9 803.1 1204.4 808.1 1192.6 817.8C1170.6 835.8 1124.7 871.6 1095.9 892.9C1073.4 909.5 1055.1 921.4 1034.7 935.7C1014.3 950.0 989.4 968.0 973.5 978.6C963.6 985.1 957.6 988.6 949.0 993.9C939.4 999.8 927.6 1009.2 918.4 1012.2C911.7 1014.4 906.3 1015.4 900.0 1014.1C892.2 1012.4 883.6 1006.5 875.5 1000.0C865.2 991.7 852.3 977.9 845.0 966.3C838.8 956.4 836.9 946.8 832.7 935.7C827.7 922.7 821.8 907.4 817.3 892.9C812.8 878.1 807.8 862.9 805.7 847.6C803.7 832.3 804.8 817.6 805.1 801.0C805.5 782.0 806.8 760.2 808.2 739.8C809.5 719.4 812.7 697.2 813.1 678.6C813.4 663.0 813.1 647.9 811.5 635.6C810.3 626.0 809.6 617.6 805.9 610.4C802.5 603.6 796.2 595.6 790.7 593.3C786.6 591.6 783.3 592.5 777.8 594.1C766.0 597.5 743.8 610.1 725.9 622.6C703.5 638.3 679.0 661.9 655.6 683.7C630.8 706.8 606.1 730.6 581.5 757.8C554.2 788.0 521.8 828.7 500.0 857.8C484.0 879.2 472.7 895.1 460.5 915.2C448.0 935.8 437.5 956.0 426.0 980.0C412.2 1008.7 395.0 1044.1 384.5 1076.3C374.6 1106.8 369.0 1137.4 363.7 1168.1C358.5 1198.7 355.4 1229.6 353.0 1260.4C350.5 1290.9 349.9 1326.3 349.0 1352.0C348.3 1370.8 347.5 1382.7 347.6 1400.8C347.8 1423.4 348.7 1451.6 350.8 1477.0C352.9 1502.4 355.8 1529.1 360.3 1553.2C364.5 1575.4 371.0 1596.8 376.2 1616.7C380.9 1634.5 384.2 1652.7 390.0 1667.0C394.7 1678.5 399.5 1690.3 406.3 1696.7C411.5 1701.5 417.4 1705.1 424.1 1705.2C432.4 1705.3 443.1 1699.6 452.4 1692.9C464.8 1683.9 477.8 1667.9 488.9 1652.2C501.4 1634.5 511.1 1611.5 522.2 1591.1C533.3 1570.7 542.8 1547.1 555.6 1530.0C566.6 1515.2 578.1 1505.4 592.6 1493.0C610.3 1477.7 635.4 1458.8 655.6 1446.7C672.2 1436.6 688.3 1429.2 703.7 1423.3C717.1 1418.3 731.1 1412.2 742.6 1412.6C751.9 1412.9 760.7 1415.2 767.4 1421.5C776.3 1429.7 779.1 1447.2 785.9 1463.3C795.1 1485.0 806.0 1513.0 816.7 1540.0C828.5 1570.1 842.1 1604.8 853.7 1635.6C864.5 1664.1 877.3 1694.7 884.1 1718.3C889.0 1735.2 894.6 1750.1 893.7 1762.7C892.9 1772.5 890.4 1781.1 884.1 1788.1C876.3 1796.8 860.7 1802.1 846.0 1807.1C827.9 1813.4 804.5 1818.6 782.5 1819.8C759.1 1821.1 733.9 1819.3 709.5 1813.5C683.2 1807.2 656.3 1792.4 630.2 1781.7C604.5 1771.3 578.5 1758.1 554.0 1750.0C532.1 1742.8 509.0 1734.9 490.5 1734.1C476.2 1733.6 462.0 1734.9 452.4 1740.5C444.2 1745.3 436.9 1753.4 434.6 1762.7C431.7 1774.5 437.2 1790.1 442.9 1807.1C451.5 1833.0 471.6 1868.7 488.9 1900.2C507.7 1934.4 528.6 1969.8 552.2 2004.4C577.5 2041.5 608.0 2081.0 636.7 2115.6C663.5 2147.9 691.6 2178.1 718.5 2205.9C743.1 2231.3 764.7 2255.2 791.5 2276.3C818.9 2297.9 848.8 2316.3 881.5 2333.7C917.2 2352.8 958.2 2370.1 998.4 2384.9C1039.4 2400.0 1082.9 2411.9 1125.4 2423.0C1167.5 2434.1 1215.3 2444.8 1252.4 2451.6C1280.9 2456.8 1305.7 2461.8 1328.6 2462.4C1347.2 2462.9 1367.9 2463.9 1379.4 2457.9C1387.3 2453.8 1393.7 2447.2 1395.2 2438.9C1397.5 2427.0 1388.0 2408.0 1379.4 2391.3C1368.1 2369.4 1346.3 2344.5 1328.6 2321.4C1310.4 2297.9 1287.5 2273.4 1271.4 2251.6C1258.2 2233.7 1247.3 2218.7 1237.8 2200.8C1228.2 2182.7 1219.8 2163.5 1214.3 2143.7C1208.7 2123.4 1205.4 2098.7 1204.8 2080.2C1204.3 2065.9 1202.4 2051.2 1207.9 2042.1C1212.9 2034.0 1221.8 2030.2 1233.3 2026.2C1252.5 2019.5 1287.3 2019.3 1315.9 2016.7C1346.5 2013.9 1380.8 2011.3 1411.1 2010.3C1438.8 2009.4 1465.5 2009.7 1490.5 2010.3C1512.8 2010.9 1534.8 2010.3 1554.0 2013.5C1570.3 2016.2 1587.0 2018.5 1598.4 2026.2C1608.5 2033.0 1616.3 2043.4 1620.6 2054.8C1625.5 2067.3 1624.8 2083.1 1623.8 2099.2C1622.6 2118.6 1617.4 2142.8 1611.1 2162.7C1605.1 2181.4 1597.9 2198.3 1587.6 2215.4C1576.3 2234.2 1559.4 2252.6 1544.6 2270.4C1530.1 2287.9 1514.5 2303.7 1500.0 2321.4C1485.0 2339.7 1467.1 2360.5 1456.1 2378.6C1447.3 2392.9 1439.2 2407.3 1436.4 2419.6C1434.3 2428.9 1432.6 2439.4 1436.5 2445.2C1440.3 2450.9 1448.5 2453.2 1458.7 2454.8C1479.2 2457.9 1520.1 2450.4 1554.0 2445.2C1593.4 2439.3 1638.9 2429.1 1681.1 2419.3C1723.5 2409.5 1765.8 2398.7 1807.9 2386.4C1850.3 2374.0 1897.1 2358.9 1934.6 2345.0C1965.3 2333.6 1991.7 2322.6 2017.1 2310.7C2039.9 2300.0 2060.0 2286.0 2080.4 2277.5C2098.0 2270.1 2114.5 2264.9 2131.7 2261.1C2148.6 2257.4 2167.3 2253.7 2182.5 2254.8C2195.4 2255.7 2205.8 2261.1 2217.5 2264.3" fill="none" stroke="#0070C3" stroke-width="5.1" stroke-linecap="round" stroke-linejoin="round" opacity="0.68"/>
<polygon points="1405.0,1257.8 1410.5,1274.5 1428.0,1274.5 1413.8,1284.9 1419.2,1301.6 1405.0,1291.3 1390.8,1301.6 1396.2,1284.9 1382.0,1274.5 1399.5,1274.5" fill="#FFFF00" stroke="#222" stroke-width="1.5" stroke-linejoin="miter"/>
<circle cx="1614.0" cy="1258.0" r="6.5" fill="#FFFF00"/>
<circle cx="2029.0" cy="1416.0" r="6.5" fill="#FFFF00"/>
<g stroke-linejoin="round" stroke-linecap="round">
<defs><linearGradient id="pg" x1="0" y1="0" x2="1" y2="0.2"><stop offset="0" stop-color="#2E8B57" stop-opacity="0.0"/><stop offset="1" stop-color="#8B4513" stop-opacity="0.0"/></linearGradient></defs>
<polygon points="158.6,230.5 161.7,265.4 160.2,355.9 153.8,308.3" fill="#46A082"/>
<polygon points="158.6,230.5 213.3,193.2 222.9,233.3 161.7,265.4" fill="#50B08E"/>
<polygon points="161.7,265.4 222.9,233.3 216.5,328.9 160.2,355.9" fill="#57AB62"/>
<polygon points="160.2,355.9 216.5,328.9 302.2,378.1 234.8,403.5" fill="#58C46C"/>
<polygon points="213.3,193.2 280.8,163.8 298.3,196.3 222.9,233.3" fill="#5CA755"/>
<polygon points="280.8,163.8 352.2,208.3 376.8,246.3 298.3,196.3" fill="#8F8C4A"/>
<polygon points="376.8,246.3 391.1,282.9 384.0,362.2 372.9,338.4" fill="#96704C"/>
<polygon points="222.9,233.3 298.3,196.3 376.8,246.3 307.0,282.9" fill="#7CB842"/>
<polygon points="222.9,233.3 307.0,282.9 302.2,378.1 216.5,328.9" fill="#6BB346"/>
<polygon points="307.0,282.9 376.8,246.3 372.9,338.4 302.2,378.1" fill="#84A03E"/>
<polygon points="302.2,378.1 372.9,338.4 384.0,362.2 325.2,406.7" fill="#8A8446"/>
<polygon points="234.8,403.5 302.2,378.1 325.2,406.7 261.7,424.9" fill="#7A8C62"/>
<polyline points="250.6,238.4 301.4,208.3 364.9,243.2 311.0,271.7 250.6,238.4" fill="none" stroke="#3A7A1C" stroke-opacity="0.7" stroke-width="1.6"/>
<polyline points="250.6,238.4 247.5,305.1" fill="none" stroke="#3A7A1C" stroke-opacity="0.7" stroke-width="1.6"/>
<polyline points="247.5,305.1 216.5,328.9" fill="none" stroke="#3A7A1C" stroke-opacity="0.7" stroke-width="1.6"/>
<polyline points="247.5,305.1 302.2,332.9" fill="none" stroke="#3A7A1C" stroke-opacity="0.7" stroke-width="1.6"/>
<polyline points="302.2,332.9 360.2,319.4 364.9,243.2" fill="none" stroke="#3A7A1C" stroke-opacity="0.7" stroke-width="1.6"/>
<polyline points="311.0,271.7 307.0,282.9" fill="none" stroke="#3A7A1C" stroke-opacity="0.7" stroke-width="1.6"/>
<polyline points="160.2,232.1 193.5,265.4 190.3,335.2 160.2,314.6" fill="none" stroke="#3A7A1C" stroke-opacity="0.7" stroke-width="1.6"/>
<polyline points="193.5,265.4 222.9,251.1" fill="none" stroke="#3A7A1C" stroke-opacity="0.7" stroke-width="1.6"/>
<polyline points="190.3,335.2 216.5,328.9" fill="none" stroke="#3A7A1C" stroke-opacity="0.7" stroke-width="1.6"/>
<polyline points="190.3,335.2 192.7,381.3" fill="none" stroke="#3A7A1C" stroke-opacity="0.7" stroke-width="1.6"/>
<polyline points="250.6,373.3 253.8,409.8" fill="none" stroke="#3A7A1C" stroke-opacity="0.7" stroke-width="1.6"/>
<polyline points="250.6,373.3 302.2,344.8" fill="none" stroke="#3A7A1C" stroke-opacity="0.7" stroke-width="1.6"/>
<polyline points="250.6,373.3 192.7,346.3" fill="none" stroke="#3A7A1C" stroke-opacity="0.7" stroke-width="1.6"/>
<polyline points="226.8,202.7 290.3,167.8" fill="none" stroke="#3A7A1C" stroke-opacity="0.7" stroke-width="1.6"/>
<polyline points="226.8,202.7 250.6,238.4" fill="none" stroke="#3A7A1C" stroke-opacity="0.7" stroke-width="1.6"/>
<polyline points="360.2,319.4 382.4,360.6" fill="none" stroke="#3A7A1C" stroke-opacity="0.7" stroke-width="1.6"/>
<polyline points="306.2,347.9 320.5,387.6 382.4,360.6" fill="none" stroke="#3A7A1C" stroke-opacity="0.7" stroke-width="1.6"/>
<polyline points="320.5,387.6 325.2,406.7" fill="none" stroke="#3A7A1C" stroke-opacity="0.7" stroke-width="1.6"/>
<polyline points="364.9,243.2 379.2,243.2" fill="none" stroke="#3A7A1C" stroke-opacity="0.7" stroke-width="1.6"/>
<line x1="158.6" y1="230.5" x2="213.3" y2="193.2" stroke="#23702A" stroke-width="2.9"/>
<line x1="213.3" y1="193.2" x2="280.8" y2="163.8" stroke="#23702A" stroke-width="2.9"/>
<line x1="213.3" y1="193.2" x2="222.9" y2="233.3" stroke="#23702A" stroke-width="2.9"/>
<line x1="158.6" y1="230.5" x2="161.7" y2="265.4" stroke="#23702A" stroke-width="2.9"/>
<line x1="161.7" y1="265.4" x2="222.9" y2="233.3" stroke="#23702A" stroke-width="2.9"/>
<line x1="161.7" y1="265.4" x2="160.2" y2="355.9" stroke="#23702A" stroke-width="2.9"/>
<line x1="160.2" y1="355.9" x2="216.5" y2="328.9" stroke="#23702A" stroke-width="2.9"/>
<line x1="216.5" y1="328.9" x2="222.9" y2="233.3" stroke="#23702A" stroke-width="2.9"/>
<line x1="222.9" y1="233.3" x2="298.3" y2="196.3" stroke="#23702A" stroke-width="2.9"/>
<line x1="222.9" y1="233.3" x2="307.0" y2="282.9" stroke="#23702A" stroke-width="2.9"/>
<line x1="307.0" y1="282.9" x2="302.2" y2="378.1" stroke="#23702A" stroke-width="2.9"/>
<line x1="216.5" y1="328.9" x2="302.2" y2="378.1" stroke="#23702A" stroke-width="2.9"/>
<line x1="160.2" y1="355.9" x2="234.8" y2="403.5" stroke="#23702A" stroke-width="2.9"/>
<line x1="234.8" y1="403.5" x2="302.2" y2="378.1" stroke="#23702A" stroke-width="2.9"/>
<line x1="158.6" y1="230.5" x2="153.8" y2="308.3" stroke="#23702A" stroke-width="2.9"/>
<line x1="153.8" y1="308.3" x2="160.2" y2="355.9" stroke="#23702A" stroke-width="2.9"/>
<line x1="298.3" y1="196.3" x2="280.8" y2="163.8" stroke="#23702A" stroke-width="2.9"/>
<line x1="280.8" y1="163.8" x2="352.2" y2="208.3" stroke="#3A4410" stroke-width="2.6"/>
<line x1="352.2" y1="208.3" x2="376.8" y2="246.3" stroke="#3A4410" stroke-width="2.6"/>
<line x1="376.8" y1="246.3" x2="391.1" y2="282.9" stroke="#3A4410" stroke-width="2.6"/>
<line x1="391.1" y1="282.9" x2="384.0" y2="362.2" stroke="#3A4410" stroke-width="2.6"/>
<line x1="384.0" y1="362.2" x2="325.2" y2="406.7" stroke="#3A4410" stroke-width="2.6"/>
<line x1="325.2" y1="406.7" x2="261.7" y2="424.9" stroke="#3A4410" stroke-width="2.6"/>
<line x1="261.7" y1="424.9" x2="234.8" y2="403.5" stroke="#3A4410" stroke-width="2.6"/>
<line x1="298.3" y1="196.3" x2="376.8" y2="246.3" stroke="#3A4410" stroke-width="2.6"/>
<line x1="307.0" y1="282.9" x2="376.8" y2="246.3" stroke="#3A4410" stroke-width="2.6"/>
<line x1="376.8" y1="246.3" x2="372.9" y2="338.4" stroke="#3A4410" stroke-width="2.6"/>
<line x1="372.9" y1="338.4" x2="302.2" y2="378.1" stroke="#3A4410" stroke-width="2.6"/>
<line x1="372.9" y1="338.4" x2="384.0" y2="362.2" stroke="#3A4410" stroke-width="2.6"/>
<line x1="302.2" y1="378.1" x2="325.2" y2="406.7" stroke="#3A4410" stroke-width="2.6"/>
</g>
</svg>
<div class="t" id="t1" style="left:57px;top:55.5px;font-size:71.6px;font-weight:900;color:#000;transform:scale(1,0.83)">菱形三十面体</div>
<div class="t" id="t2" style="left:529.5px;top:75.3px;font-size:35.8px;font-weight:900;color:#f00;transform:scale(1,0.93)"><span style="display:inline-block;width:35.8px;font-size:30px;-webkit-text-stroke:2.4px #f00;position:relative;top:-1px;left:1px">△</span>本体のみでは成立しないけど中芯を入れれば可</div>
<div class="t" id="t3a" style="left:183.1px;top:406.6px;font-size:124px;font-weight:700;color:#4EC29F">●</div>
<div class="t" id="t3" style="left:252.5px;top:441.5px;font-size:70px;font-weight:700;color:#4EC29F;-webkit-text-stroke:1.5px #4EC29F;letter-spacing:-0.3px">60</div>
<div class="t" id="t4" style="left:50.5px;top:526px;font-size:38px;font-weight:700;color:#80807E;-webkit-text-stroke:0.8px #80807E;letter-spacing:0.2px;transform:scale(1,0.86)">ビーズ4mm テグス 100cm</div>
<div class="t" id="t5" style="left:121.5px;top:580.5px;font-size:46px;font-weight:700;color:#80807E;-webkit-text-stroke:1px #80807E;letter-spacing:2.2px;transform:scale(1,0.95)">中芯 14mm 玉</div>
</body></html>
